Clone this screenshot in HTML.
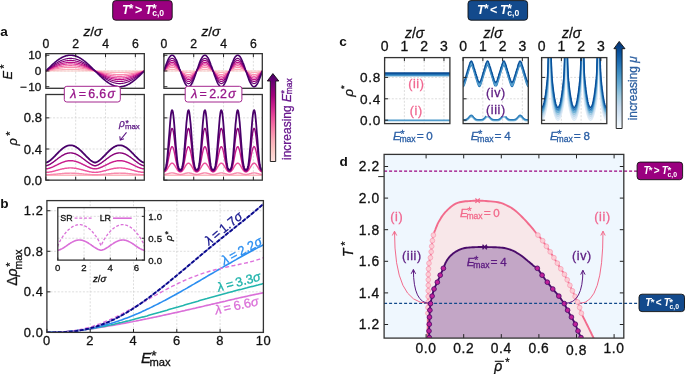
<!DOCTYPE html>
<html><head><meta charset="utf-8"><style>
html,body{margin:0;padding:0;background:#fff;width:685px;height:374px;overflow:hidden}
svg{display:block;font-family:"Liberation Sans",sans-serif;will-change:transform}
</style></head><body>
<svg xmlns="http://www.w3.org/2000/svg" width="685" height="374" viewBox="0 0 685 374" font-family='Liberation Sans, sans-serif'><clipPath id="caL"><rect x="45.85" y="53.65" width="98.45" height="34.65"/></clipPath>
<line x1="75.68" y1="53.65" x2="75.68" y2="88.30" stroke="#cfcfcf" stroke-width="0.7" stroke-dasharray="2,1.6"/>
<line x1="105.52" y1="53.65" x2="105.52" y2="88.30" stroke="#cfcfcf" stroke-width="0.7" stroke-dasharray="2,1.6"/>
<line x1="135.35" y1="53.65" x2="135.35" y2="88.30" stroke="#cfcfcf" stroke-width="0.7" stroke-dasharray="2,1.6"/>
<line x1="45.85" y1="70.97" x2="144.30" y2="70.97" stroke="#cfcfcf" stroke-width="0.7" stroke-dasharray="2,1.6"/>
<g clip-path="url(#caL)">
<path d="M45.9,71.0 46.3,71.0 46.7,71.0 47.1,71.0 47.5,71.0 47.9,71.0 48.3,71.0 48.7,71.0 49.1,71.0 49.6,71.0 50.0,71.0 50.4,71.0 50.8,71.0 51.2,71.0 51.6,71.0 52.0,71.0 52.4,71.0 52.9,71.0 53.3,71.0 53.7,71.0 54.1,71.0 54.5,71.0 54.9,71.0 55.3,71.0 55.7,71.0 56.1,71.0 56.6,71.0 57.0,71.0 57.4,71.0 57.8,71.0 58.2,71.0 58.6,71.0 59.0,71.0 59.4,71.0 59.9,71.0 60.3,71.0 60.7,71.0 61.1,71.0 61.5,71.0 61.9,71.0 62.3,71.0 62.7,71.0 63.2,71.0 63.6,71.0 64.0,71.0 64.4,71.0 64.8,71.0 65.2,71.0 65.6,71.0 66.0,71.0 66.4,71.0 66.9,71.0 67.3,71.0 67.7,71.0 68.1,71.0 68.5,71.0 68.9,71.0 69.3,71.0 69.7,71.0 70.2,71.0 70.6,71.0 71.0,71.0 71.4,71.0 71.8,71.0 72.2,71.0 72.6,71.0 73.0,71.0 73.4,71.0 73.9,71.0 74.3,71.0 74.7,71.0 75.1,71.0 75.5,71.0 75.9,71.0 76.3,71.0 76.7,71.0 77.2,71.0 77.6,71.0 78.0,71.0 78.4,71.0 78.8,71.0 79.2,71.0 79.6,71.0 80.0,71.0 80.5,71.0 80.9,71.0 81.3,71.0 81.7,71.0 82.1,71.0 82.5,71.0 82.9,71.0 83.3,71.0 83.7,71.0 84.2,71.0 84.6,71.0 85.0,71.0 85.4,71.0 85.8,71.0 86.2,71.0 86.6,71.0 87.0,71.0 87.5,71.0 87.9,71.0 88.3,71.0 88.7,71.0 89.1,71.0 89.5,71.0 89.9,71.0 90.3,71.0 90.7,71.0 91.2,71.0 91.6,71.0 92.0,71.0 92.4,71.0 92.8,71.0 93.2,71.0 93.6,71.0 94.0,71.0 94.5,71.0 94.9,71.0 95.3,71.0 95.7,71.0 96.1,71.0 96.5,71.0 96.9,71.0 97.3,71.0 97.8,71.0 98.2,71.0 98.6,71.0 99.0,71.0 99.4,71.0 99.8,71.0 100.2,71.0 100.6,71.0 101.0,71.0 101.5,71.0 101.9,71.0 102.3,71.0 102.7,71.0 103.1,71.0 103.5,71.0 103.9,71.0 104.3,71.0 104.8,71.0 105.2,71.0 105.6,71.0 106.0,71.0 106.4,71.0 106.8,71.0 107.2,71.0 107.6,71.0 108.1,71.0 108.5,71.0 108.9,71.0 109.3,71.0 109.7,71.0 110.1,71.0 110.5,71.0 110.9,71.0 111.3,71.0 111.8,71.0 112.2,71.0 112.6,71.0 113.0,71.0 113.4,71.0 113.8,71.0 114.2,71.0 114.6,71.0 115.1,71.0 115.5,71.0 115.9,71.0 116.3,71.0 116.7,71.0 117.1,71.0 117.5,71.0 117.9,71.0 118.3,71.0 118.8,71.0 119.2,71.0 119.6,71.0 120.0,71.0 120.4,71.0 120.8,71.0 121.2,71.0 121.6,71.0 122.1,71.0 122.5,71.0 122.9,71.0 123.3,71.0 123.7,71.0 124.1,71.0 124.5,71.0 124.9,71.0 125.4,71.0 125.8,71.0 126.2,71.0 126.6,71.0 127.0,71.0 127.4,71.0 127.8,71.0 128.2,71.0 128.6,71.0 129.1,71.0 129.5,71.0 129.9,71.0 130.3,71.0 130.7,71.0 131.1,71.0 131.5,71.0 131.9,71.0 132.4,71.0 132.8,71.0 133.2,71.0 133.6,71.0 134.0,71.0 134.4,71.0 134.8,71.0 135.2,71.0 135.6,71.0 136.1,71.0 136.5,71.0 136.9,71.0 137.3,71.0 137.7,71.0 138.1,71.0 138.5,71.0 138.9,71.0 139.4,71.0 139.8,71.0 140.2,71.0 140.6,71.0 141.0,71.0 141.4,71.0 141.8,71.0 142.2,71.0 142.7,71.0 143.1,71.0 143.5,71.0 143.9,71.0 144.3,71.0" fill="none" stroke="#fccbc7" stroke-width="1.15" stroke-linejoin="round" />
<path d="M45.9,71.0 46.3,70.9 46.7,70.9 47.1,70.9 47.5,70.8 47.9,70.8 48.3,70.7 48.7,70.7 49.1,70.6 49.6,70.6 50.0,70.6 50.4,70.5 50.8,70.5 51.2,70.4 51.6,70.4 52.0,70.4 52.4,70.3 52.9,70.3 53.3,70.3 53.7,70.2 54.1,70.2 54.5,70.1 54.9,70.1 55.3,70.1 55.7,70.0 56.1,70.0 56.6,70.0 57.0,69.9 57.4,69.9 57.8,69.9 58.2,69.9 58.6,69.8 59.0,69.8 59.4,69.8 59.9,69.7 60.3,69.7 60.7,69.7 61.1,69.7 61.5,69.7 61.9,69.6 62.3,69.6 62.7,69.6 63.2,69.6 63.6,69.6 64.0,69.5 64.4,69.5 64.8,69.5 65.2,69.5 65.6,69.5 66.0,69.5 66.4,69.5 66.9,69.4 67.3,69.4 67.7,69.4 68.1,69.4 68.5,69.4 68.9,69.4 69.3,69.4 69.7,69.4 70.2,69.4 70.6,69.4 71.0,69.4 71.4,69.4 71.8,69.4 72.2,69.4 72.6,69.4 73.0,69.4 73.4,69.4 73.9,69.4 74.3,69.4 74.7,69.5 75.1,69.5 75.5,69.5 75.9,69.5 76.3,69.5 76.7,69.5 77.2,69.5 77.6,69.6 78.0,69.6 78.4,69.6 78.8,69.6 79.2,69.6 79.6,69.7 80.0,69.7 80.5,69.7 80.9,69.7 81.3,69.8 81.7,69.8 82.1,69.8 82.5,69.8 82.9,69.9 83.3,69.9 83.7,69.9 84.2,70.0 84.6,70.0 85.0,70.0 85.4,70.1 85.8,70.1 86.2,70.1 86.6,70.2 87.0,70.2 87.5,70.2 87.9,70.3 88.3,70.3 88.7,70.4 89.1,70.4 89.5,70.4 89.9,70.5 90.3,70.5 90.7,70.5 91.2,70.6 91.6,70.6 92.0,70.7 92.4,70.7 92.8,70.7 93.2,70.8 93.6,70.8 94.0,70.9 94.5,70.9 94.9,71.0 95.3,71.0 95.7,71.0 96.1,71.1 96.5,71.1 96.9,71.2 97.3,71.2 97.8,71.2 98.2,71.3 98.6,71.3 99.0,71.4 99.4,71.4 99.8,71.4 100.2,71.5 100.6,71.5 101.0,71.6 101.5,71.6 101.9,71.6 102.3,71.7 102.7,71.7 103.1,71.7 103.5,71.8 103.9,71.8 104.3,71.9 104.8,71.9 105.2,71.9 105.6,72.0 106.0,72.0 106.4,72.0 106.8,72.0 107.2,72.1 107.6,72.1 108.1,72.1 108.5,72.2 108.9,72.2 109.3,72.2 109.7,72.2 110.1,72.3 110.5,72.3 110.9,72.3 111.3,72.3 111.8,72.4 112.2,72.4 112.6,72.4 113.0,72.4 113.4,72.4 113.8,72.4 114.2,72.5 114.6,72.5 115.1,72.5 115.5,72.5 115.9,72.5 116.3,72.5 116.7,72.5 117.1,72.5 117.5,72.5 117.9,72.5 118.3,72.5 118.8,72.5 119.2,72.5 119.6,72.5 120.0,72.5 120.4,72.5 120.8,72.5 121.2,72.5 121.6,72.5 122.1,72.5 122.5,72.5 122.9,72.5 123.3,72.5 123.7,72.5 124.1,72.5 124.5,72.5 124.9,72.5 125.4,72.4 125.8,72.4 126.2,72.4 126.6,72.4 127.0,72.4 127.4,72.4 127.8,72.3 128.2,72.3 128.6,72.3 129.1,72.3 129.5,72.3 129.9,72.2 130.3,72.2 130.7,72.2 131.1,72.1 131.5,72.1 131.9,72.1 132.4,72.1 132.8,72.0 133.2,72.0 133.6,72.0 134.0,71.9 134.4,71.9 134.8,71.9 135.2,71.8 135.6,71.8 136.1,71.8 136.5,71.7 136.9,71.7 137.3,71.7 137.7,71.6 138.1,71.6 138.5,71.5 138.9,71.5 139.4,71.5 139.8,71.4 140.2,71.4 140.6,71.3 141.0,71.3 141.4,71.3 141.8,71.2 142.2,71.2 142.7,71.1 143.1,71.1 143.5,71.1 143.9,71.0 144.3,71.0" fill="none" stroke="#fbb0ba" stroke-width="1.15" stroke-linejoin="round" />
<path d="M45.9,71.0 46.3,70.9 46.7,70.8 47.1,70.7 47.5,70.6 47.9,70.5 48.3,70.4 48.7,70.3 49.1,70.2 49.6,70.1 50.0,70.0 50.4,69.9 50.8,69.9 51.2,69.8 51.6,69.7 52.0,69.6 52.4,69.5 52.9,69.4 53.3,69.3 53.7,69.2 54.1,69.2 54.5,69.1 54.9,69.0 55.3,68.9 55.7,68.8 56.1,68.8 56.6,68.7 57.0,68.6 57.4,68.5 57.8,68.5 58.2,68.4 58.6,68.3 59.0,68.3 59.4,68.2 59.9,68.2 60.3,68.1 60.7,68.0 61.1,68.0 61.5,67.9 61.9,67.9 62.3,67.8 62.7,67.8 63.2,67.7 63.6,67.7 64.0,67.7 64.4,67.6 64.8,67.6 65.2,67.6 65.6,67.5 66.0,67.5 66.4,67.5 66.9,67.4 67.3,67.4 67.7,67.4 68.1,67.4 68.5,67.4 68.9,67.4 69.3,67.4 69.7,67.4 70.2,67.4 70.6,67.4 71.0,67.4 71.4,67.4 71.8,67.4 72.2,67.4 72.6,67.4 73.0,67.4 73.4,67.4 73.9,67.4 74.3,67.5 74.7,67.5 75.1,67.5 75.5,67.5 75.9,67.6 76.3,67.6 76.7,67.6 77.2,67.7 77.6,67.7 78.0,67.8 78.4,67.8 78.8,67.9 79.2,67.9 79.6,68.0 80.0,68.0 80.5,68.1 80.9,68.1 81.3,68.2 81.7,68.2 82.1,68.3 82.5,68.4 82.9,68.4 83.3,68.5 83.7,68.6 84.2,68.7 84.6,68.7 85.0,68.8 85.4,68.9 85.8,69.0 86.2,69.0 86.6,69.1 87.0,69.2 87.5,69.3 87.9,69.4 88.3,69.5 88.7,69.5 89.1,69.6 89.5,69.7 89.9,69.8 90.3,69.9 90.7,70.0 91.2,70.1 91.6,70.2 92.0,70.3 92.4,70.4 92.8,70.5 93.2,70.5 93.6,70.6 94.0,70.7 94.5,70.8 94.9,70.9 95.3,71.0 95.7,71.1 96.1,71.2 96.5,71.3 96.9,71.4 97.3,71.5 97.8,71.6 98.2,71.7 98.6,71.8 99.0,71.9 99.4,72.0 99.8,72.1 100.2,72.1 100.6,72.2 101.0,72.3 101.5,72.4 101.9,72.5 102.3,72.6 102.7,72.7 103.1,72.8 103.5,72.8 103.9,72.9 104.3,73.0 104.8,73.1 105.2,73.2 105.6,73.2 106.0,73.3 106.4,73.4 106.8,73.4 107.2,73.5 107.6,73.6 108.1,73.6 108.5,73.7 108.9,73.8 109.3,73.8 109.7,73.9 110.1,73.9 110.5,74.0 110.9,74.0 111.3,74.1 111.8,74.1 112.2,74.2 112.6,74.2 113.0,74.3 113.4,74.3 113.8,74.3 114.2,74.4 114.6,74.4 115.1,74.4 115.5,74.5 115.9,74.5 116.3,74.5 116.7,74.5 117.1,74.5 117.5,74.6 117.9,74.6 118.3,74.6 118.8,74.6 119.2,74.6 119.6,74.6 120.0,74.6 120.4,74.6 120.8,74.6 121.2,74.6 121.6,74.6 122.1,74.6 122.5,74.5 122.9,74.5 123.3,74.5 123.7,74.5 124.1,74.5 124.5,74.4 124.9,74.4 125.4,74.4 125.8,74.3 126.2,74.3 126.6,74.3 127.0,74.2 127.4,74.2 127.8,74.1 128.2,74.1 128.6,74.0 129.1,74.0 129.5,73.9 129.9,73.9 130.3,73.8 130.7,73.7 131.1,73.7 131.5,73.6 131.9,73.5 132.4,73.5 132.8,73.4 133.2,73.3 133.6,73.3 134.0,73.2 134.4,73.1 134.8,73.0 135.2,73.0 135.6,72.9 136.1,72.8 136.5,72.7 136.9,72.6 137.3,72.5 137.7,72.5 138.1,72.4 138.5,72.3 138.9,72.2 139.4,72.1 139.8,72.0 140.2,71.9 140.6,71.8 141.0,71.7 141.4,71.6 141.8,71.5 142.2,71.4 142.7,71.4 143.1,71.3 143.5,71.2 143.9,71.1 144.3,71.0" fill="none" stroke="#f98daf" stroke-width="1.15" stroke-linejoin="round" />
<path d="M45.9,71.0 46.3,70.8 46.7,70.7 47.1,70.6 47.5,70.4 47.9,70.3 48.3,70.1 48.7,70.0 49.1,69.9 49.6,69.7 50.0,69.6 50.4,69.4 50.8,69.3 51.2,69.2 51.6,69.0 52.0,68.9 52.4,68.8 52.9,68.7 53.3,68.5 53.7,68.4 54.1,68.3 54.5,68.2 54.9,68.0 55.3,67.9 55.7,67.8 56.1,67.7 56.6,67.6 57.0,67.5 57.4,67.4 57.8,67.3 58.2,67.2 58.6,67.1 59.0,67.0 59.4,66.9 59.9,66.8 60.3,66.7 60.7,66.6 61.1,66.5 61.5,66.5 61.9,66.4 62.3,66.3 62.7,66.3 63.2,66.2 63.6,66.1 64.0,66.1 64.4,66.0 64.8,66.0 65.2,65.9 65.6,65.9 66.0,65.8 66.4,65.8 66.9,65.8 67.3,65.7 67.7,65.7 68.1,65.7 68.5,65.7 68.9,65.6 69.3,65.6 69.7,65.6 70.2,65.6 70.6,65.6 71.0,65.6 71.4,65.6 71.8,65.6 72.2,65.7 72.6,65.7 73.0,65.7 73.4,65.7 73.9,65.7 74.3,65.8 74.7,65.8 75.1,65.9 75.5,65.9 75.9,65.9 76.3,66.0 76.7,66.0 77.2,66.1 77.6,66.2 78.0,66.2 78.4,66.3 78.8,66.4 79.2,66.4 79.6,66.5 80.0,66.6 80.5,66.7 80.9,66.8 81.3,66.8 81.7,66.9 82.1,67.0 82.5,67.1 82.9,67.2 83.3,67.3 83.7,67.4 84.2,67.5 84.6,67.6 85.0,67.8 85.4,67.9 85.8,68.0 86.2,68.1 86.6,68.2 87.0,68.3 87.5,68.5 87.9,68.6 88.3,68.7 88.7,68.9 89.1,69.0 89.5,69.1 89.9,69.2 90.3,69.4 90.7,69.5 91.2,69.7 91.6,69.8 92.0,69.9 92.4,70.1 92.8,70.2 93.2,70.3 93.6,70.5 94.0,70.6 94.5,70.8 94.9,70.9 95.3,71.0 95.7,71.2 96.1,71.3 96.5,71.5 96.9,71.6 97.3,71.7 97.8,71.9 98.2,72.0 98.6,72.2 99.0,72.3 99.4,72.4 99.8,72.6 100.2,72.7 100.6,72.8 101.0,73.0 101.5,73.1 101.9,73.2 102.3,73.4 102.7,73.5 103.1,73.6 103.5,73.7 103.9,73.8 104.3,74.0 104.8,74.1 105.2,74.2 105.6,74.3 106.0,74.4 106.4,74.5 106.8,74.6 107.2,74.7 107.6,74.8 108.1,74.9 108.5,75.0 108.9,75.1 109.3,75.2 109.7,75.3 110.1,75.4 110.5,75.4 110.9,75.5 111.3,75.6 111.8,75.7 112.2,75.7 112.6,75.8 113.0,75.8 113.4,75.9 113.8,76.0 114.2,76.0 114.6,76.1 115.1,76.1 115.5,76.1 115.9,76.2 116.3,76.2 116.7,76.2 117.1,76.3 117.5,76.3 117.9,76.3 118.3,76.3 118.8,76.3 119.2,76.3 119.6,76.3 120.0,76.3 120.4,76.3 120.8,76.3 121.2,76.3 121.6,76.3 122.1,76.3 122.5,76.2 122.9,76.2 123.3,76.2 123.7,76.2 124.1,76.1 124.5,76.1 124.9,76.0 125.4,76.0 125.8,75.9 126.2,75.9 126.6,75.8 127.0,75.8 127.4,75.7 127.8,75.6 128.2,75.6 128.6,75.5 129.1,75.4 129.5,75.3 129.9,75.2 130.3,75.1 130.7,75.1 131.1,75.0 131.5,74.9 131.9,74.8 132.4,74.7 132.8,74.6 133.2,74.5 133.6,74.4 134.0,74.2 134.4,74.1 134.8,74.0 135.2,73.9 135.6,73.8 136.1,73.7 136.5,73.5 136.9,73.4 137.3,73.3 137.7,73.2 138.1,73.0 138.5,72.9 138.9,72.8 139.4,72.6 139.8,72.5 140.2,72.4 140.6,72.2 141.0,72.1 141.4,72.0 141.8,71.8 142.2,71.7 142.7,71.5 143.1,71.4 143.5,71.3 143.9,71.1 144.3,71.0" fill="none" stroke="#f463a0" stroke-width="1.15" stroke-linejoin="round" />
<path d="M45.9,71.0 46.3,70.8 46.7,70.6 47.1,70.4 47.5,70.2 47.9,70.0 48.3,69.9 48.7,69.7 49.1,69.5 49.6,69.3 50.0,69.1 50.4,69.0 50.8,68.8 51.2,68.6 51.6,68.4 52.0,68.3 52.4,68.1 52.9,67.9 53.3,67.7 53.7,67.6 54.1,67.4 54.5,67.3 54.9,67.1 55.3,66.9 55.7,66.8 56.1,66.6 56.6,66.5 57.0,66.4 57.4,66.2 57.8,66.1 58.2,65.9 58.6,65.8 59.0,65.7 59.4,65.6 59.9,65.5 60.3,65.3 60.7,65.2 61.1,65.1 61.5,65.0 61.9,64.9 62.3,64.8 62.7,64.7 63.2,64.6 63.6,64.6 64.0,64.5 64.4,64.4 64.8,64.3 65.2,64.3 65.6,64.2 66.0,64.2 66.4,64.1 66.9,64.1 67.3,64.0 67.7,64.0 68.1,64.0 68.5,63.9 68.9,63.9 69.3,63.9 69.7,63.9 70.2,63.9 70.6,63.9 71.0,63.9 71.4,63.9 71.8,63.9 72.2,63.9 72.6,64.0 73.0,64.0 73.4,64.0 73.9,64.1 74.3,64.1 74.7,64.1 75.1,64.2 75.5,64.3 75.9,64.3 76.3,64.4 76.7,64.4 77.2,64.5 77.6,64.6 78.0,64.7 78.4,64.8 78.8,64.9 79.2,65.0 79.6,65.1 80.0,65.2 80.5,65.3 80.9,65.4 81.3,65.5 81.7,65.6 82.1,65.8 82.5,65.9 82.9,66.0 83.3,66.1 83.7,66.3 84.2,66.4 84.6,66.6 85.0,66.7 85.4,66.9 85.8,67.0 86.2,67.2 86.6,67.3 87.0,67.5 87.5,67.7 87.9,67.8 88.3,68.0 88.7,68.2 89.1,68.3 89.5,68.5 89.9,68.7 90.3,68.9 90.7,69.0 91.2,69.2 91.6,69.4 92.0,69.6 92.4,69.8 92.8,70.0 93.2,70.1 93.6,70.3 94.0,70.5 94.5,70.7 94.9,70.9 95.3,71.1 95.7,71.3 96.1,71.4 96.5,71.6 96.9,71.8 97.3,72.0 97.8,72.2 98.2,72.4 98.6,72.5 99.0,72.7 99.4,72.9 99.8,73.1 100.2,73.3 100.6,73.4 101.0,73.6 101.5,73.8 101.9,74.0 102.3,74.1 102.7,74.3 103.1,74.5 103.5,74.6 103.9,74.8 104.3,74.9 104.8,75.1 105.2,75.2 105.6,75.4 106.0,75.5 106.4,75.7 106.8,75.8 107.2,75.9 107.6,76.1 108.1,76.2 108.5,76.3 108.9,76.4 109.3,76.6 109.7,76.7 110.1,76.8 110.5,76.9 110.9,77.0 111.3,77.1 111.8,77.2 112.2,77.3 112.6,77.3 113.0,77.4 113.4,77.5 113.8,77.6 114.2,77.6 114.6,77.7 115.1,77.8 115.5,77.8 115.9,77.9 116.3,77.9 116.7,77.9 117.1,78.0 117.5,78.0 117.9,78.0 118.3,78.0 118.8,78.1 119.2,78.1 119.6,78.1 120.0,78.1 120.4,78.1 120.8,78.0 121.2,78.0 121.6,78.0 122.1,78.0 122.5,78.0 122.9,77.9 123.3,77.9 123.7,77.8 124.1,77.8 124.5,77.7 124.9,77.7 125.4,77.6 125.8,77.5 126.2,77.5 126.6,77.4 127.0,77.3 127.4,77.2 127.8,77.1 128.2,77.0 128.6,76.9 129.1,76.8 129.5,76.7 129.9,76.6 130.3,76.5 130.7,76.4 131.1,76.3 131.5,76.1 131.9,76.0 132.4,75.9 132.8,75.7 133.2,75.6 133.6,75.5 134.0,75.3 134.4,75.2 134.8,75.0 135.2,74.8 135.6,74.7 136.1,74.5 136.5,74.4 136.9,74.2 137.3,74.0 137.7,73.9 138.1,73.7 138.5,73.5 138.9,73.4 139.4,73.2 139.8,73.0 140.2,72.8 140.6,72.6 141.0,72.5 141.4,72.3 141.8,72.1 142.2,71.9 142.7,71.7 143.1,71.5 143.5,71.3 143.9,71.2 144.3,71.0" fill="none" stroke="#e03a98" stroke-width="1.15" stroke-linejoin="round" />
<path d="M45.9,71.0 46.3,70.7 46.7,70.5 47.1,70.3 47.5,70.1 47.9,69.8 48.3,69.6 48.7,69.4 49.1,69.2 49.6,68.9 50.0,68.7 50.4,68.5 50.8,68.3 51.2,68.1 51.6,67.9 52.0,67.6 52.4,67.4 52.9,67.2 53.3,67.0 53.7,66.8 54.1,66.6 54.5,66.4 54.9,66.2 55.3,66.1 55.7,65.9 56.1,65.7 56.6,65.5 57.0,65.3 57.4,65.2 57.8,65.0 58.2,64.8 58.6,64.7 59.0,64.5 59.4,64.4 59.9,64.2 60.3,64.1 60.7,63.9 61.1,63.8 61.5,63.7 61.9,63.6 62.3,63.5 62.7,63.3 63.2,63.2 63.6,63.1 64.0,63.0 64.4,63.0 64.8,62.9 65.2,62.8 65.6,62.7 66.0,62.7 66.4,62.6 66.9,62.5 67.3,62.5 67.7,62.4 68.1,62.4 68.5,62.4 68.9,62.4 69.3,62.3 69.7,62.3 70.2,62.3 70.6,62.3 71.0,62.3 71.4,62.3 71.8,62.3 72.2,62.4 72.6,62.4 73.0,62.4 73.4,62.5 73.9,62.5 74.3,62.6 74.7,62.6 75.1,62.7 75.5,62.8 75.9,62.8 76.3,62.9 76.7,63.0 77.2,63.1 77.6,63.2 78.0,63.3 78.4,63.4 78.8,63.5 79.2,63.6 79.6,63.8 80.0,63.9 80.5,64.0 80.9,64.2 81.3,64.3 81.7,64.4 82.1,64.6 82.5,64.7 82.9,64.9 83.3,65.1 83.7,65.2 84.2,65.4 84.6,65.6 85.0,65.8 85.4,66.0 85.8,66.1 86.2,66.3 86.6,66.5 87.0,66.7 87.5,66.9 87.9,67.1 88.3,67.3 88.7,67.5 89.1,67.8 89.5,68.0 89.9,68.2 90.3,68.4 90.7,68.6 91.2,68.8 91.6,69.1 92.0,69.3 92.4,69.5 92.8,69.7 93.2,70.0 93.6,70.2 94.0,70.4 94.5,70.6 94.9,70.9 95.3,71.1 95.7,71.3 96.1,71.5 96.5,71.8 96.9,72.0 97.3,72.2 97.8,72.4 98.2,72.7 98.6,72.9 99.0,73.1 99.4,73.3 99.8,73.6 100.2,73.8 100.6,74.0 101.0,74.2 101.5,74.4 101.9,74.6 102.3,74.8 102.7,75.0 103.1,75.2 103.5,75.4 103.9,75.6 104.3,75.8 104.8,76.0 105.2,76.2 105.6,76.4 106.0,76.5 106.4,76.7 106.8,76.9 107.2,77.0 107.6,77.2 108.1,77.4 108.5,77.5 108.9,77.7 109.3,77.8 109.7,77.9 110.1,78.1 110.5,78.2 110.9,78.3 111.3,78.4 111.8,78.6 112.2,78.7 112.6,78.8 113.0,78.9 113.4,79.0 113.8,79.0 114.2,79.1 114.6,79.2 115.1,79.3 115.5,79.3 115.9,79.4 116.3,79.4 116.7,79.5 117.1,79.5 117.5,79.6 117.9,79.6 118.3,79.6 118.8,79.6 119.2,79.6 119.6,79.6 120.0,79.6 120.4,79.6 120.8,79.6 121.2,79.6 121.6,79.6 122.1,79.5 122.5,79.5 122.9,79.5 123.3,79.4 123.7,79.4 124.1,79.3 124.5,79.2 124.9,79.2 125.4,79.1 125.8,79.0 126.2,78.9 126.6,78.8 127.0,78.7 127.4,78.6 127.8,78.5 128.2,78.4 128.6,78.3 129.1,78.1 129.5,78.0 129.9,77.9 130.3,77.7 130.7,77.6 131.1,77.4 131.5,77.3 131.9,77.1 132.4,77.0 132.8,76.8 133.2,76.6 133.6,76.4 134.0,76.3 134.4,76.1 134.8,75.9 135.2,75.7 135.6,75.5 136.1,75.3 136.5,75.1 136.9,74.9 137.3,74.7 137.7,74.5 138.1,74.3 138.5,74.1 138.9,73.9 139.4,73.7 139.8,73.4 140.2,73.2 140.6,73.0 141.0,72.8 141.4,72.6 141.8,72.3 142.2,72.1 142.7,71.9 143.1,71.7 143.5,71.4 143.9,71.2 144.3,71.0" fill="none" stroke="#be1286" stroke-width="1.15" stroke-linejoin="round" />
<path d="M45.9,71.0 46.3,70.7 46.7,70.4 47.1,70.1 47.5,69.9 47.9,69.6 48.3,69.3 48.7,69.0 49.1,68.8 49.6,68.5 50.0,68.2 50.4,68.0 50.8,67.7 51.2,67.4 51.6,67.2 52.0,66.9 52.4,66.7 52.9,66.4 53.3,66.2 53.7,65.9 54.1,65.7 54.5,65.4 54.9,65.2 55.3,65.0 55.7,64.7 56.1,64.5 56.6,64.3 57.0,64.1 57.4,63.9 57.8,63.7 58.2,63.5 58.6,63.3 59.0,63.1 59.4,62.9 59.9,62.7 60.3,62.6 60.7,62.4 61.1,62.3 61.5,62.1 61.9,62.0 62.3,61.8 62.7,61.7 63.2,61.6 63.6,61.4 64.0,61.3 64.4,61.2 64.8,61.1 65.2,61.0 65.6,60.9 66.0,60.8 66.4,60.8 66.9,60.7 67.3,60.6 67.7,60.6 68.1,60.5 68.5,60.5 68.9,60.5 69.3,60.5 69.7,60.4 70.2,60.4 70.6,60.4 71.0,60.4 71.4,60.4 71.8,60.5 72.2,60.5 72.6,60.5 73.0,60.6 73.4,60.6 73.9,60.7 74.3,60.7 74.7,60.8 75.1,60.9 75.5,61.0 75.9,61.1 76.3,61.2 76.7,61.3 77.2,61.4 77.6,61.5 78.0,61.6 78.4,61.7 78.8,61.9 79.2,62.0 79.6,62.2 80.0,62.3 80.5,62.5 80.9,62.7 81.3,62.8 81.7,63.0 82.1,63.2 82.5,63.4 82.9,63.6 83.3,63.8 83.7,64.0 84.2,64.2 84.6,64.4 85.0,64.6 85.4,64.9 85.8,65.1 86.2,65.3 86.6,65.6 87.0,65.8 87.5,66.0 87.9,66.3 88.3,66.5 88.7,66.8 89.1,67.0 89.5,67.3 89.9,67.6 90.3,67.8 90.7,68.1 91.2,68.4 91.6,68.6 92.0,68.9 92.4,69.2 92.8,69.5 93.2,69.7 93.6,70.0 94.0,70.3 94.5,70.6 94.9,70.8 95.3,71.1 95.7,71.4 96.1,71.7 96.5,71.9 96.9,72.2 97.3,72.5 97.8,72.8 98.2,73.0 98.6,73.3 99.0,73.6 99.4,73.9 99.8,74.1 100.2,74.4 100.6,74.6 101.0,74.9 101.5,75.2 101.9,75.4 102.3,75.7 102.7,75.9 103.1,76.2 103.5,76.4 103.9,76.6 104.3,76.9 104.8,77.1 105.2,77.3 105.6,77.5 106.0,77.7 106.4,78.0 106.8,78.2 107.2,78.4 107.6,78.6 108.1,78.7 108.5,78.9 108.9,79.1 109.3,79.3 109.7,79.5 110.1,79.6 110.5,79.8 110.9,79.9 111.3,80.1 111.8,80.2 112.2,80.3 112.6,80.5 113.0,80.6 113.4,80.7 113.8,80.8 114.2,80.9 114.6,81.0 115.1,81.1 115.5,81.1 115.9,81.2 116.3,81.3 116.7,81.3 117.1,81.4 117.5,81.4 117.9,81.5 118.3,81.5 118.8,81.5 119.2,81.5 119.6,81.5 120.0,81.5 120.4,81.5 120.8,81.5 121.2,81.5 121.6,81.4 122.1,81.4 122.5,81.4 122.9,81.3 123.3,81.2 123.7,81.2 124.1,81.1 124.5,81.0 124.9,80.9 125.4,80.8 125.8,80.7 126.2,80.6 126.6,80.5 127.0,80.4 127.4,80.3 127.8,80.1 128.2,80.0 128.6,79.8 129.1,79.7 129.5,79.5 129.9,79.4 130.3,79.2 130.7,79.0 131.1,78.8 131.5,78.7 131.9,78.5 132.4,78.3 132.8,78.1 133.2,77.9 133.6,77.6 134.0,77.4 134.4,77.2 134.8,77.0 135.2,76.7 135.6,76.5 136.1,76.3 136.5,76.0 136.9,75.8 137.3,75.5 137.7,75.3 138.1,75.0 138.5,74.8 138.9,74.5 139.4,74.2 139.8,74.0 140.2,73.7 140.6,73.4 141.0,73.2 141.4,72.9 141.8,72.6 142.2,72.4 142.7,72.1 143.1,71.8 143.5,71.5 143.9,71.3 144.3,71.0" fill="none" stroke="#97017b" stroke-width="1.15" stroke-linejoin="round" />
<path d="M45.9,71.0 46.3,70.6 46.7,70.3 47.1,70.0 47.5,69.7 47.9,69.3 48.3,69.0 48.7,68.7 49.1,68.3 49.6,68.0 50.0,67.7 50.4,67.4 50.8,67.1 51.2,66.8 51.6,66.4 52.0,66.1 52.4,65.8 52.9,65.5 53.3,65.2 53.7,64.9 54.1,64.7 54.5,64.4 54.9,64.1 55.3,63.8 55.7,63.5 56.1,63.3 56.6,63.0 57.0,62.8 57.4,62.5 57.8,62.3 58.2,62.0 58.6,61.8 59.0,61.6 59.4,61.4 59.9,61.2 60.3,60.9 60.7,60.8 61.1,60.6 61.5,60.4 61.9,60.2 62.3,60.0 62.7,59.9 63.2,59.7 63.6,59.6 64.0,59.4 64.4,59.3 64.8,59.2 65.2,59.1 65.6,59.0 66.0,58.9 66.4,58.8 66.9,58.7 67.3,58.6 67.7,58.6 68.1,58.5 68.5,58.5 68.9,58.4 69.3,58.4 69.7,58.4 70.2,58.4 70.6,58.4 71.0,58.4 71.4,58.4 71.8,58.4 72.2,58.5 72.6,58.5 73.0,58.5 73.4,58.6 73.9,58.7 74.3,58.7 74.7,58.8 75.1,58.9 75.5,59.0 75.9,59.1 76.3,59.2 76.7,59.4 77.2,59.5 77.6,59.6 78.0,59.8 78.4,60.0 78.8,60.1 79.2,60.3 79.6,60.5 80.0,60.7 80.5,60.8 80.9,61.1 81.3,61.3 81.7,61.5 82.1,61.7 82.5,61.9 82.9,62.2 83.3,62.4 83.7,62.6 84.2,62.9 84.6,63.1 85.0,63.4 85.4,63.7 85.8,63.9 86.2,64.2 86.6,64.5 87.0,64.8 87.5,65.1 87.9,65.4 88.3,65.7 88.7,66.0 89.1,66.3 89.5,66.6 89.9,66.9 90.3,67.2 90.7,67.5 91.2,67.9 91.6,68.2 92.0,68.5 92.4,68.8 92.8,69.2 93.2,69.5 93.6,69.8 94.0,70.1 94.5,70.5 94.9,70.8 95.3,71.1 95.7,71.5 96.1,71.8 96.5,72.1 96.9,72.5 97.3,72.8 97.8,73.1 98.2,73.4 98.6,73.8 99.0,74.1 99.4,74.4 99.8,74.7 100.2,75.0 100.6,75.4 101.0,75.7 101.5,76.0 101.9,76.3 102.3,76.6 102.7,76.9 103.1,77.2 103.5,77.4 103.9,77.7 104.3,78.0 104.8,78.3 105.2,78.5 105.6,78.8 106.0,79.1 106.4,79.3 106.8,79.6 107.2,79.8 107.6,80.0 108.1,80.3 108.5,80.5 108.9,80.7 109.3,80.9 109.7,81.1 110.1,81.3 110.5,81.5 110.9,81.7 111.3,81.8 111.8,82.0 112.2,82.2 112.6,82.3 113.0,82.4 113.4,82.6 113.8,82.7 114.2,82.8 114.6,82.9 115.1,83.0 115.5,83.1 115.9,83.2 116.3,83.3 116.7,83.3 117.1,83.4 117.5,83.5 117.9,83.5 118.3,83.5 118.8,83.6 119.2,83.6 119.6,83.6 120.0,83.6 120.4,83.6 120.8,83.5 121.2,83.5 121.6,83.5 122.1,83.4 122.5,83.4 122.9,83.3 123.3,83.2 123.7,83.2 124.1,83.1 124.5,83.0 124.9,82.9 125.4,82.8 125.8,82.6 126.2,82.5 126.6,82.4 127.0,82.2 127.4,82.1 127.8,81.9 128.2,81.7 128.6,81.6 129.1,81.4 129.5,81.2 129.9,81.0 130.3,80.8 130.7,80.6 131.1,80.4 131.5,80.1 131.9,79.9 132.4,79.7 132.8,79.4 133.2,79.2 133.6,78.9 134.0,78.7 134.4,78.4 134.8,78.1 135.2,77.9 135.6,77.6 136.1,77.3 136.5,77.0 136.9,76.7 137.3,76.4 137.7,76.1 138.1,75.8 138.5,75.5 138.9,75.2 139.4,74.9 139.8,74.6 140.2,74.2 140.6,73.9 141.0,73.6 141.4,73.3 141.8,73.0 142.2,72.6 142.7,72.3 143.1,72.0 143.5,71.6 143.9,71.3 144.3,71.0" fill="none" stroke="#6f0174" stroke-width="1.15" stroke-linejoin="round" />
<path d="M45.9,71.0 46.3,70.6 46.7,70.1 47.1,69.7 47.5,69.3 47.9,68.9 48.3,68.5 48.7,68.1 49.1,67.7 49.6,67.3 50.0,66.9 50.4,66.5 50.8,66.1 51.2,65.7 51.6,65.3 52.0,64.9 52.4,64.5 52.9,64.2 53.3,63.8 53.7,63.4 54.1,63.1 54.5,62.7 54.9,62.4 55.3,62.0 55.7,61.7 56.1,61.4 56.6,61.0 57.0,60.7 57.4,60.4 57.8,60.1 58.2,59.8 58.6,59.5 59.0,59.2 59.4,59.0 59.9,58.7 60.3,58.4 60.7,58.2 61.1,58.0 61.5,57.7 61.9,57.5 62.3,57.3 62.7,57.1 63.2,56.9 63.6,56.7 64.0,56.6 64.4,56.4 64.8,56.2 65.2,56.1 65.6,56.0 66.0,55.8 66.4,55.7 66.9,55.6 67.3,55.6 67.7,55.5 68.1,55.4 68.5,55.3 68.9,55.3 69.3,55.3 69.7,55.2 70.2,55.2 70.6,55.2 71.0,55.2 71.4,55.3 71.8,55.3 72.2,55.3 72.6,55.4 73.0,55.4 73.4,55.5 73.9,55.6 74.3,55.7 74.7,55.8 75.1,55.9 75.5,56.0 75.9,56.2 76.3,56.3 76.7,56.5 77.2,56.6 77.6,56.8 78.0,57.0 78.4,57.2 78.8,57.4 79.2,57.6 79.6,57.8 80.0,58.1 80.5,58.3 80.9,58.6 81.3,58.8 81.7,59.1 82.1,59.4 82.5,59.7 82.9,59.9 83.3,60.2 83.7,60.6 84.2,60.9 84.6,61.2 85.0,61.5 85.4,61.9 85.8,62.2 86.2,62.5 86.6,62.9 87.0,63.2 87.5,63.6 87.9,64.0 88.3,64.4 88.7,64.7 89.1,65.1 89.5,65.5 89.9,65.9 90.3,66.3 90.7,66.7 91.2,67.1 91.6,67.5 92.0,67.9 92.4,68.3 92.8,68.7 93.2,69.1 93.6,69.5 94.0,69.9 94.5,70.4 94.9,70.8 95.3,71.2 95.7,71.6 96.1,72.0 96.5,72.4 96.9,72.8 97.3,73.2 97.8,73.7 98.2,74.1 98.6,74.5 99.0,74.9 99.4,75.3 99.8,75.7 100.2,76.1 100.6,76.4 101.0,76.8 101.5,77.2 101.9,77.6 102.3,78.0 102.7,78.3 103.1,78.7 103.5,79.1 103.9,79.4 104.3,79.8 104.8,80.1 105.2,80.4 105.6,80.8 106.0,81.1 106.4,81.4 106.8,81.7 107.2,82.0 107.6,82.3 108.1,82.6 108.5,82.9 108.9,83.1 109.3,83.4 109.7,83.6 110.1,83.9 110.5,84.1 110.9,84.3 111.3,84.5 111.8,84.8 112.2,84.9 112.6,85.1 113.0,85.3 113.4,85.5 113.8,85.6 114.2,85.8 114.6,85.9 115.1,86.0 115.5,86.2 115.9,86.3 116.3,86.4 116.7,86.4 117.1,86.5 117.5,86.6 117.9,86.6 118.3,86.7 118.8,86.7 119.2,86.7 119.6,86.7 120.0,86.7 120.4,86.7 120.8,86.7 121.2,86.6 121.6,86.6 122.1,86.5 122.5,86.5 122.9,86.4 123.3,86.3 123.7,86.2 124.1,86.1 124.5,86.0 124.9,85.8 125.4,85.7 125.8,85.6 126.2,85.4 126.6,85.2 127.0,85.0 127.4,84.8 127.8,84.6 128.2,84.4 128.6,84.2 129.1,84.0 129.5,83.8 129.9,83.5 130.3,83.3 130.7,83.0 131.1,82.7 131.5,82.4 131.9,82.1 132.4,81.9 132.8,81.5 133.2,81.2 133.6,80.9 134.0,80.6 134.4,80.3 134.8,79.9 135.2,79.6 135.6,79.2 136.1,78.9 136.5,78.5 136.9,78.2 137.3,77.8 137.7,77.4 138.1,77.0 138.5,76.6 138.9,76.3 139.4,75.9 139.8,75.5 140.2,75.1 140.6,74.7 141.0,74.3 141.4,73.9 141.8,73.4 142.2,73.0 142.7,72.6 143.1,72.2 143.5,71.8 143.9,71.4 144.3,71.0" fill="none" stroke="#49006a" stroke-width="1.6" stroke-linejoin="round" />
</g>
<line x1="45.85" y1="53.65" x2="45.85" y2="57.15" stroke="#222" stroke-width="1.0"/>
<line x1="75.68" y1="53.65" x2="75.68" y2="57.15" stroke="#222" stroke-width="1.0"/>
<line x1="105.52" y1="53.65" x2="105.52" y2="57.15" stroke="#222" stroke-width="1.0"/>
<line x1="135.35" y1="53.65" x2="135.35" y2="57.15" stroke="#222" stroke-width="1.0"/>
<line x1="45.85" y1="86.72" x2="49.35" y2="86.72" stroke="#222" stroke-width="1.0"/>
<line x1="45.85" y1="70.97" x2="49.35" y2="70.97" stroke="#222" stroke-width="1.0"/>
<line x1="45.85" y1="55.22" x2="49.35" y2="55.22" stroke="#222" stroke-width="1.0"/>
<rect x="45.85" y="53.65" width="98.45" height="34.65" fill="none" stroke="#333" stroke-width="1.3"/>
<clipPath id="caR"><rect x="163.90" y="53.65" width="98.40" height="34.65"/></clipPath>
<line x1="193.72" y1="53.65" x2="193.72" y2="88.30" stroke="#cfcfcf" stroke-width="0.7" stroke-dasharray="2,1.6"/>
<line x1="223.54" y1="53.65" x2="223.54" y2="88.30" stroke="#cfcfcf" stroke-width="0.7" stroke-dasharray="2,1.6"/>
<line x1="253.35" y1="53.65" x2="253.35" y2="88.30" stroke="#cfcfcf" stroke-width="0.7" stroke-dasharray="2,1.6"/>
<line x1="163.90" y1="70.97" x2="262.30" y2="70.97" stroke="#cfcfcf" stroke-width="0.7" stroke-dasharray="2,1.6"/>
<g clip-path="url(#caR)">
<path d="M163.9,71.0 164.3,71.0 164.7,71.0 165.1,71.0 165.5,71.0 166.0,71.0 166.4,71.0 166.8,71.0 167.2,71.0 167.6,71.0 168.0,71.0 168.4,71.0 168.8,71.0 169.3,71.0 169.7,71.0 170.1,71.0 170.5,71.0 170.9,71.0 171.3,71.0 171.7,71.0 172.1,71.0 172.5,71.0 173.0,71.0 173.4,71.0 173.8,71.0 174.2,71.0 174.6,71.0 175.0,71.0 175.4,71.0 175.8,71.0 176.3,71.0 176.7,71.0 177.1,71.0 177.5,71.0 177.9,71.0 178.3,71.0 178.7,71.0 179.1,71.0 179.5,71.0 180.0,71.0 180.4,71.0 180.8,71.0 181.2,71.0 181.6,71.0 182.0,71.0 182.4,71.0 182.8,71.0 183.3,71.0 183.7,71.0 184.1,71.0 184.5,71.0 184.9,71.0 185.3,71.0 185.7,71.0 186.1,71.0 186.5,71.0 187.0,71.0 187.4,71.0 187.8,71.0 188.2,71.0 188.6,71.0 189.0,71.0 189.4,71.0 189.8,71.0 190.2,71.0 190.7,71.0 191.1,71.0 191.5,71.0 191.9,71.0 192.3,71.0 192.7,71.0 193.1,71.0 193.5,71.0 194.0,71.0 194.4,71.0 194.8,71.0 195.2,71.0 195.6,71.0 196.0,71.0 196.4,71.0 196.8,71.0 197.2,71.0 197.7,71.0 198.1,71.0 198.5,71.0 198.9,71.0 199.3,71.0 199.7,71.0 200.1,71.0 200.5,71.0 201.0,71.0 201.4,71.0 201.8,71.0 202.2,71.0 202.6,71.0 203.0,71.0 203.4,71.0 203.8,71.0 204.2,71.0 204.7,71.0 205.1,71.0 205.5,71.0 205.9,71.0 206.3,71.0 206.7,71.0 207.1,71.0 207.5,71.0 208.0,71.0 208.4,71.0 208.8,71.0 209.2,71.0 209.6,71.0 210.0,71.0 210.4,71.0 210.8,71.0 211.2,71.0 211.7,71.0 212.1,71.0 212.5,71.0 212.9,71.0 213.3,71.0 213.7,71.0 214.1,71.0 214.5,71.0 215.0,71.0 215.4,71.0 215.8,71.0 216.2,71.0 216.6,71.0 217.0,71.0 217.4,71.0 217.8,71.0 218.2,71.0 218.7,71.0 219.1,71.0 219.5,71.0 219.9,71.0 220.3,71.0 220.7,71.0 221.1,71.0 221.5,71.0 222.0,71.0 222.4,71.0 222.8,71.0 223.2,71.0 223.6,71.0 224.0,71.0 224.4,71.0 224.8,71.0 225.2,71.0 225.7,71.0 226.1,71.0 226.5,71.0 226.9,71.0 227.3,71.0 227.7,71.0 228.1,71.0 228.5,71.0 229.0,71.0 229.4,71.0 229.8,71.0 230.2,71.0 230.6,71.0 231.0,71.0 231.4,71.0 231.8,71.0 232.2,71.0 232.7,71.0 233.1,71.0 233.5,71.0 233.9,71.0 234.3,71.0 234.7,71.0 235.1,71.0 235.5,71.0 236.0,71.0 236.4,71.0 236.8,71.0 237.2,71.0 237.6,71.0 238.0,71.0 238.4,71.0 238.8,71.0 239.2,71.0 239.7,71.0 240.1,71.0 240.5,71.0 240.9,71.0 241.3,71.0 241.7,71.0 242.1,71.0 242.5,71.0 242.9,71.0 243.4,71.0 243.8,71.0 244.2,71.0 244.6,71.0 245.0,71.0 245.4,71.0 245.8,71.0 246.2,71.0 246.7,71.0 247.1,71.0 247.5,71.0 247.9,71.0 248.3,71.0 248.7,71.0 249.1,71.0 249.5,71.0 249.9,71.0 250.4,71.0 250.8,71.0 251.2,71.0 251.6,71.0 252.0,71.0 252.4,71.0 252.8,71.0 253.2,71.0 253.7,71.0 254.1,71.0 254.5,71.0 254.9,71.0 255.3,71.0 255.7,71.0 256.1,71.0 256.5,71.0 256.9,71.0 257.4,71.0 257.8,71.0 258.2,71.0 258.6,71.0 259.0,71.0 259.4,71.0 259.8,71.0 260.2,71.0 260.7,71.0 261.1,71.0 261.5,71.0 261.9,71.0 262.3,71.0" fill="none" stroke="#fccbc7" stroke-width="1.15" stroke-linejoin="round" />
<path d="M163.9,71.0 164.3,70.9 164.7,70.7 165.1,70.6 165.5,70.5 166.0,70.4 166.4,70.3 166.8,70.1 167.2,70.0 167.6,69.9 168.0,69.9 168.4,69.8 168.8,69.7 169.3,69.6 169.7,69.6 170.1,69.5 170.5,69.5 170.9,69.4 171.3,69.4 171.7,69.4 172.1,69.4 172.5,69.4 173.0,69.4 173.4,69.4 173.8,69.5 174.2,69.5 174.6,69.6 175.0,69.6 175.4,69.7 175.8,69.8 176.3,69.9 176.7,70.0 177.1,70.1 177.5,70.2 177.9,70.3 178.3,70.4 178.7,70.5 179.1,70.6 179.5,70.7 180.0,70.9 180.4,71.0 180.8,71.1 181.2,71.2 181.6,71.4 182.0,71.5 182.4,71.6 182.8,71.7 183.3,71.8 183.7,71.9 184.1,72.0 184.5,72.1 184.9,72.2 185.3,72.3 185.7,72.3 186.1,72.4 186.5,72.4 187.0,72.5 187.4,72.5 187.8,72.5 188.2,72.5 188.6,72.5 189.0,72.5 189.4,72.5 189.8,72.5 190.2,72.5 190.7,72.4 191.1,72.4 191.5,72.3 191.9,72.2 192.3,72.1 192.7,72.1 193.1,72.0 193.5,71.9 194.0,71.8 194.4,71.7 194.8,71.5 195.2,71.4 195.6,71.3 196.0,71.2 196.4,71.1 196.8,70.9 197.2,70.8 197.7,70.7 198.1,70.6 198.5,70.4 198.9,70.3 199.3,70.2 199.7,70.1 200.1,70.0 200.5,69.9 201.0,69.8 201.4,69.7 201.8,69.7 202.2,69.6 202.6,69.6 203.0,69.5 203.4,69.5 203.8,69.4 204.2,69.4 204.7,69.4 205.1,69.4 205.5,69.4 205.9,69.4 206.3,69.5 206.7,69.5 207.1,69.5 207.5,69.6 208.0,69.7 208.4,69.7 208.8,69.8 209.2,69.9 209.6,70.0 210.0,70.1 210.4,70.2 210.8,70.3 211.2,70.4 211.7,70.5 212.1,70.7 212.5,70.8 212.9,70.9 213.3,71.0 213.7,71.2 214.1,71.3 214.5,71.4 215.0,71.5 215.4,71.6 215.8,71.7 216.2,71.9 216.6,72.0 217.0,72.0 217.4,72.1 217.8,72.2 218.2,72.3 218.7,72.4 219.1,72.4 219.5,72.5 219.9,72.5 220.3,72.5 220.7,72.5 221.1,72.5 221.5,72.5 222.0,72.5 222.4,72.5 222.8,72.5 223.2,72.4 223.6,72.4 224.0,72.3 224.4,72.3 224.8,72.2 225.2,72.1 225.7,72.0 226.1,71.9 226.5,71.8 226.9,71.7 227.3,71.6 227.7,71.5 228.1,71.4 228.5,71.3 229.0,71.1 229.4,71.0 229.8,70.9 230.2,70.8 230.6,70.6 231.0,70.5 231.4,70.4 231.8,70.3 232.2,70.2 232.7,70.1 233.1,70.0 233.5,69.9 233.9,69.8 234.3,69.7 234.7,69.7 235.1,69.6 235.5,69.5 236.0,69.5 236.4,69.5 236.8,69.4 237.2,69.4 237.6,69.4 238.0,69.4 238.4,69.4 238.8,69.4 239.2,69.5 239.7,69.5 240.1,69.6 240.5,69.6 240.9,69.7 241.3,69.8 241.7,69.8 242.1,69.9 242.5,70.0 242.9,70.1 243.4,70.2 243.8,70.4 244.2,70.5 244.6,70.6 245.0,70.7 245.4,70.8 245.8,71.0 246.2,71.1 246.7,71.2 247.1,71.3 247.5,71.4 247.9,71.6 248.3,71.7 248.7,71.8 249.1,71.9 249.5,72.0 249.9,72.1 250.4,72.2 250.8,72.2 251.2,72.3 251.6,72.4 252.0,72.4 252.4,72.5 252.8,72.5 253.2,72.5 253.7,72.5 254.1,72.5 254.5,72.5 254.9,72.5 255.3,72.5 255.7,72.5 256.1,72.4 256.5,72.4 256.9,72.3 257.4,72.3 257.8,72.2 258.2,72.1 258.6,72.0 259.0,71.9 259.4,71.8 259.8,71.7 260.2,71.6 260.7,71.5 261.1,71.3 261.5,71.2 261.9,71.1 262.3,71.0" fill="none" stroke="#fbb0ba" stroke-width="1.15" stroke-linejoin="round" />
<path d="M163.9,71.0 164.3,70.7 164.7,70.4 165.1,70.1 165.5,69.9 166.0,69.6 166.4,69.3 166.8,69.1 167.2,68.8 167.6,68.6 168.0,68.4 168.4,68.2 168.8,68.0 169.3,67.9 169.7,67.7 170.1,67.6 170.5,67.5 170.9,67.4 171.3,67.4 171.7,67.4 172.1,67.4 172.5,67.4 173.0,67.4 173.4,67.5 173.8,67.5 174.2,67.6 174.6,67.8 175.0,67.9 175.4,68.1 175.8,68.2 176.3,68.4 176.7,68.7 177.1,68.9 177.5,69.1 177.9,69.4 178.3,69.6 178.7,69.9 179.1,70.2 179.5,70.5 180.0,70.7 180.4,71.0 180.8,71.3 181.2,71.6 181.6,71.9 182.0,72.1 182.4,72.4 182.8,72.7 183.3,72.9 183.7,73.2 184.1,73.4 184.5,73.6 184.9,73.8 185.3,73.9 185.7,74.1 186.1,74.2 186.5,74.3 187.0,74.4 187.4,74.5 187.8,74.6 188.2,74.6 188.6,74.6 189.0,74.6 189.4,74.5 189.8,74.5 190.2,74.4 190.7,74.3 191.1,74.2 191.5,74.0 191.9,73.9 192.3,73.7 192.7,73.5 193.1,73.3 193.5,73.0 194.0,72.8 194.4,72.5 194.8,72.3 195.2,72.0 195.6,71.7 196.0,71.4 196.4,71.2 196.8,70.9 197.2,70.6 197.7,70.3 198.1,70.0 198.5,69.8 198.9,69.5 199.3,69.2 199.7,69.0 200.1,68.8 200.5,68.5 201.0,68.3 201.4,68.2 201.8,68.0 202.2,67.8 202.6,67.7 203.0,67.6 203.4,67.5 203.8,67.4 204.2,67.4 204.7,67.4 205.1,67.4 205.5,67.4 205.9,67.4 206.3,67.5 206.7,67.6 207.1,67.7 207.5,67.8 208.0,68.0 208.4,68.1 208.8,68.3 209.2,68.5 209.6,68.7 210.0,69.0 210.4,69.2 210.8,69.5 211.2,69.7 211.7,70.0 212.1,70.3 212.5,70.5 212.9,70.8 213.3,71.1 213.7,71.4 214.1,71.7 214.5,72.0 215.0,72.2 215.4,72.5 215.8,72.8 216.2,73.0 216.6,73.2 217.0,73.4 217.4,73.6 217.8,73.8 218.2,74.0 218.7,74.1 219.1,74.3 219.5,74.4 219.9,74.5 220.3,74.5 220.7,74.6 221.1,74.6 221.5,74.6 222.0,74.6 222.4,74.5 222.8,74.5 223.2,74.4 223.6,74.3 224.0,74.1 224.4,74.0 224.8,73.8 225.2,73.6 225.7,73.4 226.1,73.2 226.5,73.0 226.9,72.7 227.3,72.5 227.7,72.2 228.1,71.9 228.5,71.6 229.0,71.4 229.4,71.1 229.8,70.8 230.2,70.5 230.6,70.2 231.0,69.9 231.4,69.7 231.8,69.4 232.2,69.2 232.7,68.9 233.1,68.7 233.5,68.5 233.9,68.3 234.3,68.1 234.7,67.9 235.1,67.8 235.5,67.7 236.0,67.6 236.4,67.5 236.8,67.4 237.2,67.4 237.6,67.4 238.0,67.4 238.4,67.4 238.8,67.4 239.2,67.5 239.7,67.6 240.1,67.7 240.5,67.9 240.9,68.0 241.3,68.2 241.7,68.4 242.1,68.6 242.5,68.8 242.9,69.0 243.4,69.3 243.8,69.5 244.2,69.8 244.6,70.1 245.0,70.4 245.4,70.6 245.8,70.9 246.2,71.2 246.7,71.5 247.1,71.8 247.5,72.1 247.9,72.3 248.3,72.6 248.7,72.8 249.1,73.1 249.5,73.3 249.9,73.5 250.4,73.7 250.8,73.9 251.2,74.0 251.6,74.2 252.0,74.3 252.4,74.4 252.8,74.5 253.2,74.5 253.7,74.6 254.1,74.6 254.5,74.6 254.9,74.6 255.3,74.5 255.7,74.4 256.1,74.3 256.5,74.2 256.9,74.1 257.4,73.9 257.8,73.7 258.2,73.5 258.6,73.3 259.0,73.1 259.4,72.9 259.8,72.6 260.2,72.4 260.7,72.1 261.1,71.8 261.5,71.5 261.9,71.3 262.3,71.0" fill="none" stroke="#f98daf" stroke-width="1.15" stroke-linejoin="round" />
<path d="M163.9,71.0 164.3,70.6 164.7,70.1 165.1,69.7 165.5,69.3 166.0,68.9 166.4,68.5 166.8,68.2 167.2,67.8 167.6,67.5 168.0,67.2 168.4,66.9 168.8,66.6 169.3,66.4 169.7,66.2 170.1,66.0 170.5,65.9 170.9,65.8 171.3,65.7 171.7,65.6 172.1,65.6 172.5,65.6 173.0,65.7 173.4,65.8 173.8,65.9 174.2,66.0 174.6,66.2 175.0,66.4 175.4,66.7 175.8,66.9 176.3,67.2 176.7,67.5 177.1,67.9 177.5,68.2 177.9,68.6 178.3,69.0 178.7,69.4 179.1,69.8 179.5,70.2 180.0,70.6 180.4,71.0 180.8,71.5 181.2,71.9 181.6,72.3 182.0,72.7 182.4,73.1 182.8,73.5 183.3,73.8 183.7,74.2 184.1,74.5 184.5,74.8 184.9,75.1 185.3,75.4 185.7,75.6 186.1,75.8 186.5,76.0 187.0,76.1 187.4,76.2 187.8,76.3 188.2,76.3 188.6,76.3 189.0,76.3 189.4,76.2 189.8,76.2 190.2,76.0 190.7,75.9 191.1,75.7 191.5,75.5 191.9,75.2 192.3,75.0 192.7,74.7 193.1,74.4 193.5,74.0 194.0,73.7 194.4,73.3 194.8,72.9 195.2,72.5 195.6,72.1 196.0,71.7 196.4,71.3 196.8,70.8 197.2,70.4 197.7,70.0 198.1,69.6 198.5,69.2 198.9,68.8 199.3,68.4 199.7,68.0 200.1,67.7 200.5,67.4 201.0,67.1 201.4,66.8 201.8,66.5 202.2,66.3 202.6,66.1 203.0,66.0 203.4,65.8 203.8,65.7 204.2,65.7 204.7,65.6 205.1,65.6 205.5,65.7 205.9,65.7 206.3,65.8 206.7,65.9 207.1,66.1 207.5,66.3 208.0,66.5 208.4,66.8 208.8,67.0 209.2,67.3 209.6,67.6 210.0,68.0 210.4,68.3 210.8,68.7 211.2,69.1 211.7,69.5 212.1,69.9 212.5,70.3 212.9,70.8 213.3,71.2 213.7,71.6 214.1,72.0 214.5,72.4 215.0,72.8 215.4,73.2 215.8,73.6 216.2,74.0 216.6,74.3 217.0,74.6 217.4,74.9 217.8,75.2 218.2,75.4 218.7,75.7 219.1,75.8 219.5,76.0 219.9,76.1 220.3,76.2 220.7,76.3 221.1,76.3 221.5,76.3 222.0,76.3 222.4,76.2 222.8,76.1 223.2,76.0 223.6,75.8 224.0,75.6 224.4,75.4 224.8,75.1 225.2,74.9 225.7,74.6 226.1,74.2 226.5,73.9 226.9,73.5 227.3,73.2 227.7,72.8 228.1,72.4 228.5,72.0 229.0,71.5 229.4,71.1 229.8,70.7 230.2,70.3 230.6,69.9 231.0,69.4 231.4,69.0 231.8,68.7 232.2,68.3 232.7,67.9 233.1,67.6 233.5,67.3 233.9,67.0 234.3,66.7 234.7,66.5 235.1,66.3 235.5,66.1 236.0,65.9 236.4,65.8 236.8,65.7 237.2,65.6 237.6,65.6 238.0,65.6 238.4,65.7 238.8,65.7 239.2,65.9 239.7,66.0 240.1,66.2 240.5,66.4 240.9,66.6 241.3,66.8 241.7,67.1 242.1,67.4 242.5,67.8 242.9,68.1 243.4,68.5 243.8,68.9 244.2,69.2 244.6,69.7 245.0,70.1 245.4,70.5 245.8,70.9 246.2,71.3 246.7,71.7 247.1,72.2 247.5,72.6 247.9,73.0 248.3,73.4 248.7,73.7 249.1,74.1 249.5,74.4 249.9,74.7 250.4,75.0 250.8,75.3 251.2,75.5 251.6,75.7 252.0,75.9 252.4,76.1 252.8,76.2 253.2,76.3 253.7,76.3 254.1,76.3 254.5,76.3 254.9,76.3 255.3,76.2 255.7,76.1 256.1,75.9 256.5,75.8 256.9,75.6 257.4,75.3 257.8,75.1 258.2,74.8 258.6,74.5 259.0,74.1 259.4,73.8 259.8,73.4 260.2,73.0 260.7,72.6 261.1,72.2 261.5,71.8 261.9,71.4 262.3,71.0" fill="none" stroke="#f463a0" stroke-width="1.15" stroke-linejoin="round" />
<path d="M163.9,71.0 164.3,70.4 164.7,69.9 165.1,69.3 165.5,68.8 166.0,68.3 166.4,67.7 166.8,67.3 167.2,66.8 167.6,66.4 168.0,65.9 168.4,65.6 168.8,65.2 169.3,64.9 169.7,64.6 170.1,64.4 170.5,64.2 170.9,64.1 171.3,64.0 171.7,63.9 172.1,63.9 172.5,63.9 173.0,64.0 173.4,64.1 173.8,64.3 174.2,64.4 174.6,64.7 175.0,65.0 175.4,65.3 175.8,65.6 176.3,66.0 176.7,66.4 177.1,66.9 177.5,67.3 177.9,67.8 178.3,68.3 178.7,68.9 179.1,69.4 179.5,70.0 180.0,70.5 180.4,71.1 180.8,71.6 181.2,72.2 181.6,72.7 182.0,73.3 182.4,73.8 182.8,74.3 183.3,74.8 183.7,75.2 184.1,75.7 184.5,76.1 184.9,76.4 185.3,76.8 185.7,77.1 186.1,77.3 186.5,77.6 187.0,77.8 187.4,77.9 187.8,78.0 188.2,78.1 188.6,78.1 189.0,78.0 189.4,78.0 189.8,77.8 190.2,77.7 190.7,77.5 191.1,77.2 191.5,76.9 191.9,76.6 192.3,76.3 192.7,75.9 193.1,75.5 193.5,75.0 194.0,74.5 194.4,74.0 194.8,73.5 195.2,73.0 195.6,72.5 196.0,71.9 196.4,71.3 196.8,70.8 197.2,70.2 197.7,69.7 198.1,69.1 198.5,68.6 198.9,68.1 199.3,67.6 199.7,67.1 200.1,66.6 200.5,66.2 201.0,65.8 201.4,65.5 201.8,65.1 202.2,64.8 202.6,64.6 203.0,64.3 203.4,64.2 203.8,64.0 204.2,63.9 204.7,63.9 205.1,63.9 205.5,63.9 205.9,64.0 206.3,64.1 206.7,64.3 207.1,64.5 207.5,64.8 208.0,65.1 208.4,65.4 208.8,65.8 209.2,66.1 209.6,66.6 210.0,67.0 210.4,67.5 210.8,68.0 211.2,68.5 211.7,69.0 212.1,69.6 212.5,70.1 212.9,70.7 213.3,71.3 213.7,71.8 214.1,72.4 214.5,72.9 215.0,73.4 215.4,74.0 215.8,74.5 216.2,74.9 216.6,75.4 217.0,75.8 217.4,76.2 217.8,76.6 218.2,76.9 218.7,77.2 219.1,77.4 219.5,77.6 219.9,77.8 220.3,77.9 220.7,78.0 221.1,78.1 221.5,78.1 222.0,78.0 222.4,77.9 222.8,77.8 223.2,77.6 223.6,77.4 224.0,77.1 224.4,76.8 224.8,76.5 225.2,76.1 225.7,75.7 226.1,75.3 226.5,74.8 226.9,74.4 227.3,73.9 227.7,73.4 228.1,72.8 228.5,72.3 229.0,71.7 229.4,71.2 229.8,70.6 230.2,70.0 230.6,69.5 231.0,69.0 231.4,68.4 231.8,67.9 232.2,67.4 232.7,66.9 233.1,66.5 233.5,66.1 233.9,65.7 234.3,65.3 234.7,65.0 235.1,64.7 235.5,64.5 236.0,64.3 236.4,64.1 236.8,64.0 237.2,63.9 237.6,63.9 238.0,63.9 238.4,64.0 238.8,64.1 239.2,64.2 239.7,64.4 240.1,64.6 240.5,64.9 240.9,65.2 241.3,65.5 241.7,65.9 242.1,66.3 242.5,66.7 242.9,67.2 243.4,67.7 243.8,68.2 244.2,68.7 244.6,69.2 245.0,69.8 245.4,70.3 245.8,70.9 246.2,71.4 246.7,72.0 247.1,72.5 247.5,73.1 247.9,73.6 248.3,74.1 248.7,74.6 249.1,75.1 249.5,75.5 249.9,75.9 250.4,76.3 250.8,76.7 251.2,77.0 251.6,77.3 252.0,77.5 252.4,77.7 252.8,77.9 253.2,78.0 253.7,78.0 254.1,78.1 254.5,78.0 254.9,78.0 255.3,77.9 255.7,77.7 256.1,77.5 256.5,77.3 256.9,77.0 257.4,76.7 257.8,76.4 258.2,76.0 258.6,75.6 259.0,75.2 259.4,74.7 259.8,74.2 260.2,73.7 260.7,73.2 261.1,72.6 261.5,72.1 261.9,71.5 262.3,71.0" fill="none" stroke="#e03a98" stroke-width="1.15" stroke-linejoin="round" />
<path d="M163.9,71.0 164.3,70.3 164.7,69.6 165.1,68.9 165.5,68.3 166.0,67.6 166.4,67.0 166.8,66.4 167.2,65.9 167.6,65.3 168.0,64.8 168.4,64.4 168.8,63.9 169.3,63.6 169.7,63.2 170.1,63.0 170.5,62.7 170.9,62.5 171.3,62.4 171.7,62.3 172.1,62.3 172.5,62.3 173.0,62.4 173.4,62.6 173.8,62.8 174.2,63.0 174.6,63.3 175.0,63.6 175.4,64.0 175.8,64.4 176.3,64.9 176.7,65.4 177.1,66.0 177.5,66.5 177.9,67.1 178.3,67.8 178.7,68.4 179.1,69.1 179.5,69.7 180.0,70.4 180.4,71.1 180.8,71.8 181.2,72.4 181.6,73.1 182.0,73.8 182.4,74.4 182.8,75.0 183.3,75.6 183.7,76.2 184.1,76.7 184.5,77.2 184.9,77.7 185.3,78.1 185.7,78.4 186.1,78.8 186.5,79.0 187.0,79.3 187.4,79.4 187.8,79.6 188.2,79.6 188.6,79.6 189.0,79.6 189.4,79.5 189.8,79.4 190.2,79.2 190.7,78.9 191.1,78.6 191.5,78.3 191.9,77.9 192.3,77.4 192.7,77.0 193.1,76.4 193.5,75.9 194.0,75.3 194.4,74.7 194.8,74.1 195.2,73.4 195.6,72.8 196.0,72.1 196.4,71.4 196.8,70.7 197.2,70.1 197.7,69.4 198.1,68.7 198.5,68.1 198.9,67.4 199.3,66.8 199.7,66.2 200.1,65.7 200.5,65.2 201.0,64.7 201.4,64.2 201.8,63.8 202.2,63.5 202.6,63.1 203.0,62.9 203.4,62.7 203.8,62.5 204.2,62.4 204.7,62.3 205.1,62.3 205.5,62.4 205.9,62.5 206.3,62.6 206.7,62.8 207.1,63.1 207.5,63.4 208.0,63.8 208.4,64.2 208.8,64.6 209.2,65.1 209.6,65.6 210.0,66.1 210.4,66.7 210.8,67.3 211.2,68.0 211.7,68.6 212.1,69.3 212.5,70.0 212.9,70.6 213.3,71.3 213.7,72.0 214.1,72.7 214.5,73.3 215.0,74.0 215.4,74.6 215.8,75.2 216.2,75.8 216.6,76.4 217.0,76.9 217.4,77.4 217.8,77.8 218.2,78.2 218.7,78.6 219.1,78.9 219.5,79.1 219.9,79.3 220.3,79.5 220.7,79.6 221.1,79.6 221.5,79.6 222.0,79.6 222.4,79.5 222.8,79.3 223.2,79.1 223.6,78.8 224.0,78.5 224.4,78.1 224.8,77.7 225.2,77.3 225.7,76.8 226.1,76.3 226.5,75.7 226.9,75.1 227.3,74.5 227.7,73.9 228.1,73.2 228.5,72.6 229.0,71.9 229.4,71.2 229.8,70.5 230.2,69.8 230.6,69.2 231.0,68.5 231.4,67.9 231.8,67.2 232.2,66.6 232.7,66.1 233.1,65.5 233.5,65.0 233.9,64.5 234.3,64.1 234.7,63.7 235.1,63.3 235.5,63.0 236.0,62.8 236.4,62.6 236.8,62.4 237.2,62.4 237.6,62.3 238.0,62.3 238.4,62.4 238.8,62.5 239.2,62.7 239.7,62.9 240.1,63.2 240.5,63.5 240.9,63.9 241.3,64.3 241.7,64.7 242.1,65.2 242.5,65.8 242.9,66.3 243.4,66.9 243.8,67.5 244.2,68.2 244.6,68.8 245.0,69.5 245.4,70.2 245.8,70.9 246.2,71.5 246.7,72.2 247.1,72.9 247.5,73.6 247.9,74.2 248.3,74.8 248.7,75.4 249.1,76.0 249.5,76.5 249.9,77.0 250.4,77.5 250.8,77.9 251.2,78.3 251.6,78.7 252.0,79.0 252.4,79.2 252.8,79.4 253.2,79.5 253.7,79.6 254.1,79.6 254.5,79.6 254.9,79.5 255.3,79.4 255.7,79.2 256.1,79.0 256.5,78.7 256.9,78.4 257.4,78.0 257.8,77.6 258.2,77.1 258.6,76.6 259.0,76.1 259.4,75.5 259.8,74.9 260.2,74.3 260.7,73.7 261.1,73.0 261.5,72.3 261.9,71.7 262.3,71.0" fill="none" stroke="#be1286" stroke-width="1.15" stroke-linejoin="round" />
<path d="M163.9,71.0 164.3,70.1 164.7,69.3 165.1,68.5 165.5,67.7 166.0,66.9 166.4,66.2 166.8,65.4 167.2,64.7 167.6,64.1 168.0,63.5 168.4,62.9 168.8,62.4 169.3,62.0 169.7,61.6 170.1,61.2 170.5,60.9 170.9,60.7 171.3,60.5 171.7,60.5 172.1,60.4 172.5,60.5 173.0,60.6 173.4,60.7 173.8,61.0 174.2,61.3 174.6,61.6 175.0,62.0 175.4,62.5 175.8,63.0 176.3,63.6 176.7,64.2 177.1,64.9 177.5,65.6 177.9,66.3 178.3,67.0 178.7,67.8 179.1,68.6 179.5,69.5 180.0,70.3 180.4,71.1 180.8,71.9 181.2,72.8 181.6,73.6 182.0,74.4 182.4,75.2 182.8,75.9 183.3,76.6 183.7,77.3 184.1,78.0 184.5,78.6 184.9,79.1 185.3,79.6 185.7,80.1 186.1,80.5 186.5,80.8 187.0,81.1 187.4,81.3 187.8,81.4 188.2,81.5 188.6,81.5 189.0,81.5 189.4,81.4 189.8,81.2 190.2,80.9 190.7,80.6 191.1,80.3 191.5,79.8 191.9,79.4 192.3,78.8 192.7,78.3 193.1,77.6 193.5,77.0 194.0,76.3 194.4,75.5 194.8,74.8 195.2,74.0 195.6,73.2 196.0,72.4 196.4,71.5 196.8,70.7 197.2,69.9 197.7,69.0 198.1,68.2 198.5,67.4 198.9,66.7 199.3,65.9 199.7,65.2 200.1,64.5 200.5,63.9 201.0,63.3 201.4,62.7 201.8,62.3 202.2,61.8 202.6,61.4 203.0,61.1 203.4,60.8 203.8,60.6 204.2,60.5 204.7,60.4 205.1,60.4 205.5,60.5 205.9,60.6 206.3,60.8 206.7,61.1 207.1,61.4 207.5,61.7 208.0,62.2 208.4,62.7 208.8,63.2 209.2,63.8 209.6,64.4 210.0,65.1 210.4,65.8 210.8,66.5 211.2,67.3 211.7,68.1 212.1,68.9 212.5,69.7 212.9,70.6 213.3,71.4 213.7,72.2 214.1,73.0 214.5,73.9 215.0,74.6 215.4,75.4 215.8,76.2 216.2,76.9 216.6,77.5 217.0,78.2 217.4,78.7 217.8,79.3 218.2,79.8 218.7,80.2 219.1,80.6 219.5,80.9 219.9,81.1 220.3,81.3 220.7,81.5 221.1,81.5 221.5,81.5 222.0,81.4 222.4,81.3 222.8,81.1 223.2,80.8 223.6,80.5 224.0,80.1 224.4,79.7 224.8,79.2 225.2,78.7 225.7,78.1 226.1,77.4 226.5,76.7 226.9,76.0 227.3,75.3 227.7,74.5 228.1,73.7 228.5,72.9 229.0,72.1 229.4,71.3 229.8,70.4 230.2,69.6 230.6,68.8 231.0,68.0 231.4,67.2 231.8,66.4 232.2,65.7 232.7,65.0 233.1,64.3 233.5,63.7 233.9,63.1 234.3,62.6 234.7,62.1 235.1,61.7 235.5,61.3 236.0,61.0 236.4,60.8 236.8,60.6 237.2,60.5 237.6,60.4 238.0,60.4 238.4,60.5 238.8,60.7 239.2,60.9 239.7,61.2 240.1,61.5 240.5,61.9 240.9,62.3 241.3,62.8 241.7,63.4 242.1,64.0 242.5,64.6 242.9,65.3 243.4,66.0 243.8,66.8 244.2,67.6 244.6,68.4 245.0,69.2 245.4,70.0 245.8,70.8 246.2,71.7 246.7,72.5 247.1,73.3 247.5,74.1 247.9,74.9 248.3,75.7 248.7,76.4 249.1,77.1 249.5,77.7 249.9,78.4 250.4,78.9 250.8,79.5 251.2,79.9 251.6,80.3 252.0,80.7 252.4,81.0 252.8,81.2 253.2,81.4 253.7,81.5 254.1,81.5 254.5,81.5 254.9,81.4 255.3,81.2 255.7,81.0 256.1,80.7 256.5,80.4 256.9,80.0 257.4,79.5 257.8,79.0 258.2,78.5 258.6,77.9 259.0,77.2 259.4,76.5 259.8,75.8 260.2,75.0 260.7,74.2 261.1,73.4 261.5,72.6 261.9,71.8 262.3,71.0" fill="none" stroke="#97017b" stroke-width="1.15" stroke-linejoin="round" />
<path d="M163.9,71.0 164.3,70.0 164.7,69.0 165.1,68.0 165.5,67.1 166.0,66.1 166.4,65.2 166.8,64.4 167.2,63.5 167.6,62.8 168.0,62.0 168.4,61.4 168.8,60.8 169.3,60.2 169.7,59.7 170.1,59.3 170.5,59.0 170.9,58.7 171.3,58.5 171.7,58.4 172.1,58.4 172.5,58.4 173.0,58.5 173.4,58.7 173.8,59.0 174.2,59.4 174.6,59.8 175.0,60.3 175.4,60.8 175.8,61.5 176.3,62.2 176.7,62.9 177.1,63.7 177.5,64.5 177.9,65.4 178.3,66.3 178.7,67.2 179.1,68.2 179.5,69.2 180.0,70.1 180.4,71.1 180.8,72.1 181.2,73.1 181.6,74.1 182.0,75.0 182.4,76.0 182.8,76.9 183.3,77.7 183.7,78.5 184.1,79.3 184.5,80.0 184.9,80.7 185.3,81.3 185.7,81.8 186.1,82.3 186.5,82.7 187.0,83.0 187.4,83.3 187.8,83.5 188.2,83.6 188.6,83.6 189.0,83.5 189.4,83.4 189.8,83.2 190.2,82.9 190.7,82.5 191.1,82.1 191.5,81.6 191.9,81.0 192.3,80.4 192.7,79.7 193.1,78.9 193.5,78.1 194.0,77.3 194.4,76.4 194.8,75.5 195.2,74.6 195.6,73.6 196.0,72.6 196.4,71.6 196.8,70.6 197.2,69.7 197.7,68.7 198.1,67.7 198.5,66.8 198.9,65.8 199.3,64.9 199.7,64.1 200.1,63.3 200.5,62.5 201.0,61.8 201.4,61.2 201.8,60.6 202.2,60.0 202.6,59.6 203.0,59.2 203.4,58.9 203.8,58.6 204.2,58.5 204.7,58.4 205.1,58.4 205.5,58.5 205.9,58.6 206.3,58.8 206.7,59.1 207.1,59.5 207.5,60.0 208.0,60.5 208.4,61.1 208.8,61.7 209.2,62.4 209.6,63.1 210.0,63.9 210.4,64.8 210.8,65.7 211.2,66.6 211.7,67.5 212.1,68.5 212.5,69.5 212.9,70.5 213.3,71.5 213.7,72.5 214.1,73.4 214.5,74.4 215.0,75.4 215.4,76.3 215.8,77.2 216.2,78.0 216.6,78.8 217.0,79.6 217.4,80.3 217.8,80.9 218.2,81.5 218.7,82.0 219.1,82.4 219.5,82.8 219.9,83.1 220.3,83.3 220.7,83.5 221.1,83.6 221.5,83.6 222.0,83.5 222.4,83.3 222.8,83.1 223.2,82.8 223.6,82.4 224.0,81.9 224.4,81.4 224.8,80.8 225.2,80.1 225.7,79.4 226.1,78.7 226.5,77.9 226.9,77.0 227.3,76.1 227.7,75.2 228.1,74.2 228.5,73.3 229.0,72.3 229.4,71.3 229.8,70.3 230.2,69.3 230.6,68.3 231.0,67.4 231.4,66.4 231.8,65.5 232.2,64.7 232.7,63.8 233.1,63.0 233.5,62.3 233.9,61.6 234.3,60.9 234.7,60.4 235.1,59.9 235.5,59.4 236.0,59.1 236.4,58.8 236.8,58.6 237.2,58.4 237.6,58.4 238.0,58.4 238.4,58.5 238.8,58.7 239.2,58.9 239.7,59.2 240.1,59.6 240.5,60.1 240.9,60.7 241.3,61.3 241.7,61.9 242.1,62.6 242.5,63.4 242.9,64.2 243.4,65.1 243.8,66.0 244.2,66.9 244.6,67.9 245.0,68.8 245.4,69.8 245.8,70.8 246.2,71.8 246.7,72.8 247.1,73.8 247.5,74.7 247.9,75.7 248.3,76.6 248.7,77.4 249.1,78.3 249.5,79.1 249.9,79.8 250.4,80.5 250.8,81.1 251.2,81.7 251.6,82.2 252.0,82.6 252.4,82.9 252.8,83.2 253.2,83.4 253.7,83.5 254.1,83.6 254.5,83.5 254.9,83.4 255.3,83.2 255.7,83.0 256.1,82.6 256.5,82.2 256.9,81.7 257.4,81.2 257.8,80.6 258.2,79.9 258.6,79.2 259.0,78.4 259.4,77.6 259.8,76.7 260.2,75.8 260.7,74.9 261.1,73.9 261.5,73.0 261.9,72.0 262.3,71.0" fill="none" stroke="#6f0174" stroke-width="1.15" stroke-linejoin="round" />
<path d="M163.9,71.0 164.3,69.7 164.7,68.5 165.1,67.3 165.5,66.1 166.0,64.9 166.4,63.8 166.8,62.7 167.2,61.7 167.6,60.7 168.0,59.8 168.4,59.0 168.8,58.2 169.3,57.5 169.7,56.9 170.1,56.4 170.5,56.0 170.9,55.6 171.3,55.4 171.7,55.3 172.1,55.2 172.5,55.3 173.0,55.4 173.4,55.7 173.8,56.0 174.2,56.5 174.6,57.0 175.0,57.6 175.4,58.3 175.8,59.1 176.3,59.9 176.7,60.9 177.1,61.9 177.5,62.9 177.9,64.0 178.3,65.1 178.7,66.3 179.1,67.5 179.5,68.7 180.0,69.9 180.4,71.2 180.8,72.4 181.2,73.7 181.6,74.9 182.0,76.1 182.4,77.2 182.8,78.3 183.3,79.4 183.7,80.4 184.1,81.4 184.5,82.3 184.9,83.1 185.3,83.9 185.7,84.5 186.1,85.1 186.5,85.6 187.0,86.0 187.4,86.4 187.8,86.6 188.2,86.7 188.6,86.7 189.0,86.6 189.4,86.5 189.8,86.2 190.2,85.8 190.7,85.4 191.1,84.8 191.5,84.2 191.9,83.5 192.3,82.7 192.7,81.9 193.1,80.9 193.5,79.9 194.0,78.9 194.4,77.8 194.8,76.6 195.2,75.5 195.6,74.3 196.0,73.0 196.4,71.8 196.8,70.6 197.2,69.3 197.7,68.1 198.1,66.9 198.5,65.7 198.9,64.5 199.3,63.4 199.7,62.4 200.1,61.4 200.5,60.4 201.0,59.5 201.4,58.7 201.8,58.0 202.2,57.3 202.6,56.7 203.0,56.2 203.4,55.8 203.8,55.6 204.2,55.3 204.7,55.2 205.1,55.2 205.5,55.3 205.9,55.5 206.3,55.8 206.7,56.2 207.1,56.6 207.5,57.2 208.0,57.8 208.4,58.6 208.8,59.4 209.2,60.2 209.6,61.2 210.0,62.2 210.4,63.2 210.8,64.4 211.2,65.5 211.7,66.7 212.1,67.9 212.5,69.1 212.9,70.4 213.3,71.6 213.7,72.8 214.1,74.1 214.5,75.3 215.0,76.4 215.4,77.6 215.8,78.7 216.2,79.8 216.6,80.8 217.0,81.7 217.4,82.6 217.8,83.4 218.2,84.1 218.7,84.8 219.1,85.3 219.5,85.8 219.9,86.2 220.3,86.4 220.7,86.6 221.1,86.7 221.5,86.7 222.0,86.6 222.4,86.4 222.8,86.1 223.2,85.7 223.6,85.2 224.0,84.6 224.4,84.0 224.8,83.3 225.2,82.4 225.7,81.5 226.1,80.6 226.5,79.6 226.9,78.5 227.3,77.4 227.7,76.3 228.1,75.1 228.5,73.9 229.0,72.6 229.4,71.4 229.8,70.1 230.2,68.9 230.6,67.7 231.0,66.5 231.4,65.3 231.8,64.2 232.2,63.1 232.7,62.0 233.1,61.0 233.5,60.1 233.9,59.2 234.3,58.4 234.7,57.7 235.1,57.1 235.5,56.6 236.0,56.1 236.4,55.7 236.8,55.5 237.2,55.3 237.6,55.2 238.0,55.3 238.4,55.4 238.8,55.6 239.2,55.9 239.7,56.3 240.1,56.8 240.5,57.4 240.9,58.1 241.3,58.8 241.7,59.7 242.1,60.6 242.5,61.5 242.9,62.5 243.4,63.6 243.8,64.7 244.2,65.9 244.6,67.1 245.0,68.3 245.4,69.5 245.8,70.8 246.2,72.0 246.7,73.2 247.1,74.5 247.5,75.7 247.9,76.8 248.3,78.0 248.7,79.1 249.1,80.1 249.5,81.1 249.9,82.0 250.4,82.9 250.8,83.6 251.2,84.3 251.6,84.9 252.0,85.5 252.4,85.9 252.8,86.3 253.2,86.5 253.7,86.7 254.1,86.7 254.5,86.7 254.9,86.5 255.3,86.3 255.7,86.0 256.1,85.6 256.5,85.0 256.9,84.4 257.4,83.8 257.8,83.0 258.2,82.1 258.6,81.2 259.0,80.3 259.4,79.2 259.8,78.2 260.2,77.0 260.7,75.9 261.1,74.7 261.5,73.4 261.9,72.2 262.3,71.0" fill="none" stroke="#49006a" stroke-width="1.6" stroke-linejoin="round" />
</g>
<line x1="163.90" y1="53.65" x2="163.90" y2="57.15" stroke="#222" stroke-width="1.0"/>
<line x1="193.72" y1="53.65" x2="193.72" y2="57.15" stroke="#222" stroke-width="1.0"/>
<line x1="223.54" y1="53.65" x2="223.54" y2="57.15" stroke="#222" stroke-width="1.0"/>
<line x1="253.35" y1="53.65" x2="253.35" y2="57.15" stroke="#222" stroke-width="1.0"/>
<line x1="163.90" y1="86.72" x2="167.40" y2="86.72" stroke="#222" stroke-width="1.0"/>
<line x1="163.90" y1="70.97" x2="167.40" y2="70.97" stroke="#222" stroke-width="1.0"/>
<line x1="163.90" y1="55.22" x2="167.40" y2="55.22" stroke="#222" stroke-width="1.0"/>
<rect x="163.90" y="53.65" width="98.40" height="34.65" fill="none" stroke="#333" stroke-width="1.3"/>
<clipPath id="crL"><rect x="45.85" y="94.50" width="98.45" height="85.65"/></clipPath>
<line x1="75.68" y1="94.50" x2="75.68" y2="180.15" stroke="#cfcfcf" stroke-width="0.7" stroke-dasharray="2,1.6"/>
<line x1="105.52" y1="94.50" x2="105.52" y2="180.15" stroke="#cfcfcf" stroke-width="0.7" stroke-dasharray="2,1.6"/>
<line x1="135.35" y1="94.50" x2="135.35" y2="180.15" stroke="#cfcfcf" stroke-width="0.7" stroke-dasharray="2,1.6"/>
<line x1="45.85" y1="149.00" x2="144.30" y2="149.00" stroke="#cfcfcf" stroke-width="0.7" stroke-dasharray="2,1.6"/>
<line x1="45.85" y1="117.86" x2="144.30" y2="117.86" stroke="#cfcfcf" stroke-width="0.7" stroke-dasharray="2,1.6"/>
<g clip-path="url(#crL)">
<path d="M45.9,175.2 46.3,175.2 46.7,175.2 47.1,175.2 47.5,175.2 47.9,175.2 48.3,175.2 48.7,175.2 49.1,175.2 49.6,175.2 50.0,175.2 50.4,175.2 50.8,175.2 51.2,175.2 51.6,175.2 52.0,175.2 52.4,175.2 52.9,175.2 53.3,175.2 53.7,175.2 54.1,175.2 54.5,175.2 54.9,175.2 55.3,175.2 55.7,175.2 56.1,175.2 56.6,175.2 57.0,175.2 57.4,175.2 57.8,175.2 58.2,175.2 58.6,175.2 59.0,175.2 59.4,175.2 59.9,175.2 60.3,175.2 60.7,175.2 61.1,175.2 61.5,175.2 61.9,175.2 62.3,175.2 62.7,175.2 63.2,175.2 63.6,175.2 64.0,175.2 64.4,175.2 64.8,175.2 65.2,175.2 65.6,175.2 66.0,175.2 66.4,175.2 66.9,175.2 67.3,175.2 67.7,175.2 68.1,175.2 68.5,175.2 68.9,175.2 69.3,175.2 69.7,175.2 70.2,175.2 70.6,175.2 71.0,175.2 71.4,175.2 71.8,175.2 72.2,175.2 72.6,175.2 73.0,175.2 73.4,175.2 73.9,175.2 74.3,175.2 74.7,175.2 75.1,175.2 75.5,175.2 75.9,175.2 76.3,175.2 76.7,175.2 77.2,175.2 77.6,175.2 78.0,175.2 78.4,175.2 78.8,175.2 79.2,175.2 79.6,175.2 80.0,175.2 80.5,175.2 80.9,175.2 81.3,175.2 81.7,175.2 82.1,175.2 82.5,175.2 82.9,175.2 83.3,175.2 83.7,175.2 84.2,175.2 84.6,175.2 85.0,175.2 85.4,175.2 85.8,175.2 86.2,175.2 86.6,175.2 87.0,175.2 87.5,175.2 87.9,175.2 88.3,175.2 88.7,175.2 89.1,175.2 89.5,175.2 89.9,175.2 90.3,175.2 90.7,175.2 91.2,175.2 91.6,175.2 92.0,175.2 92.4,175.2 92.8,175.2 93.2,175.2 93.6,175.2 94.0,175.2 94.5,175.2 94.9,175.2 95.3,175.2 95.7,175.2 96.1,175.2 96.5,175.2 96.9,175.2 97.3,175.2 97.8,175.2 98.2,175.2 98.6,175.2 99.0,175.2 99.4,175.2 99.8,175.2 100.2,175.2 100.6,175.2 101.0,175.2 101.5,175.2 101.9,175.2 102.3,175.2 102.7,175.2 103.1,175.2 103.5,175.2 103.9,175.2 104.3,175.2 104.8,175.2 105.2,175.2 105.6,175.2 106.0,175.2 106.4,175.2 106.8,175.2 107.2,175.2 107.6,175.2 108.1,175.2 108.5,175.2 108.9,175.2 109.3,175.2 109.7,175.2 110.1,175.2 110.5,175.2 110.9,175.2 111.3,175.2 111.8,175.2 112.2,175.2 112.6,175.2 113.0,175.2 113.4,175.2 113.8,175.2 114.2,175.2 114.6,175.2 115.1,175.2 115.5,175.2 115.9,175.2 116.3,175.2 116.7,175.2 117.1,175.2 117.5,175.2 117.9,175.2 118.3,175.2 118.8,175.2 119.2,175.2 119.6,175.2 120.0,175.2 120.4,175.2 120.8,175.2 121.2,175.2 121.6,175.2 122.1,175.2 122.5,175.2 122.9,175.2 123.3,175.2 123.7,175.2 124.1,175.2 124.5,175.2 124.9,175.2 125.4,175.2 125.8,175.2 126.2,175.2 126.6,175.2 127.0,175.2 127.4,175.2 127.8,175.2 128.2,175.2 128.6,175.2 129.1,175.2 129.5,175.2 129.9,175.2 130.3,175.2 130.7,175.2 131.1,175.2 131.5,175.2 131.9,175.2 132.4,175.2 132.8,175.2 133.2,175.2 133.6,175.2 134.0,175.2 134.4,175.2 134.8,175.2 135.2,175.2 135.6,175.2 136.1,175.2 136.5,175.2 136.9,175.2 137.3,175.2 137.7,175.2 138.1,175.2 138.5,175.2 138.9,175.2 139.4,175.2 139.8,175.2 140.2,175.2 140.6,175.2 141.0,175.2 141.4,175.2 141.8,175.2 142.2,175.2 142.7,175.2 143.1,175.2 143.5,175.2 143.9,175.2 144.3,175.2" fill="none" stroke="#fbb6bc" stroke-width="1.4" stroke-linejoin="round" />
<path d="M45.9,174.7 46.3,174.7 46.7,174.7 47.1,174.7 47.5,174.7 47.9,174.7 48.3,174.7 48.7,174.6 49.1,174.6 49.6,174.6 50.0,174.6 50.4,174.6 50.8,174.5 51.2,174.5 51.6,174.5 52.0,174.5 52.4,174.4 52.9,174.4 53.3,174.4 53.7,174.3 54.1,174.3 54.5,174.3 54.9,174.2 55.3,174.2 55.7,174.2 56.1,174.1 56.6,174.1 57.0,174.0 57.4,174.0 57.8,174.0 58.2,173.9 58.6,173.9 59.0,173.8 59.4,173.8 59.9,173.8 60.3,173.7 60.7,173.7 61.1,173.6 61.5,173.6 61.9,173.6 62.3,173.5 62.7,173.5 63.2,173.5 63.6,173.4 64.0,173.4 64.4,173.4 64.8,173.3 65.2,173.3 65.6,173.3 66.0,173.3 66.4,173.2 66.9,173.2 67.3,173.2 67.7,173.2 68.1,173.2 68.5,173.2 68.9,173.2 69.3,173.2 69.7,173.1 70.2,173.1 70.6,173.1 71.0,173.1 71.4,173.1 71.8,173.2 72.2,173.2 72.6,173.2 73.0,173.2 73.4,173.2 73.9,173.2 74.3,173.2 74.7,173.3 75.1,173.3 75.5,173.3 75.9,173.3 76.3,173.4 76.7,173.4 77.2,173.4 77.6,173.4 78.0,173.5 78.4,173.5 78.8,173.5 79.2,173.6 79.6,173.6 80.0,173.7 80.5,173.7 80.9,173.7 81.3,173.8 81.7,173.8 82.1,173.9 82.5,173.9 82.9,173.9 83.3,174.0 83.7,174.0 84.2,174.1 84.6,174.1 85.0,174.1 85.4,174.2 85.8,174.2 86.2,174.3 86.6,174.3 87.0,174.3 87.5,174.4 87.9,174.4 88.3,174.4 88.7,174.5 89.1,174.5 89.5,174.5 89.9,174.5 90.3,174.6 90.7,174.6 91.2,174.6 91.6,174.6 92.0,174.6 92.4,174.7 92.8,174.7 93.2,174.7 93.6,174.7 94.0,174.7 94.5,174.7 94.9,174.7 95.3,174.7 95.7,174.7 96.1,174.7 96.5,174.7 96.9,174.7 97.3,174.7 97.8,174.7 98.2,174.6 98.6,174.6 99.0,174.6 99.4,174.6 99.8,174.6 100.2,174.5 100.6,174.5 101.0,174.5 101.5,174.5 101.9,174.4 102.3,174.4 102.7,174.4 103.1,174.3 103.5,174.3 103.9,174.3 104.3,174.2 104.8,174.2 105.2,174.1 105.6,174.1 106.0,174.1 106.4,174.0 106.8,174.0 107.2,173.9 107.6,173.9 108.1,173.9 108.5,173.8 108.9,173.8 109.3,173.7 109.7,173.7 110.1,173.7 110.5,173.6 110.9,173.6 111.3,173.5 111.8,173.5 112.2,173.5 112.6,173.4 113.0,173.4 113.4,173.4 113.8,173.4 114.2,173.3 114.6,173.3 115.1,173.3 115.5,173.3 115.9,173.2 116.3,173.2 116.7,173.2 117.1,173.2 117.5,173.2 117.9,173.2 118.3,173.2 118.8,173.1 119.2,173.1 119.6,173.1 120.0,173.1 120.4,173.1 120.8,173.2 121.2,173.2 121.6,173.2 122.1,173.2 122.5,173.2 122.9,173.2 123.3,173.2 123.7,173.2 124.1,173.3 124.5,173.3 124.9,173.3 125.4,173.3 125.8,173.4 126.2,173.4 126.6,173.4 127.0,173.5 127.4,173.5 127.8,173.5 128.2,173.6 128.6,173.6 129.1,173.6 129.5,173.7 129.9,173.7 130.3,173.8 130.7,173.8 131.1,173.8 131.5,173.9 131.9,173.9 132.4,174.0 132.8,174.0 133.2,174.0 133.6,174.1 134.0,174.1 134.4,174.2 134.8,174.2 135.2,174.2 135.6,174.3 136.1,174.3 136.5,174.3 136.9,174.4 137.3,174.4 137.7,174.4 138.1,174.5 138.5,174.5 138.9,174.5 139.4,174.5 139.8,174.6 140.2,174.6 140.6,174.6 141.0,174.6 141.4,174.6 141.8,174.7 142.2,174.7 142.7,174.7 143.1,174.7 143.5,174.7 143.9,174.7 144.3,174.7" fill="none" stroke="#f98bae" stroke-width="1.4" stroke-linejoin="round" />
<path d="M45.9,172.4 46.3,172.4 46.7,172.3 47.1,172.3 47.5,172.3 47.9,172.2 48.3,172.2 48.7,172.2 49.1,172.1 49.6,172.0 50.0,172.0 50.4,171.9 50.8,171.8 51.2,171.7 51.6,171.7 52.0,171.6 52.4,171.5 52.9,171.4 53.3,171.3 53.7,171.2 54.1,171.1 54.5,171.0 54.9,170.9 55.3,170.8 55.7,170.6 56.1,170.5 56.6,170.4 57.0,170.3 57.4,170.2 57.8,170.1 58.2,170.0 58.6,169.9 59.0,169.7 59.4,169.6 59.9,169.5 60.3,169.4 60.7,169.3 61.1,169.2 61.5,169.1 61.9,169.0 62.3,168.9 62.7,168.8 63.2,168.7 63.6,168.7 64.0,168.6 64.4,168.5 64.8,168.4 65.2,168.4 65.6,168.3 66.0,168.2 66.4,168.2 66.9,168.1 67.3,168.1 67.7,168.1 68.1,168.0 68.5,168.0 68.9,168.0 69.3,167.9 69.7,167.9 70.2,167.9 70.6,167.9 71.0,167.9 71.4,167.9 71.8,168.0 72.2,168.0 72.6,168.0 73.0,168.0 73.4,168.1 73.9,168.1 74.3,168.2 74.7,168.2 75.1,168.3 75.5,168.3 75.9,168.4 76.3,168.5 76.7,168.5 77.2,168.6 77.6,168.7 78.0,168.8 78.4,168.9 78.8,169.0 79.2,169.1 79.6,169.2 80.0,169.3 80.5,169.4 80.9,169.5 81.3,169.6 81.7,169.7 82.1,169.8 82.5,169.9 82.9,170.0 83.3,170.1 83.7,170.3 84.2,170.4 84.6,170.5 85.0,170.6 85.4,170.7 85.8,170.8 86.2,170.9 86.6,171.0 87.0,171.1 87.5,171.2 87.9,171.3 88.3,171.4 88.7,171.5 89.1,171.6 89.5,171.7 89.9,171.8 90.3,171.9 90.7,171.9 91.2,172.0 91.6,172.1 92.0,172.1 92.4,172.2 92.8,172.2 93.2,172.3 93.6,172.3 94.0,172.3 94.5,172.4 94.9,172.4 95.3,172.4 95.7,172.4 96.1,172.3 96.5,172.3 96.9,172.3 97.3,172.2 97.8,172.2 98.2,172.1 98.6,172.1 99.0,172.0 99.4,171.9 99.8,171.9 100.2,171.8 100.6,171.7 101.0,171.6 101.5,171.5 101.9,171.4 102.3,171.3 102.7,171.2 103.1,171.1 103.5,171.0 103.9,170.9 104.3,170.8 104.8,170.7 105.2,170.6 105.6,170.5 106.0,170.4 106.4,170.3 106.8,170.1 107.2,170.0 107.6,169.9 108.1,169.8 108.5,169.7 108.9,169.6 109.3,169.5 109.7,169.4 110.1,169.3 110.5,169.2 110.9,169.1 111.3,169.0 111.8,168.9 112.2,168.8 112.6,168.7 113.0,168.6 113.4,168.5 113.8,168.5 114.2,168.4 114.6,168.3 115.1,168.3 115.5,168.2 115.9,168.2 116.3,168.1 116.7,168.1 117.1,168.0 117.5,168.0 117.9,168.0 118.3,168.0 118.8,167.9 119.2,167.9 119.6,167.9 120.0,167.9 120.4,167.9 120.8,167.9 121.2,168.0 121.6,168.0 122.1,168.0 122.5,168.1 122.9,168.1 123.3,168.1 123.7,168.2 124.1,168.2 124.5,168.3 124.9,168.4 125.4,168.4 125.8,168.5 126.2,168.6 126.6,168.7 127.0,168.7 127.4,168.8 127.8,168.9 128.2,169.0 128.6,169.1 129.1,169.2 129.5,169.3 129.9,169.4 130.3,169.5 130.7,169.6 131.1,169.7 131.5,169.9 131.9,170.0 132.4,170.1 132.8,170.2 133.2,170.3 133.6,170.4 134.0,170.5 134.4,170.6 134.8,170.8 135.2,170.9 135.6,171.0 136.1,171.1 136.5,171.2 136.9,171.3 137.3,171.4 137.7,171.5 138.1,171.6 138.5,171.7 138.9,171.7 139.4,171.8 139.8,171.9 140.2,172.0 140.6,172.0 141.0,172.1 141.4,172.2 141.8,172.2 142.2,172.2 142.7,172.3 143.1,172.3 143.5,172.3 143.9,172.4 144.3,172.4" fill="none" stroke="#ed539d" stroke-width="1.4" stroke-linejoin="round" />
<path d="M45.9,168.9 46.3,168.8 46.7,168.8 47.1,168.8 47.5,168.7 47.9,168.6 48.3,168.5 48.7,168.4 49.1,168.3 49.6,168.2 50.0,168.0 50.4,167.9 50.8,167.7 51.2,167.6 51.6,167.4 52.0,167.3 52.4,167.1 52.9,166.9 53.3,166.7 53.7,166.5 54.1,166.3 54.5,166.1 54.9,165.9 55.3,165.7 55.7,165.5 56.1,165.3 56.6,165.1 57.0,164.9 57.4,164.7 57.8,164.5 58.2,164.3 58.6,164.1 59.0,163.9 59.4,163.7 59.9,163.5 60.3,163.3 60.7,163.1 61.1,162.9 61.5,162.8 61.9,162.6 62.3,162.4 62.7,162.3 63.2,162.1 63.6,162.0 64.0,161.8 64.4,161.7 64.8,161.6 65.2,161.4 65.6,161.3 66.0,161.2 66.4,161.1 66.9,161.0 67.3,161.0 67.7,160.9 68.1,160.8 68.5,160.8 68.9,160.8 69.3,160.7 69.7,160.7 70.2,160.7 70.6,160.7 71.0,160.7 71.4,160.7 71.8,160.7 72.2,160.8 72.6,160.8 73.0,160.9 73.4,160.9 73.9,161.0 74.3,161.1 74.7,161.2 75.1,161.3 75.5,161.4 75.9,161.5 76.3,161.6 76.7,161.8 77.2,161.9 77.6,162.0 78.0,162.2 78.4,162.3 78.8,162.5 79.2,162.7 79.6,162.9 80.0,163.0 80.5,163.2 80.9,163.4 81.3,163.6 81.7,163.8 82.1,164.0 82.5,164.2 82.9,164.4 83.3,164.6 83.7,164.8 84.2,165.0 84.6,165.2 85.0,165.4 85.4,165.6 85.8,165.8 86.2,166.0 86.6,166.2 87.0,166.4 87.5,166.6 87.9,166.8 88.3,167.0 88.7,167.2 89.1,167.3 89.5,167.5 89.9,167.7 90.3,167.8 90.7,168.0 91.2,168.1 91.6,168.2 92.0,168.3 92.4,168.5 92.8,168.6 93.2,168.6 93.6,168.7 94.0,168.8 94.5,168.8 94.9,168.9 95.3,168.9 95.7,168.8 96.1,168.8 96.5,168.7 96.9,168.6 97.3,168.6 97.8,168.5 98.2,168.3 98.6,168.2 99.0,168.1 99.4,168.0 99.8,167.8 100.2,167.7 100.6,167.5 101.0,167.3 101.5,167.2 101.9,167.0 102.3,166.8 102.7,166.6 103.1,166.4 103.5,166.2 103.9,166.0 104.3,165.8 104.8,165.6 105.2,165.4 105.6,165.2 106.0,165.0 106.4,164.8 106.8,164.6 107.2,164.4 107.6,164.2 108.1,164.0 108.5,163.8 108.9,163.6 109.3,163.4 109.7,163.2 110.1,163.0 110.5,162.9 110.9,162.7 111.3,162.5 111.8,162.3 112.2,162.2 112.6,162.0 113.0,161.9 113.4,161.8 113.8,161.6 114.2,161.5 114.6,161.4 115.1,161.3 115.5,161.2 115.9,161.1 116.3,161.0 116.7,160.9 117.1,160.9 117.5,160.8 117.9,160.8 118.3,160.7 118.8,160.7 119.2,160.7 119.6,160.7 120.0,160.7 120.4,160.7 120.8,160.7 121.2,160.8 121.6,160.8 122.1,160.8 122.5,160.9 122.9,161.0 123.3,161.0 123.7,161.1 124.1,161.2 124.5,161.3 124.9,161.4 125.4,161.6 125.8,161.7 126.2,161.8 126.6,162.0 127.0,162.1 127.4,162.3 127.8,162.4 128.2,162.6 128.6,162.8 129.1,162.9 129.5,163.1 129.9,163.3 130.3,163.5 130.7,163.7 131.1,163.9 131.5,164.1 131.9,164.3 132.4,164.5 132.8,164.7 133.2,164.9 133.6,165.1 134.0,165.3 134.4,165.5 134.8,165.7 135.2,165.9 135.6,166.1 136.1,166.3 136.5,166.5 136.9,166.7 137.3,166.9 137.7,167.1 138.1,167.3 138.5,167.4 138.9,167.6 139.4,167.7 139.8,167.9 140.2,168.0 140.6,168.2 141.0,168.3 141.4,168.4 141.8,168.5 142.2,168.6 142.7,168.7 143.1,168.8 143.5,168.8 143.9,168.8 144.3,168.9" fill="none" stroke="#c81e8c" stroke-width="1.4" stroke-linejoin="round" />
<path d="M45.9,165.7 46.3,165.7 46.7,165.6 47.1,165.5 47.5,165.4 47.9,165.2 48.3,165.1 48.7,164.9 49.1,164.7 49.6,164.5 50.0,164.3 50.4,164.0 50.8,163.8 51.2,163.5 51.6,163.2 52.0,163.0 52.4,162.7 52.9,162.4 53.3,162.1 53.7,161.8 54.1,161.5 54.5,161.2 54.9,160.9 55.3,160.5 55.7,160.2 56.1,159.9 56.6,159.6 57.0,159.3 57.4,159.0 57.8,158.6 58.2,158.3 58.6,158.0 59.0,157.7 59.4,157.4 59.9,157.1 60.3,156.8 60.7,156.6 61.1,156.3 61.5,156.0 61.9,155.7 62.3,155.5 62.7,155.3 63.2,155.0 63.6,154.8 64.0,154.6 64.4,154.4 64.8,154.2 65.2,154.0 65.6,153.9 66.0,153.7 66.4,153.6 66.9,153.4 67.3,153.3 67.7,153.2 68.1,153.1 68.5,153.1 68.9,153.0 69.3,153.0 69.7,152.9 70.2,152.9 70.6,152.9 71.0,152.9 71.4,152.9 71.8,153.0 72.2,153.0 72.6,153.1 73.0,153.2 73.4,153.3 73.9,153.4 74.3,153.5 74.7,153.6 75.1,153.8 75.5,153.9 75.9,154.1 76.3,154.3 76.7,154.5 77.2,154.7 77.6,154.9 78.0,155.1 78.4,155.4 78.8,155.6 79.2,155.9 79.6,156.1 80.0,156.4 80.5,156.7 80.9,157.0 81.3,157.3 81.7,157.6 82.1,157.9 82.5,158.2 82.9,158.5 83.3,158.8 83.7,159.1 84.2,159.4 84.6,159.7 85.0,160.1 85.4,160.4 85.8,160.7 86.2,161.0 86.6,161.3 87.0,161.6 87.5,161.9 87.9,162.2 88.3,162.5 88.7,162.8 89.1,163.1 89.5,163.4 89.9,163.6 90.3,163.9 90.7,164.1 91.2,164.4 91.6,164.6 92.0,164.8 92.4,165.0 92.8,165.2 93.2,165.3 93.6,165.5 94.0,165.6 94.5,165.7 94.9,165.7 95.3,165.7 95.7,165.7 96.1,165.6 96.5,165.5 96.9,165.3 97.3,165.2 97.8,165.0 98.2,164.8 98.6,164.6 99.0,164.4 99.4,164.1 99.8,163.9 100.2,163.6 100.6,163.4 101.0,163.1 101.5,162.8 101.9,162.5 102.3,162.2 102.7,161.9 103.1,161.6 103.5,161.3 103.9,161.0 104.3,160.7 104.8,160.4 105.2,160.1 105.6,159.7 106.0,159.4 106.4,159.1 106.8,158.8 107.2,158.5 107.6,158.2 108.1,157.9 108.5,157.6 108.9,157.3 109.3,157.0 109.7,156.7 110.1,156.4 110.5,156.1 110.9,155.9 111.3,155.6 111.8,155.4 112.2,155.1 112.6,154.9 113.0,154.7 113.4,154.5 113.8,154.3 114.2,154.1 114.6,153.9 115.1,153.8 115.5,153.6 115.9,153.5 116.3,153.4 116.7,153.3 117.1,153.2 117.5,153.1 117.9,153.0 118.3,153.0 118.8,152.9 119.2,152.9 119.6,152.9 120.0,152.9 120.4,152.9 120.8,153.0 121.2,153.0 121.6,153.1 122.1,153.1 122.5,153.2 122.9,153.3 123.3,153.4 123.7,153.6 124.1,153.7 124.5,153.9 124.9,154.0 125.4,154.2 125.8,154.4 126.2,154.6 126.6,154.8 127.0,155.0 127.4,155.3 127.8,155.5 128.2,155.7 128.6,156.0 129.1,156.3 129.5,156.6 129.9,156.8 130.3,157.1 130.7,157.4 131.1,157.7 131.5,158.0 131.9,158.3 132.4,158.6 132.8,159.0 133.2,159.3 133.6,159.6 134.0,159.9 134.4,160.2 134.8,160.5 135.2,160.9 135.6,161.2 136.1,161.5 136.5,161.8 136.9,162.1 137.3,162.4 137.7,162.7 138.1,163.0 138.5,163.2 138.9,163.5 139.4,163.8 139.8,164.0 140.2,164.3 140.6,164.5 141.0,164.7 141.4,164.9 141.8,165.1 142.2,165.2 142.7,165.4 143.1,165.5 143.5,165.6 143.9,165.7 144.3,165.7" fill="none" stroke="#890179" stroke-width="1.4" stroke-linejoin="round" />
<path d="M45.9,162.6 46.3,162.5 46.7,162.4 47.1,162.3 47.5,162.1 47.9,161.9 48.3,161.7 48.7,161.4 49.1,161.1 49.6,160.9 50.0,160.6 50.4,160.2 50.8,159.9 51.2,159.5 51.6,159.2 52.0,158.8 52.4,158.4 52.9,158.0 53.3,157.6 53.7,157.2 54.1,156.8 54.5,156.4 54.9,156.0 55.3,155.6 55.7,155.1 56.1,154.7 56.6,154.3 57.0,153.8 57.4,153.4 57.8,153.0 58.2,152.6 58.6,152.2 59.0,151.7 59.4,151.3 59.9,150.9 60.3,150.6 60.7,150.2 61.1,149.8 61.5,149.5 61.9,149.1 62.3,148.8 62.7,148.4 63.2,148.1 63.6,147.8 64.0,147.5 64.4,147.3 64.8,147.0 65.2,146.8 65.6,146.6 66.0,146.4 66.4,146.2 66.9,146.0 67.3,145.8 67.7,145.7 68.1,145.6 68.5,145.5 68.9,145.4 69.3,145.3 69.7,145.3 70.2,145.3 70.6,145.3 71.0,145.3 71.4,145.3 71.8,145.4 72.2,145.4 72.6,145.5 73.0,145.6 73.4,145.8 73.9,145.9 74.3,146.1 74.7,146.3 75.1,146.5 75.5,146.7 75.9,146.9 76.3,147.1 76.7,147.4 77.2,147.7 77.6,148.0 78.0,148.3 78.4,148.6 78.8,148.9 79.2,149.3 79.6,149.6 80.0,150.0 80.5,150.4 80.9,150.8 81.3,151.1 81.7,151.5 82.1,152.0 82.5,152.4 82.9,152.8 83.3,153.2 83.7,153.6 84.2,154.1 84.6,154.5 85.0,154.9 85.4,155.3 85.8,155.8 86.2,156.2 86.6,156.6 87.0,157.0 87.5,157.4 87.9,157.8 88.3,158.2 88.7,158.6 89.1,159.0 89.5,159.4 89.9,159.7 90.3,160.1 90.7,160.4 91.2,160.7 91.6,161.0 92.0,161.3 92.4,161.5 92.8,161.8 93.2,162.0 93.6,162.2 94.0,162.3 94.5,162.5 94.9,162.5 95.3,162.5 95.7,162.5 96.1,162.3 96.5,162.2 96.9,162.0 97.3,161.8 97.8,161.5 98.2,161.3 98.6,161.0 99.0,160.7 99.4,160.4 99.8,160.1 100.2,159.7 100.6,159.4 101.0,159.0 101.5,158.6 101.9,158.2 102.3,157.8 102.7,157.4 103.1,157.0 103.5,156.6 103.9,156.2 104.3,155.8 104.8,155.3 105.2,154.9 105.6,154.5 106.0,154.1 106.4,153.6 106.8,153.2 107.2,152.8 107.6,152.4 108.1,152.0 108.5,151.5 108.9,151.1 109.3,150.8 109.7,150.4 110.1,150.0 110.5,149.6 110.9,149.3 111.3,148.9 111.8,148.6 112.2,148.3 112.6,148.0 113.0,147.7 113.4,147.4 113.8,147.1 114.2,146.9 114.6,146.7 115.1,146.5 115.5,146.3 115.9,146.1 116.3,145.9 116.7,145.8 117.1,145.6 117.5,145.5 117.9,145.4 118.3,145.4 118.8,145.3 119.2,145.3 119.6,145.3 120.0,145.3 120.4,145.3 120.8,145.3 121.2,145.4 121.6,145.5 122.1,145.6 122.5,145.7 122.9,145.8 123.3,146.0 123.7,146.2 124.1,146.4 124.5,146.6 124.9,146.8 125.4,147.0 125.8,147.3 126.2,147.5 126.6,147.8 127.0,148.1 127.4,148.4 127.8,148.8 128.2,149.1 128.6,149.5 129.1,149.8 129.5,150.2 129.9,150.6 130.3,150.9 130.7,151.3 131.1,151.7 131.5,152.2 131.9,152.6 132.4,153.0 132.8,153.4 133.2,153.8 133.6,154.3 134.0,154.7 134.4,155.1 134.8,155.6 135.2,156.0 135.6,156.4 136.1,156.8 136.5,157.2 136.9,157.6 137.3,158.0 137.7,158.4 138.1,158.8 138.5,159.2 138.9,159.5 139.4,159.9 139.8,160.2 140.2,160.6 140.6,160.9 141.0,161.1 141.4,161.4 141.8,161.7 142.2,161.9 142.7,162.1 143.1,162.3 143.5,162.4 143.9,162.5 144.3,162.6" fill="none" stroke="#49006a" stroke-width="1.8" stroke-linejoin="round" />
</g>
<line x1="45.85" y1="180.15" x2="45.85" y2="176.65" stroke="#222" stroke-width="1.0"/>
<line x1="75.68" y1="180.15" x2="75.68" y2="176.65" stroke="#222" stroke-width="1.0"/>
<line x1="105.52" y1="180.15" x2="105.52" y2="176.65" stroke="#222" stroke-width="1.0"/>
<line x1="135.35" y1="180.15" x2="135.35" y2="176.65" stroke="#222" stroke-width="1.0"/>
<line x1="45.85" y1="180.15" x2="49.35" y2="180.15" stroke="#222" stroke-width="1.0"/>
<line x1="45.85" y1="149.00" x2="49.35" y2="149.00" stroke="#222" stroke-width="1.0"/>
<line x1="45.85" y1="117.86" x2="49.35" y2="117.86" stroke="#222" stroke-width="1.0"/>
<rect x="45.85" y="94.50" width="98.45" height="85.65" fill="none" stroke="#333" stroke-width="1.3"/>
<clipPath id="crR"><rect x="163.90" y="94.50" width="98.40" height="85.65"/></clipPath>
<line x1="193.72" y1="94.50" x2="193.72" y2="180.15" stroke="#cfcfcf" stroke-width="0.7" stroke-dasharray="2,1.6"/>
<line x1="223.54" y1="94.50" x2="223.54" y2="180.15" stroke="#cfcfcf" stroke-width="0.7" stroke-dasharray="2,1.6"/>
<line x1="253.35" y1="94.50" x2="253.35" y2="180.15" stroke="#cfcfcf" stroke-width="0.7" stroke-dasharray="2,1.6"/>
<line x1="163.90" y1="149.00" x2="262.30" y2="149.00" stroke="#cfcfcf" stroke-width="0.7" stroke-dasharray="2,1.6"/>
<line x1="163.90" y1="117.86" x2="262.30" y2="117.86" stroke="#cfcfcf" stroke-width="0.7" stroke-dasharray="2,1.6"/>
<g clip-path="url(#crR)">
<path d="M163.9,175.2 164.3,175.2 164.7,175.2 165.1,175.2 165.5,175.2 166.0,175.2 166.4,175.2 166.8,175.2 167.2,175.2 167.6,175.2 168.0,175.2 168.4,175.2 168.8,175.2 169.3,175.2 169.7,175.2 170.1,175.2 170.5,175.2 170.9,175.2 171.3,175.2 171.7,175.2 172.1,175.2 172.5,175.2 173.0,175.2 173.4,175.2 173.8,175.2 174.2,175.2 174.6,175.2 175.0,175.2 175.4,175.2 175.8,175.2 176.3,175.2 176.7,175.2 177.1,175.2 177.5,175.2 177.9,175.2 178.3,175.2 178.7,175.2 179.1,175.2 179.5,175.2 180.0,175.2 180.4,175.2 180.8,175.2 181.2,175.2 181.6,175.2 182.0,175.2 182.4,175.2 182.8,175.2 183.3,175.2 183.7,175.2 184.1,175.2 184.5,175.2 184.9,175.2 185.3,175.2 185.7,175.2 186.1,175.2 186.5,175.2 187.0,175.2 187.4,175.2 187.8,175.2 188.2,175.2 188.6,175.2 189.0,175.2 189.4,175.2 189.8,175.2 190.2,175.2 190.7,175.2 191.1,175.2 191.5,175.2 191.9,175.2 192.3,175.2 192.7,175.2 193.1,175.2 193.5,175.2 194.0,175.2 194.4,175.2 194.8,175.2 195.2,175.2 195.6,175.2 196.0,175.2 196.4,175.2 196.8,175.2 197.2,175.2 197.7,175.2 198.1,175.2 198.5,175.2 198.9,175.2 199.3,175.2 199.7,175.2 200.1,175.2 200.5,175.2 201.0,175.2 201.4,175.2 201.8,175.2 202.2,175.2 202.6,175.2 203.0,175.2 203.4,175.2 203.8,175.2 204.2,175.2 204.7,175.2 205.1,175.2 205.5,175.2 205.9,175.2 206.3,175.2 206.7,175.2 207.1,175.2 207.5,175.2 208.0,175.2 208.4,175.2 208.8,175.2 209.2,175.2 209.6,175.2 210.0,175.2 210.4,175.2 210.8,175.2 211.2,175.2 211.7,175.2 212.1,175.2 212.5,175.2 212.9,175.2 213.3,175.2 213.7,175.2 214.1,175.2 214.5,175.2 215.0,175.2 215.4,175.2 215.8,175.2 216.2,175.2 216.6,175.2 217.0,175.2 217.4,175.2 217.8,175.2 218.2,175.2 218.7,175.2 219.1,175.2 219.5,175.2 219.9,175.2 220.3,175.2 220.7,175.2 221.1,175.2 221.5,175.2 222.0,175.2 222.4,175.2 222.8,175.2 223.2,175.2 223.6,175.2 224.0,175.2 224.4,175.2 224.8,175.2 225.2,175.2 225.7,175.2 226.1,175.2 226.5,175.2 226.9,175.2 227.3,175.2 227.7,175.2 228.1,175.2 228.5,175.2 229.0,175.2 229.4,175.2 229.8,175.2 230.2,175.2 230.6,175.2 231.0,175.2 231.4,175.2 231.8,175.2 232.2,175.2 232.7,175.2 233.1,175.2 233.5,175.2 233.9,175.2 234.3,175.2 234.7,175.2 235.1,175.2 235.5,175.2 236.0,175.2 236.4,175.2 236.8,175.2 237.2,175.2 237.6,175.2 238.0,175.2 238.4,175.2 238.8,175.2 239.2,175.2 239.7,175.2 240.1,175.2 240.5,175.2 240.9,175.2 241.3,175.2 241.7,175.2 242.1,175.2 242.5,175.2 242.9,175.2 243.4,175.2 243.8,175.2 244.2,175.2 244.6,175.2 245.0,175.2 245.4,175.2 245.8,175.2 246.2,175.2 246.7,175.2 247.1,175.2 247.5,175.2 247.9,175.2 248.3,175.2 248.7,175.2 249.1,175.2 249.5,175.2 249.9,175.2 250.4,175.2 250.8,175.2 251.2,175.2 251.6,175.2 252.0,175.2 252.4,175.2 252.8,175.2 253.2,175.2 253.7,175.2 254.1,175.2 254.5,175.2 254.9,175.2 255.3,175.2 255.7,175.2 256.1,175.2 256.5,175.2 256.9,175.2 257.4,175.2 257.8,175.2 258.2,175.2 258.6,175.2 259.0,175.2 259.4,175.2 259.8,175.2 260.2,175.2 260.7,175.2 261.1,175.2 261.5,175.2 261.9,175.2 262.3,175.2" fill="none" stroke="#fbb6bc" stroke-width="1.4" stroke-linejoin="round" />
<path d="M163.9,174.5 164.3,174.5 164.7,174.4 165.1,174.4 165.5,174.3 166.0,174.2 166.4,174.1 166.8,174.0 167.2,173.9 167.6,173.8 168.0,173.7 168.4,173.6 168.8,173.4 169.3,173.3 169.7,173.2 170.1,173.1 170.5,173.1 170.9,173.0 171.3,172.9 171.7,172.9 172.1,172.9 172.5,172.9 173.0,173.0 173.4,173.0 173.8,173.1 174.2,173.1 174.6,173.2 175.0,173.3 175.4,173.5 175.8,173.6 176.3,173.7 176.7,173.8 177.1,173.9 177.5,174.1 177.9,174.2 178.3,174.3 178.7,174.3 179.1,174.4 179.5,174.4 180.0,174.5 180.4,174.5 180.8,174.5 181.2,174.4 181.6,174.4 182.0,174.3 182.4,174.2 182.8,174.1 183.3,174.0 183.7,173.9 184.1,173.8 184.5,173.7 184.9,173.5 185.3,173.4 185.7,173.3 186.1,173.2 186.5,173.1 187.0,173.0 187.4,173.0 187.8,172.9 188.2,172.9 188.6,172.9 189.0,172.9 189.4,173.0 189.8,173.0 190.2,173.1 190.7,173.2 191.1,173.3 191.5,173.4 191.9,173.5 192.3,173.6 192.7,173.7 193.1,173.8 193.5,174.0 194.0,174.1 194.4,174.2 194.8,174.3 195.2,174.3 195.6,174.4 196.0,174.4 196.4,174.5 196.8,174.5 197.2,174.4 197.7,174.4 198.1,174.4 198.5,174.3 198.9,174.2 199.3,174.1 199.7,174.0 200.1,173.9 200.5,173.8 201.0,173.6 201.4,173.5 201.8,173.4 202.2,173.3 202.6,173.2 203.0,173.1 203.4,173.0 203.8,173.0 204.2,172.9 204.7,172.9 205.1,172.9 205.5,172.9 205.9,173.0 206.3,173.0 206.7,173.1 207.1,173.2 207.5,173.3 208.0,173.4 208.4,173.5 208.8,173.6 209.2,173.7 209.6,173.9 210.0,174.0 210.4,174.1 210.8,174.2 211.2,174.3 211.7,174.4 212.1,174.4 212.5,174.4 212.9,174.5 213.3,174.5 213.7,174.4 214.1,174.4 214.5,174.4 215.0,174.3 215.4,174.2 215.8,174.1 216.2,174.0 216.6,173.9 217.0,173.7 217.4,173.6 217.8,173.5 218.2,173.4 218.7,173.3 219.1,173.2 219.5,173.1 219.9,173.0 220.3,173.0 220.7,172.9 221.1,172.9 221.5,172.9 222.0,172.9 222.4,173.0 222.8,173.0 223.2,173.1 223.6,173.2 224.0,173.3 224.4,173.4 224.8,173.5 225.2,173.6 225.7,173.8 226.1,173.9 226.5,174.0 226.9,174.1 227.3,174.2 227.7,174.3 228.1,174.4 228.5,174.4 229.0,174.4 229.4,174.5 229.8,174.5 230.2,174.4 230.6,174.4 231.0,174.3 231.4,174.3 231.8,174.2 232.2,174.1 232.7,174.0 233.1,173.8 233.5,173.7 233.9,173.6 234.3,173.5 234.7,173.4 235.1,173.3 235.5,173.2 236.0,173.1 236.4,173.0 236.8,173.0 237.2,172.9 237.6,172.9 238.0,172.9 238.4,172.9 238.8,173.0 239.2,173.0 239.7,173.1 240.1,173.2 240.5,173.3 240.9,173.4 241.3,173.5 241.7,173.7 242.1,173.8 242.5,173.9 242.9,174.0 243.4,174.1 243.8,174.2 244.2,174.3 244.6,174.4 245.0,174.4 245.4,174.5 245.8,174.5 246.2,174.5 246.7,174.4 247.1,174.4 247.5,174.3 247.9,174.3 248.3,174.2 248.7,174.1 249.1,173.9 249.5,173.8 249.9,173.7 250.4,173.6 250.8,173.5 251.2,173.3 251.6,173.2 252.0,173.1 252.4,173.1 252.8,173.0 253.2,173.0 253.7,172.9 254.1,172.9 254.5,172.9 254.9,172.9 255.3,173.0 255.7,173.1 256.1,173.1 256.5,173.2 256.9,173.3 257.4,173.4 257.8,173.6 258.2,173.7 258.6,173.8 259.0,173.9 259.4,174.0 259.8,174.1 260.2,174.2 260.7,174.3 261.1,174.4 261.5,174.4 261.9,174.5 262.3,174.5" fill="none" stroke="#f98bae" stroke-width="1.4" stroke-linejoin="round" />
<path d="M163.9,171.8 164.3,171.8 164.7,171.7 165.1,171.5 165.5,171.2 166.0,170.9 166.4,170.4 166.8,169.9 167.2,169.3 167.6,168.6 168.0,167.9 168.4,167.2 168.8,166.5 169.3,165.8 169.7,165.2 170.1,164.6 170.5,164.1 170.9,163.7 171.3,163.4 171.7,163.2 172.1,163.2 172.5,163.2 173.0,163.4 173.4,163.7 173.8,164.2 174.2,164.7 174.6,165.3 175.0,165.9 175.4,166.6 175.8,167.3 176.3,168.0 176.7,168.7 177.1,169.4 177.5,170.0 177.9,170.5 178.3,170.9 178.7,171.3 179.1,171.5 179.5,171.7 180.0,171.8 180.4,171.8 180.8,171.8 181.2,171.7 181.6,171.5 182.0,171.2 182.4,170.8 182.8,170.3 183.3,169.8 183.7,169.1 184.1,168.5 184.5,167.8 184.9,167.1 185.3,166.4 185.7,165.7 186.1,165.1 186.5,164.5 187.0,164.0 187.4,163.6 187.8,163.4 188.2,163.2 188.6,163.2 189.0,163.3 189.4,163.5 189.8,163.8 190.2,164.2 190.7,164.8 191.1,165.4 191.5,166.0 191.9,166.7 192.3,167.4 192.7,168.1 193.1,168.8 193.5,169.5 194.0,170.0 194.4,170.6 194.8,171.0 195.2,171.3 195.6,171.6 196.0,171.7 196.4,171.8 196.8,171.8 197.2,171.8 197.7,171.6 198.1,171.4 198.5,171.1 198.9,170.7 199.3,170.2 199.7,169.7 200.1,169.0 200.5,168.4 201.0,167.7 201.4,166.9 201.8,166.2 202.2,165.6 202.6,165.0 203.0,164.4 203.4,163.9 203.8,163.6 204.2,163.3 204.7,163.2 205.1,163.2 205.5,163.3 205.9,163.5 206.3,163.9 206.7,164.3 207.1,164.9 207.5,165.5 208.0,166.1 208.4,166.8 208.8,167.5 209.2,168.2 209.6,168.9 210.0,169.6 210.4,170.1 210.8,170.6 211.2,171.1 211.7,171.4 212.1,171.6 212.5,171.8 212.9,171.8 213.3,171.8 213.7,171.8 214.1,171.6 214.5,171.4 215.0,171.1 215.4,170.6 215.8,170.1 216.2,169.6 216.6,168.9 217.0,168.2 217.4,167.5 217.8,166.8 218.2,166.1 218.7,165.5 219.1,164.9 219.5,164.3 219.9,163.9 220.3,163.5 220.7,163.3 221.1,163.2 221.5,163.2 222.0,163.3 222.4,163.6 222.8,163.9 223.2,164.4 223.6,165.0 224.0,165.6 224.4,166.2 224.8,166.9 225.2,167.7 225.7,168.4 226.1,169.0 226.5,169.7 226.9,170.2 227.3,170.7 227.7,171.1 228.1,171.4 228.5,171.6 229.0,171.8 229.4,171.8 229.8,171.8 230.2,171.7 230.6,171.6 231.0,171.3 231.4,171.0 231.8,170.6 232.2,170.0 232.7,169.5 233.1,168.8 233.5,168.1 233.9,167.4 234.3,166.7 234.7,166.0 235.1,165.4 235.5,164.8 236.0,164.2 236.4,163.8 236.8,163.5 237.2,163.3 237.6,163.2 238.0,163.2 238.4,163.4 238.8,163.6 239.2,164.0 239.7,164.5 240.1,165.1 240.5,165.7 240.9,166.4 241.3,167.1 241.7,167.8 242.1,168.5 242.5,169.1 242.9,169.8 243.4,170.3 243.8,170.8 244.2,171.2 244.6,171.5 245.0,171.7 245.4,171.8 245.8,171.8 246.2,171.8 246.7,171.7 247.1,171.5 247.5,171.3 247.9,170.9 248.3,170.5 248.7,170.0 249.1,169.4 249.5,168.7 249.9,168.0 250.4,167.3 250.8,166.6 251.2,165.9 251.6,165.3 252.0,164.7 252.4,164.2 252.8,163.7 253.2,163.4 253.7,163.2 254.1,163.2 254.5,163.2 254.9,163.4 255.3,163.7 255.7,164.1 256.1,164.6 256.5,165.2 256.9,165.8 257.4,166.5 257.8,167.2 258.2,167.9 258.6,168.6 259.0,169.3 259.4,169.9 259.8,170.4 260.2,170.9 260.7,171.2 261.1,171.5 261.5,171.7 261.9,171.8 262.3,171.8" fill="none" stroke="#ed539d" stroke-width="1.4" stroke-linejoin="round" />
<path d="M163.9,171.6 164.3,171.6 164.7,171.4 165.1,171.1 165.5,170.5 166.0,169.7 166.4,168.6 166.8,167.2 167.2,165.6 167.6,163.7 168.0,161.7 168.4,159.6 168.8,157.4 169.3,155.3 169.7,153.2 170.1,151.4 170.5,149.7 170.9,148.4 171.3,147.4 171.7,146.8 172.1,146.7 172.5,146.9 173.0,147.6 173.4,148.6 173.8,150.0 174.2,151.7 174.6,153.6 175.0,155.6 175.4,157.8 175.8,160.0 176.3,162.1 176.7,164.1 177.1,165.9 177.5,167.5 177.9,168.8 178.3,169.9 178.7,170.6 179.1,171.2 179.5,171.5 180.0,171.6 180.4,171.6 180.8,171.5 181.2,171.4 181.6,171.0 182.0,170.4 182.4,169.5 182.8,168.4 183.3,167.0 183.7,165.3 184.1,163.4 184.5,161.4 184.9,159.2 185.3,157.1 185.7,154.9 186.1,152.9 186.5,151.1 187.0,149.5 187.4,148.2 187.8,147.3 188.2,146.8 188.6,146.7 189.0,147.0 189.4,147.7 189.8,148.8 190.2,150.2 190.7,152.0 191.1,153.9 191.5,156.0 191.9,158.1 192.3,160.3 192.7,162.4 193.1,164.4 193.5,166.2 194.0,167.7 194.4,169.0 194.8,170.0 195.2,170.7 195.6,171.2 196.0,171.5 196.4,171.6 196.8,171.6 197.2,171.5 197.7,171.3 198.1,170.9 198.5,170.3 198.9,169.4 199.3,168.2 199.7,166.7 200.1,165.0 200.5,163.1 201.0,161.0 201.4,158.9 201.8,156.7 202.2,154.6 202.6,152.6 203.0,150.8 203.4,149.2 203.8,148.0 204.2,147.2 204.7,146.7 205.1,146.7 205.5,147.1 205.9,147.9 206.3,149.0 206.7,150.5 207.1,152.3 207.5,154.2 208.0,156.3 208.4,158.5 208.8,160.7 209.2,162.8 209.6,164.7 210.0,166.4 210.4,167.9 210.8,169.2 211.2,170.1 211.7,170.8 212.1,171.3 212.5,171.5 212.9,171.6 213.3,171.6 213.7,171.5 214.1,171.3 214.5,170.8 215.0,170.1 215.4,169.2 215.8,167.9 216.2,166.4 216.6,164.7 217.0,162.8 217.4,160.7 217.8,158.5 218.2,156.3 218.7,154.2 219.1,152.3 219.5,150.5 219.9,149.0 220.3,147.9 220.7,147.1 221.1,146.7 221.5,146.7 222.0,147.2 222.4,148.0 222.8,149.2 223.2,150.8 223.6,152.6 224.0,154.6 224.4,156.7 224.8,158.9 225.2,161.0 225.7,163.1 226.1,165.0 226.5,166.7 226.9,168.2 227.3,169.4 227.7,170.3 228.1,170.9 228.5,171.3 229.0,171.5 229.4,171.6 229.8,171.6 230.2,171.5 230.6,171.2 231.0,170.7 231.4,170.0 231.8,169.0 232.2,167.7 232.7,166.2 233.1,164.4 233.5,162.4 233.9,160.3 234.3,158.1 234.7,156.0 235.1,153.9 235.5,152.0 236.0,150.2 236.4,148.8 236.8,147.7 237.2,147.0 237.6,146.7 238.0,146.8 238.4,147.3 238.8,148.2 239.2,149.5 239.7,151.1 240.1,152.9 240.5,154.9 240.9,157.1 241.3,159.2 241.7,161.4 242.1,163.4 242.5,165.3 242.9,167.0 243.4,168.4 243.8,169.5 244.2,170.4 244.6,171.0 245.0,171.4 245.4,171.5 245.8,171.6 246.2,171.6 246.7,171.5 247.1,171.2 247.5,170.6 247.9,169.9 248.3,168.8 248.7,167.5 249.1,165.9 249.5,164.1 249.9,162.1 250.4,160.0 250.8,157.8 251.2,155.6 251.6,153.6 252.0,151.7 252.4,150.0 252.8,148.6 253.2,147.6 253.7,146.9 254.1,146.7 254.5,146.8 254.9,147.4 255.3,148.4 255.7,149.7 256.1,151.4 256.5,153.2 256.9,155.3 257.4,157.4 257.8,159.6 258.2,161.7 258.6,163.7 259.0,165.6 259.4,167.2 259.8,168.6 260.2,169.7 260.7,170.5 261.1,171.1 261.5,171.4 261.9,171.6 262.3,171.6" fill="none" stroke="#c81e8c" stroke-width="1.4" stroke-linejoin="round" />
<path d="M163.9,170.8 164.3,170.8 164.7,170.6 165.1,170.3 165.5,169.5 166.0,168.4 166.4,166.8 166.8,164.7 167.2,162.1 167.6,159.1 168.0,155.7 168.4,152.0 168.8,148.1 169.3,144.3 169.7,140.6 170.1,137.1 170.5,134.1 170.9,131.6 171.3,129.8 171.7,128.7 172.1,128.4 172.5,128.8 173.0,130.1 173.4,132.0 173.8,134.6 174.2,137.7 174.6,141.2 175.0,144.9 175.4,148.8 175.8,152.6 176.3,156.2 176.7,159.6 177.1,162.6 177.5,165.1 177.9,167.1 178.3,168.6 178.7,169.7 179.1,170.3 179.5,170.7 180.0,170.8 180.4,170.8 180.8,170.8 181.2,170.6 181.6,170.2 182.0,169.4 182.4,168.2 182.8,166.5 183.3,164.3 183.7,161.6 184.1,158.5 184.5,155.1 184.9,151.3 185.3,147.5 185.7,143.7 186.1,140.0 186.5,136.6 187.0,133.7 187.4,131.3 187.8,129.6 188.2,128.6 188.6,128.4 189.0,129.0 189.4,130.3 189.8,132.4 190.2,135.1 190.7,138.2 191.1,141.8 191.5,145.6 191.9,149.4 192.3,153.2 192.7,156.8 193.1,160.1 193.5,163.0 194.0,165.4 194.4,167.4 194.8,168.8 195.2,169.8 195.6,170.4 196.0,170.7 196.4,170.8 196.8,170.8 197.2,170.8 197.7,170.5 198.1,170.1 198.5,169.2 198.9,167.9 199.3,166.1 199.7,163.9 200.1,161.1 200.5,158.0 201.0,154.5 201.4,150.7 201.8,146.9 202.2,143.0 202.6,139.4 203.0,136.1 203.4,133.2 203.8,130.9 204.2,129.4 204.7,128.5 205.1,128.4 205.5,129.2 205.9,130.6 206.3,132.8 206.7,135.6 207.1,138.8 207.5,142.4 208.0,146.2 208.4,150.1 208.8,153.8 209.2,157.4 209.6,160.6 210.0,163.4 210.4,165.8 210.8,167.7 211.2,169.0 211.7,169.9 212.1,170.5 212.5,170.7 212.9,170.8 213.3,170.8 213.7,170.7 214.1,170.5 214.5,169.9 215.0,169.0 215.4,167.7 215.8,165.8 216.2,163.4 216.6,160.6 217.0,157.4 217.4,153.8 217.8,150.1 218.2,146.2 218.7,142.4 219.1,138.8 219.5,135.6 219.9,132.8 220.3,130.6 220.7,129.2 221.1,128.4 221.5,128.5 222.0,129.4 222.4,130.9 222.8,133.2 223.2,136.1 223.6,139.4 224.0,143.0 224.4,146.9 224.8,150.7 225.2,154.5 225.7,158.0 226.1,161.1 226.5,163.9 226.9,166.1 227.3,167.9 227.7,169.2 228.1,170.1 228.5,170.5 229.0,170.8 229.4,170.8 229.8,170.8 230.2,170.7 230.6,170.4 231.0,169.8 231.4,168.8 231.8,167.4 232.2,165.4 232.7,163.0 233.1,160.1 233.5,156.8 233.9,153.2 234.3,149.4 234.7,145.6 235.1,141.8 235.5,138.2 236.0,135.1 236.4,132.4 236.8,130.3 237.2,129.0 237.6,128.4 238.0,128.6 238.4,129.6 238.8,131.3 239.2,133.7 239.7,136.6 240.1,140.0 240.5,143.7 240.9,147.5 241.3,151.3 241.7,155.1 242.1,158.5 242.5,161.6 242.9,164.3 243.4,166.5 243.8,168.2 244.2,169.4 244.6,170.2 245.0,170.6 245.4,170.8 245.8,170.8 246.2,170.8 246.7,170.7 247.1,170.3 247.5,169.7 247.9,168.6 248.3,167.1 248.7,165.1 249.1,162.6 249.5,159.6 249.9,156.2 250.4,152.6 250.8,148.8 251.2,144.9 251.6,141.2 252.0,137.7 252.4,134.6 252.8,132.0 253.2,130.1 253.7,128.8 254.1,128.4 254.5,128.7 254.9,129.8 255.3,131.6 255.7,134.1 256.1,137.1 256.5,140.6 256.9,144.3 257.4,148.1 257.8,152.0 258.2,155.7 258.6,159.1 259.0,162.1 259.4,164.7 259.8,166.8 260.2,168.4 260.7,169.5 261.1,170.3 261.5,170.6 261.9,170.8 262.3,170.8" fill="none" stroke="#890179" stroke-width="1.4" stroke-linejoin="round" />
<path d="M163.9,169.6 164.3,169.6 164.7,169.5 165.1,169.1 165.5,168.2 166.0,166.8 166.4,164.8 166.8,162.1 167.2,158.6 167.6,154.5 168.0,149.8 168.4,144.6 168.8,139.1 169.3,133.6 169.7,128.2 170.1,123.1 170.5,118.6 170.9,114.9 171.3,112.2 171.7,110.6 172.1,110.1 172.5,110.8 173.0,112.6 173.4,115.5 173.8,119.3 174.2,123.9 174.6,129.0 175.0,134.5 175.4,140.1 175.8,145.5 176.3,150.6 176.7,155.2 177.1,159.3 177.5,162.6 177.9,165.2 178.3,167.1 178.7,168.4 179.1,169.2 179.5,169.5 180.0,169.6 180.4,169.6 180.8,169.6 181.2,169.4 181.6,169.0 182.0,168.0 182.4,166.6 182.8,164.4 183.3,161.6 183.7,158.0 184.1,153.8 184.5,148.9 184.9,143.7 185.3,138.2 185.7,132.7 186.1,127.3 186.5,122.3 187.0,118.0 187.4,114.4 187.8,111.9 188.2,110.4 188.6,110.1 189.0,111.0 189.4,113.0 189.8,116.1 190.2,120.0 190.7,124.7 191.1,129.9 191.5,135.4 191.9,141.0 192.3,146.4 192.7,151.4 193.1,156.0 193.5,159.9 194.0,163.1 194.4,165.6 194.8,167.4 195.2,168.6 195.6,169.2 196.0,169.5 196.4,169.6 196.8,169.6 197.2,169.6 197.7,169.4 198.1,168.8 198.5,167.8 198.9,166.2 199.3,164.0 199.7,161.0 200.1,157.3 200.5,153.0 201.0,148.1 201.4,142.8 201.8,137.3 202.2,131.7 202.6,126.4 203.0,121.5 203.4,117.3 203.8,113.9 204.2,111.5 204.7,110.3 205.1,110.2 205.5,111.3 205.9,113.5 206.3,116.7 206.7,120.8 207.1,125.6 207.5,130.8 208.0,136.3 208.4,141.9 208.8,147.2 209.2,152.2 209.6,156.7 210.0,160.4 210.4,163.5 210.8,165.9 211.2,167.6 211.7,168.7 212.1,169.3 212.5,169.6 212.9,169.6 213.3,169.6 213.7,169.6 214.1,169.3 214.5,168.7 215.0,167.6 215.4,165.9 215.8,163.5 216.2,160.4 216.6,156.7 217.0,152.2 217.4,147.2 217.8,141.9 218.2,136.3 218.7,130.8 219.1,125.6 219.5,120.8 219.9,116.7 220.3,113.5 220.7,111.3 221.1,110.2 221.5,110.3 222.0,111.5 222.4,113.9 222.8,117.3 223.2,121.5 223.6,126.4 224.0,131.7 224.4,137.3 224.8,142.8 225.2,148.1 225.7,153.0 226.1,157.3 226.5,161.0 226.9,164.0 227.3,166.2 227.7,167.8 228.1,168.8 228.5,169.4 229.0,169.6 229.4,169.6 229.8,169.6 230.2,169.5 230.6,169.2 231.0,168.6 231.4,167.4 231.8,165.6 232.2,163.1 232.7,159.9 233.1,156.0 233.5,151.4 233.9,146.4 234.3,141.0 234.7,135.4 235.1,129.9 235.5,124.7 236.0,120.0 236.4,116.1 236.8,113.0 237.2,111.0 237.6,110.1 238.0,110.4 238.4,111.9 238.8,114.4 239.2,118.0 239.7,122.3 240.1,127.3 240.5,132.7 240.9,138.2 241.3,143.7 241.7,148.9 242.1,153.8 242.5,158.0 242.9,161.6 243.4,164.4 243.8,166.6 244.2,168.0 244.6,169.0 245.0,169.4 245.4,169.6 245.8,169.6 246.2,169.6 246.7,169.5 247.1,169.2 247.5,168.4 247.9,167.1 248.3,165.2 248.7,162.6 249.1,159.3 249.5,155.2 249.9,150.6 250.4,145.5 250.8,140.1 251.2,134.5 251.6,129.0 252.0,123.9 252.4,119.3 252.8,115.5 253.2,112.6 253.7,110.8 254.1,110.1 254.5,110.6 254.9,112.2 255.3,114.9 255.7,118.6 256.1,123.1 256.5,128.2 256.9,133.6 257.4,139.1 257.8,144.6 258.2,149.8 258.6,154.5 259.0,158.6 259.4,162.1 259.8,164.8 260.2,166.8 260.7,168.2 261.1,169.1 261.5,169.5 261.9,169.6 262.3,169.6" fill="none" stroke="#49006a" stroke-width="1.8" stroke-linejoin="round" />
</g>
<line x1="163.90" y1="180.15" x2="163.90" y2="176.65" stroke="#222" stroke-width="1.0"/>
<line x1="193.72" y1="180.15" x2="193.72" y2="176.65" stroke="#222" stroke-width="1.0"/>
<line x1="223.54" y1="180.15" x2="223.54" y2="176.65" stroke="#222" stroke-width="1.0"/>
<line x1="253.35" y1="180.15" x2="253.35" y2="176.65" stroke="#222" stroke-width="1.0"/>
<line x1="163.90" y1="180.15" x2="167.40" y2="180.15" stroke="#222" stroke-width="1.0"/>
<line x1="163.90" y1="149.00" x2="167.40" y2="149.00" stroke="#222" stroke-width="1.0"/>
<line x1="163.90" y1="117.86" x2="167.40" y2="117.86" stroke="#222" stroke-width="1.0"/>
<rect x="163.90" y="94.50" width="98.40" height="85.65" fill="none" stroke="#333" stroke-width="1.3"/>
<text x="45.85" y="48.20" font-size="12.2" text-anchor="middle" fill="#111" font-weight="normal" font-style="normal" stroke="#111" stroke-width="0.3" >0</text>
<text x="75.68" y="48.20" font-size="12.2" text-anchor="middle" fill="#111" font-weight="normal" font-style="normal" stroke="#111" stroke-width="0.3" >2</text>
<text x="105.52" y="48.20" font-size="12.2" text-anchor="middle" fill="#111" font-weight="normal" font-style="normal" stroke="#111" stroke-width="0.3" >4</text>
<text x="135.35" y="48.20" font-size="12.2" text-anchor="middle" fill="#111" font-weight="normal" font-style="normal" stroke="#111" stroke-width="0.3" >6</text>
<text x="92.88" y="35.60" font-size="13.6" text-anchor="middle" fill="#111" font-weight="normal" font-style="normal" stroke="#111" stroke-width="0.3" ><tspan font-style="italic">z</tspan>/<tspan font-style="italic">σ</tspan></text>
<text x="163.90" y="48.20" font-size="12.2" text-anchor="middle" fill="#111" font-weight="normal" font-style="normal" stroke="#111" stroke-width="0.3" >0</text>
<text x="193.72" y="48.20" font-size="12.2" text-anchor="middle" fill="#111" font-weight="normal" font-style="normal" stroke="#111" stroke-width="0.3" >2</text>
<text x="223.54" y="48.20" font-size="12.2" text-anchor="middle" fill="#111" font-weight="normal" font-style="normal" stroke="#111" stroke-width="0.3" >4</text>
<text x="253.35" y="48.20" font-size="12.2" text-anchor="middle" fill="#111" font-weight="normal" font-style="normal" stroke="#111" stroke-width="0.3" >6</text>
<text x="210.90" y="35.60" font-size="13.6" text-anchor="middle" fill="#111" font-weight="normal" font-style="normal" stroke="#111" stroke-width="0.3" ><tspan font-style="italic">z</tspan>/<tspan font-style="italic">σ</tspan></text>
<text x="41.40" y="59.42" font-size="11.8" text-anchor="end" fill="#111" font-weight="normal" font-style="normal" stroke="#111" stroke-width="0.3" >10</text>
<text x="41.40" y="75.17" font-size="11.8" text-anchor="end" fill="#111" font-weight="normal" font-style="normal" stroke="#111" stroke-width="0.3" >0</text>
<text x="41.40" y="90.92" font-size="11.8" text-anchor="end" fill="#111" font-weight="normal" font-style="normal" stroke="#111" stroke-width="0.3" >−<tspan dx="1.2">10</tspan></text>
<text x="42.20" y="184.75" font-size="13" text-anchor="end" fill="#111" font-weight="normal" font-style="normal" letter-spacing="0.15" stroke="#111" stroke-width="0.3" >0.0</text>
<text x="42.20" y="153.60" font-size="13" text-anchor="end" fill="#111" font-weight="normal" font-style="normal" letter-spacing="0.15" stroke="#111" stroke-width="0.3" >0.4</text>
<text x="42.20" y="122.46" font-size="13" text-anchor="end" fill="#111" font-weight="normal" font-style="normal" letter-spacing="0.15" stroke="#111" stroke-width="0.3" >0.8</text>
<text x="11.80" y="79.40" font-size="12.8" text-anchor="start" fill="#111" font-weight="normal" font-style="normal" transform="rotate(-90 11.80 79.40)" stroke="#111" stroke-width="0.3" ><tspan font-style="italic">E</tspan><tspan font-size="11" dy="-3.9" dx="2.0">*</tspan></text>
<text x="16.80" y="145.60" font-size="12.8" text-anchor="start" fill="#111" font-weight="normal" font-style="normal" transform="rotate(-90 16.80 145.60)" stroke="#111" stroke-width="0.3" ><tspan font-style="italic">ρ</tspan><tspan font-size="11" dy="-2.8" dx="2.4">*</tspan></text>
<rect x="64.30" y="86.3" width="56.00" height="15.7" rx="2.5" fill="#fff" stroke="#a4268f" stroke-width="1"/>
<text y="98.4" font-size="12.4" fill="#98178a" stroke="#98178a" stroke-width="0.3"><tspan x="70.30" font-style="italic">λ</tspan><tspan x="78.70">=</tspan><tspan x="88.30" letter-spacing="0.3">6.6</tspan><tspan x="107.40" font-style="italic">σ</tspan></text>
<rect x="185.20" y="86.3" width="56.70" height="15.7" rx="2.5" fill="#fff" stroke="#a4268f" stroke-width="1"/>
<text y="98.4" font-size="12.4" fill="#98178a" stroke="#98178a" stroke-width="0.3"><tspan x="191.20" font-style="italic">λ</tspan><tspan x="199.60">=</tspan><tspan x="209.20" letter-spacing="0.3">2.2</tspan><tspan x="228.30" font-style="italic">σ</tspan></text>
<g fill="#5b1682" stroke="#5b1682" stroke-width="0.25"><text x="118.9" y="127.4" font-size="10.2" font-style="italic">ρ</text><text x="125.6" y="125.6" font-size="8.5">*</text><text x="124.9" y="128.9" font-size="7.9">max</text></g>
<path d="M126.5,132.3 L120.3,140" stroke="#5b1682" stroke-width="1.1" fill="none"/>
<path d="M119.8,136.2 L120.3,140 L124,138.8" stroke="#5b1682" stroke-width="1.1" fill="none"/>
<defs><linearGradient id="grA" x1="0" y1="1" x2="0" y2="0"><stop offset="0.000" stop-color="#fde1de"/><stop offset="0.125" stop-color="#fcc9c5"/><stop offset="0.250" stop-color="#fbaab8"/><stop offset="0.375" stop-color="#f87ea9"/><stop offset="0.500" stop-color="#eb4f9c"/><stop offset="0.625" stop-color="#cc228e"/><stop offset="0.750" stop-color="#a2017c"/><stop offset="0.875" stop-color="#740175"/><stop offset="1.000" stop-color="#49006a"/></linearGradient></defs>
<path d="M270.3,161.5 L270.3,81 L267.3,81 L272.9,73.6 L278.8,81 L275.7,81 L275.7,161.5 Z" fill="url(#grA)" stroke="#111" stroke-width="0.9" stroke-linejoin="miter"/>
<text x="290.60" y="119.20" font-size="12" text-anchor="middle" fill="#6a1b8f" font-weight="normal" font-style="normal" transform="rotate(-90 290.60 119.20)" stroke="#6a1b8f" stroke-width="0.3" >increasing <tspan font-style="italic">E</tspan><tspan font-size="9.5" dy="-4" dx="0.3">*</tspan><tspan font-size="8.4" dy="5.8" dx="-4.3">max</tspan></text>
<text x="0.30" y="35.80" font-size="13.6" text-anchor="start" fill="#111" font-weight="bold" font-style="normal" >a</text>
<rect x="112.70" y="0.60" width="59.50" height="19.60" rx="3" fill="#9a007f" stroke="#111" stroke-width="0.9"/>
<rect x="468.00" y="0.60" width="59.60" height="19.60" rx="3" fill="#134a8c" stroke="#111" stroke-width="0.9"/>
<g fill="#fff" font-weight="bold">
<text x="122.00" y="14.40" font-size="12.50" font-style="italic">T</text>
<text x="128.80" y="13.40" font-size="12.00">*</text>
<text x="135.00" y="14.40" font-size="12.50">&gt;</text>
<text x="145.00" y="14.40" font-size="12.50" font-style="italic">T</text>
<text x="152.10" y="13.40" font-size="12.00">*</text>
<text x="152.20" y="16.40" font-size="8.60">c,0</text>
</g>
<g fill="#fff" font-weight="bold">
<text x="477.10" y="14.40" font-size="12.50" font-style="italic">T</text>
<text x="483.90" y="13.40" font-size="12.00">*</text>
<text x="490.10" y="14.40" font-size="12.50">&lt;</text>
<text x="500.10" y="14.40" font-size="12.50" font-style="italic">T</text>
<text x="507.20" y="13.40" font-size="12.00">*</text>
<text x="507.30" y="16.40" font-size="8.60">c,0</text>
</g>
<line x1="90.20" y1="200.60" x2="90.20" y2="332.40" stroke="#cfcfcf" stroke-width="0.7" stroke-dasharray="2,1.6"/>
<line x1="133.50" y1="200.60" x2="133.50" y2="332.40" stroke="#cfcfcf" stroke-width="0.7" stroke-dasharray="2,1.6"/>
<line x1="176.80" y1="200.60" x2="176.80" y2="332.40" stroke="#cfcfcf" stroke-width="0.7" stroke-dasharray="2,1.6"/>
<line x1="220.10" y1="200.60" x2="220.10" y2="332.40" stroke="#cfcfcf" stroke-width="0.7" stroke-dasharray="2,1.6"/>
<line x1="46.90" y1="291.85" x2="263.40" y2="291.85" stroke="#cfcfcf" stroke-width="0.7" stroke-dasharray="2,1.6"/>
<line x1="46.90" y1="251.29" x2="263.40" y2="251.29" stroke="#cfcfcf" stroke-width="0.7" stroke-dasharray="2,1.6"/>
<line x1="46.90" y1="210.74" x2="263.40" y2="210.74" stroke="#cfcfcf" stroke-width="0.7" stroke-dasharray="2,1.6"/>
<clipPath id="cb"><rect x="46.90" y="200.60" width="216.50" height="131.80"/></clipPath>
<g clip-path="url(#cb)">
<path d="M46.9,332.4 48.7,332.4 50.5,332.4 52.4,332.3 54.2,332.3 56.0,332.2 57.8,332.1 59.6,332.0 61.5,331.9 63.3,331.8 65.1,331.7 66.9,331.5 68.7,331.4 70.6,331.2 72.4,331.1 74.2,330.9 76.0,330.7 77.8,330.5 79.6,330.3 81.5,330.1 83.3,329.8 85.1,329.6 86.9,329.4 88.7,329.1 90.6,328.9 92.4,328.6 94.2,328.4 96.0,328.1 97.8,327.8 99.7,327.5 101.5,327.2 103.3,326.9 105.1,326.6 106.9,326.3 108.8,326.0 110.6,325.7 112.4,325.4 114.2,325.1 116.0,324.8 117.9,324.4 119.7,324.1 121.5,323.8 123.3,323.4 125.1,323.1 127.0,322.7 128.8,322.4 130.6,322.0 132.4,321.7 134.2,321.3 136.0,321.0 137.9,320.6 139.7,320.3 141.5,319.9 143.3,319.5 145.1,319.1 147.0,318.8 148.8,318.4 150.6,318.0 152.4,317.6 154.2,317.2 156.1,316.9 157.9,316.5 159.7,316.1 161.5,315.7 163.3,315.3 165.2,314.9 167.0,314.5 168.8,314.1 170.6,313.7 172.4,313.3 174.3,312.9 176.1,312.5 177.9,312.1 179.7,311.7 181.5,311.3 183.3,310.9 185.2,310.4 187.0,310.0 188.8,309.6 190.6,309.2 192.4,308.8 194.3,308.4 196.1,307.9 197.9,307.5 199.7,307.1 201.5,306.7 203.4,306.3 205.2,305.8 207.0,305.4 208.8,305.0 210.6,304.6 212.5,304.1 214.3,303.7 216.1,303.3 217.9,302.9 219.7,302.4 221.6,302.0 223.4,301.6 225.2,301.2 227.0,300.7 228.8,300.3 230.7,299.9 232.5,299.5 234.3,299.1 236.1,298.6 237.9,298.2 239.7,297.8 241.6,297.4 243.4,297.0 245.2,296.6 247.0,296.2 248.8,295.8 250.7,295.4 252.5,295.0 254.3,294.6 256.1,294.2 257.9,293.9 259.8,293.5 261.6,293.1 263.4,292.8" fill="none" stroke="#da6fd8" stroke-width="1.6" stroke-linejoin="round" />
<path d="M46.9,332.4 48.7,332.4 50.5,332.4 52.4,332.3 54.2,332.3 56.0,332.2 57.8,332.2 59.6,332.1 61.5,332.0 63.3,331.9 65.1,331.7 66.9,331.6 68.7,331.4 70.6,331.3 72.4,331.1 74.2,330.9 76.0,330.7 77.8,330.5 79.6,330.3 81.5,330.1 83.3,329.8 85.1,329.6 86.9,329.3 88.7,329.0 90.6,328.7 92.4,328.4 94.2,328.1 96.0,327.8 97.8,327.5 99.7,327.2 101.5,326.8 103.3,326.5 105.1,326.1 106.9,325.7 108.8,325.3 110.6,325.0 112.4,324.6 114.2,324.2 116.0,323.7 117.9,323.3 119.7,322.9 121.5,322.5 123.3,322.0 125.1,321.6 127.0,321.1 128.8,320.7 130.6,320.2 132.4,319.8 134.2,319.3 136.0,318.8 137.9,318.3 139.7,317.8 141.5,317.3 143.3,316.9 145.1,316.4 147.0,315.9 148.8,315.3 150.6,314.8 152.4,314.3 154.2,313.8 156.1,313.3 157.9,312.8 159.7,312.3 161.5,311.7 163.3,311.2 165.2,310.7 167.0,310.2 168.8,309.6 170.6,309.1 172.4,308.6 174.3,308.0 176.1,307.5 177.9,307.0 179.7,306.4 181.5,305.9 183.3,305.4 185.2,304.8 187.0,304.3 188.8,303.8 190.6,303.3 192.4,302.7 194.3,302.2 196.1,301.7 197.9,301.2 199.7,300.6 201.5,300.1 203.4,299.6 205.2,299.1 207.0,298.6 208.8,298.0 210.6,297.5 212.5,297.0 214.3,296.5 216.1,296.0 217.9,295.5 219.7,295.0 221.6,294.5 223.4,294.0 225.2,293.5 227.0,293.0 228.8,292.5 230.7,292.0 232.5,291.6 234.3,291.1 236.1,290.6 237.9,290.1 239.7,289.6 241.6,289.2 243.4,288.7 245.2,288.2 247.0,287.8 248.8,287.3 250.7,286.8 252.5,286.4 254.3,285.9 256.1,285.4 257.9,285.0 259.8,284.5 261.6,284.1 263.4,283.6" fill="none" stroke="#22b5ad" stroke-width="1.6" stroke-linejoin="round" />
<path d="M46.9,332.4 48.7,332.4 50.5,332.4 52.4,332.4 54.2,332.3 56.0,332.3 57.8,332.2 59.6,332.1 61.5,332.0 63.3,331.9 65.1,331.8 66.9,331.7 68.7,331.6 70.6,331.4 72.4,331.2 74.2,331.0 76.0,330.8 77.8,330.6 79.6,330.4 81.5,330.1 83.3,329.8 85.1,329.5 86.9,329.2 88.7,328.9 90.6,328.5 92.4,328.2 94.2,327.8 96.0,327.4 97.8,327.0 99.7,326.6 101.5,326.1 103.3,325.6 105.1,325.1 106.9,324.6 108.8,324.1 110.6,323.6 112.4,323.0 114.2,322.4 116.0,321.8 117.9,321.2 119.7,320.6 121.5,320.0 123.3,319.3 125.1,318.6 127.0,317.9 128.8,317.2 130.6,316.5 132.4,315.8 134.2,315.0 136.0,314.2 137.9,313.5 139.7,312.7 141.5,311.9 143.3,311.0 145.1,310.2 147.0,309.3 148.8,308.5 150.6,307.6 152.4,306.7 154.2,305.8 156.1,304.9 157.9,304.0 159.7,303.0 161.5,302.1 163.3,301.1 165.2,300.2 167.0,299.2 168.8,298.2 170.6,297.2 172.4,296.3 174.3,295.3 176.1,294.2 177.9,293.2 179.7,292.2 181.5,291.2 183.3,290.1 185.2,289.1 187.0,288.1 188.8,287.0 190.6,286.0 192.4,284.9 194.3,283.9 196.1,282.8 197.9,281.7 199.7,280.7 201.5,279.6 203.4,278.5 205.2,277.5 207.0,276.4 208.8,275.3 210.6,274.3 212.5,273.2 214.3,272.1 216.1,271.1 217.9,270.0 219.7,269.0 221.6,267.9 223.4,266.9 225.2,265.8 227.0,264.8 228.8,263.7 230.7,262.7 232.5,261.6 234.3,260.6 236.1,259.6 237.9,258.5 239.7,257.5 241.6,256.5 243.4,255.5 245.2,254.5 247.0,253.5 248.8,252.5 250.7,251.5 252.5,250.5 254.3,249.6 256.1,248.6 257.9,247.6 259.8,246.7 261.6,245.7 263.4,244.8" fill="none" stroke="#2b8ef0" stroke-width="1.6" stroke-linejoin="round" />
<path d="M46.9,332.4 48.7,332.4 50.5,332.4 52.4,332.4 54.2,332.3 56.0,332.3 57.8,332.2 59.6,332.1 61.5,332.0 63.3,331.8 65.1,331.7 66.9,331.5 68.7,331.3 70.6,331.1 72.4,330.8 74.2,330.6 76.0,330.2 77.8,329.9 79.6,329.6 81.5,329.2 83.3,328.7 85.1,328.3 86.9,327.8 88.7,327.3 90.6,326.8 92.4,326.3 94.2,325.7 96.0,325.1 97.8,324.4 99.7,323.8 101.5,323.1 103.3,322.4 105.1,321.6 106.9,320.9 108.8,320.1 110.6,319.3 112.4,318.5 114.2,317.6 116.0,316.8 117.9,315.9 119.7,315.0 121.5,314.1 123.3,313.1 125.1,312.2 127.0,311.2 128.8,310.2 130.6,309.3 132.4,308.3 134.2,307.3 136.0,306.2 137.9,305.2 139.7,304.2 141.5,303.2 143.3,302.2 145.1,301.1 147.0,300.1 148.8,299.1 150.6,298.0 152.4,297.0 154.2,296.0 156.1,295.0 157.9,294.0 159.7,292.9 161.5,292.0 163.3,291.0 165.2,290.0 167.0,289.0 168.8,288.1 170.6,287.1 172.4,286.2 174.3,285.3 176.1,284.4 177.9,283.5 179.7,282.7 181.5,281.8 183.3,281.0 185.2,280.2 187.0,279.4 188.8,278.6 190.6,277.9 192.4,277.2 194.3,276.5 196.1,275.8 197.9,275.1 199.7,274.5 201.5,273.8 203.4,273.2 205.2,272.6 207.0,272.1 208.8,271.5 210.6,271.0 212.5,270.5 214.3,270.0 216.1,269.5 217.9,269.1 219.7,268.6 221.6,268.2 223.4,267.8 225.2,267.4 227.0,267.0 228.8,266.6 230.7,266.2 232.5,265.8 234.3,265.5 236.1,265.1 237.9,264.7 239.7,264.3 241.6,263.9 243.4,263.6 245.2,263.1 247.0,262.7 248.8,262.3 250.7,261.8 252.5,261.3 254.3,260.8 256.1,260.3 257.9,259.7 259.8,259.1 261.6,258.5 263.4,257.7" fill="none" stroke="#de72dc" stroke-width="1.4" stroke-linejoin="round" stroke-dasharray="4,2.4" />
<path d="M46.9,332.4 48.7,332.4 50.5,332.4 52.4,332.4 54.2,332.4 56.0,332.3 57.8,332.3 59.6,332.3 61.5,332.2 63.3,332.1 65.1,332.0 66.9,331.9 68.7,331.8 70.6,331.6 72.4,331.4 74.2,331.2 76.0,331.0 77.8,330.7 79.6,330.4 81.5,330.1 83.3,329.8 85.1,329.4 86.9,329.0 88.7,328.6 90.6,328.1 92.4,327.6 94.2,327.1 96.0,326.6 97.8,326.0 99.7,325.4 101.5,324.7 103.3,324.0 105.1,323.3 106.9,322.6 108.8,321.8 110.6,321.0 112.4,320.1 114.2,319.3 116.0,318.4 117.9,317.4 119.7,316.5 121.5,315.5 123.3,314.5 125.1,313.4 127.0,312.4 128.8,311.3 130.6,310.2 132.4,309.0 134.2,307.8 136.0,306.6 137.9,305.4 139.7,304.2 141.5,302.9 143.3,301.6 145.1,300.3 147.0,299.0 148.8,297.7 150.6,296.3 152.4,294.9 154.2,293.5 156.1,292.1 157.9,290.7 159.7,289.3 161.5,287.9 163.3,286.4 165.2,284.9 167.0,283.5 168.8,282.0 170.6,280.5 172.4,279.0 174.3,277.5 176.1,276.0 177.9,274.5 179.7,272.9 181.5,271.4 183.3,269.9 185.2,268.4 187.0,266.8 188.8,265.3 190.6,263.8 192.4,262.3 194.3,260.7 196.1,259.2 197.9,257.7 199.7,256.2 201.5,254.6 203.4,253.1 205.2,251.6 207.0,250.1 208.8,248.6 210.6,247.1 212.5,245.6 214.3,244.1 216.1,242.6 217.9,241.2 219.7,239.7 221.6,238.2 223.4,236.8 225.2,235.3 227.0,233.8 228.8,232.4 230.7,230.9 232.5,229.4 234.3,228.0 236.1,226.5 237.9,225.1 239.7,223.6 241.6,222.2 243.4,220.7 245.2,219.2 247.0,217.8 248.8,216.3 250.7,214.8 252.5,213.3 254.3,211.8 256.1,210.2 257.9,208.7 259.8,207.1 261.6,205.5 263.4,203.9" fill="none" stroke="#7d7dcc" stroke-width="1.5" stroke-linejoin="round" />
<path d="M46.9,332.4 48.7,332.4 50.5,332.4 52.4,332.4 54.2,332.4 56.0,332.3 57.8,332.3 59.6,332.3 61.5,332.2 63.3,332.1 65.1,332.0 66.9,331.9 68.7,331.8 70.6,331.6 72.4,331.4 74.2,331.2 76.0,331.0 77.8,330.7 79.6,330.4 81.5,330.1 83.3,329.8 85.1,329.4 86.9,329.0 88.7,328.6 90.6,328.1 92.4,327.6 94.2,327.1 96.0,326.6 97.8,326.0 99.7,325.4 101.5,324.7 103.3,324.0 105.1,323.3 106.9,322.6 108.8,321.8 110.6,321.0 112.4,320.1 114.2,319.3 116.0,318.4 117.9,317.4 119.7,316.5 121.5,315.5 123.3,314.5 125.1,313.4 127.0,312.4 128.8,311.3 130.6,310.2 132.4,309.0 134.2,307.8 136.0,306.6 137.9,305.4 139.7,304.2 141.5,302.9 143.3,301.6 145.1,300.3 147.0,299.0 148.8,297.7 150.6,296.3 152.4,294.9 154.2,293.5 156.1,292.1 157.9,290.7 159.7,289.3 161.5,287.9 163.3,286.4 165.2,284.9 167.0,283.5 168.8,282.0 170.6,280.5 172.4,279.0 174.3,277.5 176.1,276.0 177.9,274.5 179.7,272.9 181.5,271.4 183.3,269.9 185.2,268.4 187.0,266.8 188.8,265.3 190.6,263.8 192.4,262.3 194.3,260.7 196.1,259.2 197.9,257.7 199.7,256.2 201.5,254.6 203.4,253.1 205.2,251.6 207.0,250.1 208.8,248.6 210.6,247.1 212.5,245.6 214.3,244.1 216.1,242.6 217.9,241.2 219.7,239.7 221.6,238.2 223.4,236.8 225.2,235.3 227.0,233.8 228.8,232.4 230.7,230.9 232.5,229.4 234.3,228.0 236.1,226.5 237.9,225.1 239.7,223.6 241.6,222.2 243.4,220.7 245.2,219.2 247.0,217.8 248.8,216.3 250.7,214.8 252.5,213.3 254.3,211.8 256.1,210.2 257.9,208.7 259.8,207.1 261.6,205.5 263.4,203.9" fill="none" stroke="#0a0a8c" stroke-width="1.9" stroke-linejoin="round" stroke-dasharray="3.8,1.7" />
</g>
<line x1="46.90" y1="332.40" x2="46.90" y2="328.90" stroke="#222" stroke-width="1.0"/>
<line x1="90.20" y1="332.40" x2="90.20" y2="328.90" stroke="#222" stroke-width="1.0"/>
<line x1="133.50" y1="332.40" x2="133.50" y2="328.90" stroke="#222" stroke-width="1.0"/>
<line x1="176.80" y1="332.40" x2="176.80" y2="328.90" stroke="#222" stroke-width="1.0"/>
<line x1="220.10" y1="332.40" x2="220.10" y2="328.90" stroke="#222" stroke-width="1.0"/>
<line x1="263.40" y1="332.40" x2="263.40" y2="328.90" stroke="#222" stroke-width="1.0"/>
<line x1="46.90" y1="332.40" x2="50.40" y2="332.40" stroke="#222" stroke-width="1.0"/>
<line x1="46.90" y1="291.85" x2="50.40" y2="291.85" stroke="#222" stroke-width="1.0"/>
<line x1="46.90" y1="251.29" x2="50.40" y2="251.29" stroke="#222" stroke-width="1.0"/>
<line x1="46.90" y1="210.74" x2="50.40" y2="210.74" stroke="#222" stroke-width="1.0"/>
<rect x="46.90" y="200.60" width="216.50" height="131.80" fill="none" stroke="#333" stroke-width="1.3"/>
<text x="46.90" y="345.20" font-size="12.9" text-anchor="middle" fill="#111" font-weight="normal" font-style="normal" letter-spacing="0.6" stroke="#111" stroke-width="0.3" >0</text>
<text x="90.20" y="345.20" font-size="12.9" text-anchor="middle" fill="#111" font-weight="normal" font-style="normal" letter-spacing="0.6" stroke="#111" stroke-width="0.3" >2</text>
<text x="133.50" y="345.20" font-size="12.9" text-anchor="middle" fill="#111" font-weight="normal" font-style="normal" letter-spacing="0.6" stroke="#111" stroke-width="0.3" >4</text>
<text x="176.80" y="345.20" font-size="12.9" text-anchor="middle" fill="#111" font-weight="normal" font-style="normal" letter-spacing="0.6" stroke="#111" stroke-width="0.3" >6</text>
<text x="220.10" y="345.20" font-size="12.9" text-anchor="middle" fill="#111" font-weight="normal" font-style="normal" letter-spacing="0.6" stroke="#111" stroke-width="0.3" >8</text>
<text x="263.40" y="345.20" font-size="12.9" text-anchor="middle" fill="#111" font-weight="normal" font-style="normal" letter-spacing="0.6" stroke="#111" stroke-width="0.3" >10</text>
<text x="43.50" y="337.00" font-size="12.9" text-anchor="end" fill="#111" font-weight="normal" font-style="normal" letter-spacing="0.6" stroke="#111" stroke-width="0.3" >0.0</text>
<text x="43.50" y="296.45" font-size="12.9" text-anchor="end" fill="#111" font-weight="normal" font-style="normal" letter-spacing="0.6" stroke="#111" stroke-width="0.3" >0.4</text>
<text x="43.50" y="255.89" font-size="12.9" text-anchor="end" fill="#111" font-weight="normal" font-style="normal" letter-spacing="0.6" stroke="#111" stroke-width="0.3" >0.8</text>
<text x="43.50" y="215.34" font-size="12.9" text-anchor="end" fill="#111" font-weight="normal" font-style="normal" letter-spacing="0.6" stroke="#111" stroke-width="0.3" >1.2</text>
<g fill="#111" stroke="#111" stroke-width="0.3">
<text x="141.04" y="363.40" font-size="15.08" font-style="italic">E</text>
<text x="151.29" y="360.06" font-size="13.65">*</text>
<text x="149.49" y="366.00" font-size="11.18">max</text>
</g>
<text x="16.60" y="285.80" font-size="13.8" text-anchor="start" fill="#111" font-weight="normal" font-style="normal" transform="rotate(-90 16.60 285.80)" stroke="#111" stroke-width="0.3" >Δ<tspan font-style="italic">ρ</tspan><tspan font-size="11" dy="-2.4" dx="2.0">*</tspan><tspan font-size="10.5" dy="7.5" dx="-7.0">max</tspan></text>
<text x="208.90" y="245.60" font-size="12.8" text-anchor="start" fill="#17178f" font-weight="normal" font-style="normal" transform="rotate(-39 208.90 245.60)" stroke="#17178f" stroke-width="0.3" ><tspan font-style="italic">λ</tspan> = 1.7<tspan font-style="italic">σ</tspan></text>
<text x="224.20" y="265.00" font-size="12.8" text-anchor="start" fill="#2b8ef0" font-weight="normal" font-style="normal" transform="rotate(-28.5 224.20 265.00)" stroke="#2b8ef0" stroke-width="0.3" ><tspan font-style="italic">λ</tspan> = 2.2<tspan font-style="italic">σ</tspan></text>
<text x="218.60" y="291.80" font-size="12.8" text-anchor="start" fill="#20b3ab" font-weight="normal" font-style="normal" transform="rotate(-15 218.60 291.80)" stroke="#20b3ab" stroke-width="0.3" ><tspan font-style="italic">λ</tspan> = 3.3<tspan font-style="italic">σ</tspan></text>
<text x="215.90" y="314.50" font-size="12.8" text-anchor="start" fill="#da6fd8" font-weight="normal" font-style="normal" transform="rotate(-12.1 215.90 314.50)" stroke="#da6fd8" stroke-width="0.3" ><tspan font-style="italic">λ</tspan> = 6.6<tspan font-style="italic">σ</tspan></text>
<rect x="57.80" y="207.60" width="86.60" height="52.50" fill="#fff"/>
<line x1="84.04" y1="207.60" x2="84.04" y2="260.10" stroke="#cfcfcf" stroke-width="0.7" stroke-dasharray="2,1.6"/>
<line x1="110.28" y1="207.60" x2="110.28" y2="260.10" stroke="#cfcfcf" stroke-width="0.7" stroke-dasharray="2,1.6"/>
<line x1="136.53" y1="207.60" x2="136.53" y2="260.10" stroke="#cfcfcf" stroke-width="0.7" stroke-dasharray="2,1.6"/>
<line x1="57.80" y1="238.23" x2="144.40" y2="238.23" stroke="#cfcfcf" stroke-width="0.7" stroke-dasharray="2,1.6"/>
<line x1="57.80" y1="216.35" x2="144.40" y2="216.35" stroke="#cfcfcf" stroke-width="0.7" stroke-dasharray="2,1.6"/>
<clipPath id="cin"><rect x="57.80" y="207.60" width="86.60" height="52.50"/></clipPath>
<g clip-path="url(#cin)">
<path d="M57.8,250.2 58.2,250.2 58.7,250.1 59.1,250.0 59.5,249.8 60.0,249.7 60.4,249.5 60.8,249.3 61.3,249.1 61.7,248.9 62.2,248.6 62.6,248.4 63.0,248.1 63.5,247.9 63.9,247.6 64.3,247.3 64.8,247.0 65.2,246.7 65.6,246.4 66.1,246.1 66.5,245.8 66.9,245.5 67.4,245.2 67.8,244.9 68.2,244.6 68.7,244.3 69.1,244.0 69.5,243.7 70.0,243.4 70.4,243.1 70.9,242.9 71.3,242.6 71.7,242.4 72.2,242.1 72.6,241.9 73.0,241.7 73.5,241.5 73.9,241.3 74.3,241.1 74.8,240.9 75.2,240.7 75.6,240.6 76.1,240.5 76.5,240.3 76.9,240.2 77.4,240.2 77.8,240.1 78.3,240.0 78.7,240.0 79.1,240.0 79.6,240.0 80.0,240.0 80.4,240.0 80.9,240.1 81.3,240.1 81.7,240.2 82.2,240.3 82.6,240.4 83.0,240.5 83.5,240.7 83.9,240.8 84.3,241.0 84.8,241.2 85.2,241.4 85.7,241.6 86.1,241.8 86.5,242.0 87.0,242.2 87.4,242.5 87.8,242.7 88.3,243.0 88.7,243.3 89.1,243.6 89.6,243.9 90.0,244.1 90.4,244.4 90.9,244.7 91.3,245.0 91.7,245.4 92.2,245.7 92.6,246.0 93.0,246.3 93.5,246.6 93.9,246.9 94.4,247.2 94.8,247.4 95.2,247.7 95.7,248.0 96.1,248.3 96.5,248.5 97.0,248.8 97.4,249.0 97.8,249.2 98.3,249.4 98.7,249.6 99.1,249.8 99.6,249.9 100.0,250.0 100.4,250.1 100.9,250.2 101.3,250.2 101.8,250.1 102.2,250.0 102.6,249.9 103.1,249.8 103.5,249.6 103.9,249.4 104.4,249.2 104.8,249.0 105.2,248.8 105.7,248.5 106.1,248.3 106.5,248.0 107.0,247.7 107.4,247.4 107.8,247.2 108.3,246.9 108.7,246.6 109.2,246.3 109.6,246.0 110.0,245.7 110.5,245.4 110.9,245.0 111.3,244.7 111.8,244.4 112.2,244.1 112.6,243.9 113.1,243.6 113.5,243.3 113.9,243.0 114.4,242.7 114.8,242.5 115.2,242.2 115.7,242.0 116.1,241.8 116.5,241.6 117.0,241.4 117.4,241.2 117.9,241.0 118.3,240.8 118.7,240.7 119.2,240.5 119.6,240.4 120.0,240.3 120.5,240.2 120.9,240.1 121.3,240.1 121.8,240.0 122.2,240.0 122.6,240.0 123.1,240.0 123.5,240.0 123.9,240.0 124.4,240.1 124.8,240.2 125.3,240.2 125.7,240.3 126.1,240.5 126.6,240.6 127.0,240.7 127.4,240.9 127.9,241.1 128.3,241.3 128.7,241.5 129.2,241.7 129.6,241.9 130.0,242.1 130.5,242.4 130.9,242.6 131.3,242.9 131.8,243.1 132.2,243.4 132.7,243.7 133.1,244.0 133.5,244.3 134.0,244.6 134.4,244.9 134.8,245.2 135.3,245.5 135.7,245.8 136.1,246.1 136.6,246.4 137.0,246.7 137.4,247.0 137.9,247.3 138.3,247.6 138.7,247.9 139.2,248.1 139.6,248.4 140.0,248.6 140.5,248.9 140.9,249.1 141.4,249.3 141.8,249.5 142.2,249.7 142.7,249.8 143.1,250.0 143.5,250.1 144.0,250.2 144.4,250.2" fill="none" stroke="#da6fd8" stroke-width="1.6" stroke-linejoin="round" />
<path d="M57.8,246.5 58.2,244.9 58.7,243.8 59.1,242.8 59.5,241.9 60.0,241.1 60.4,240.3 60.8,239.5 61.3,238.8 61.7,238.1 62.2,237.4 62.6,236.8 63.0,236.2 63.5,235.6 63.9,235.0 64.3,234.4 64.8,233.8 65.2,233.3 65.6,232.8 66.1,232.3 66.5,231.8 66.9,231.3 67.4,230.9 67.8,230.4 68.2,230.0 68.7,229.6 69.1,229.2 69.5,228.9 70.0,228.5 70.4,228.2 70.9,227.8 71.3,227.5 71.7,227.2 72.2,226.9 72.6,226.7 73.0,226.4 73.5,226.2 73.9,226.0 74.3,225.8 74.8,225.6 75.2,225.4 75.6,225.3 76.1,225.2 76.5,225.0 76.9,224.9 77.4,224.8 77.8,224.8 78.3,224.7 78.7,224.7 79.1,224.7 79.6,224.7 80.0,224.7 80.4,224.7 80.9,224.7 81.3,224.8 81.7,224.9 82.2,225.0 82.6,225.1 83.0,225.2 83.5,225.4 83.9,225.5 84.3,225.7 84.8,225.9 85.2,226.1 85.7,226.3 86.1,226.6 86.5,226.8 87.0,227.1 87.4,227.4 87.8,227.7 88.3,228.0 88.7,228.3 89.1,228.7 89.6,229.0 90.0,229.4 90.4,229.8 90.9,230.2 91.3,230.7 91.7,231.1 92.2,231.6 92.6,232.0 93.0,232.5 93.5,233.0 93.9,233.6 94.4,234.1 94.8,234.7 95.2,235.3 95.7,235.9 96.1,236.5 96.5,237.1 97.0,237.8 97.4,238.5 97.8,239.2 98.3,239.9 98.7,240.7 99.1,241.5 99.6,242.4 100.0,243.3 100.4,244.3 100.9,245.6 101.3,245.6 101.8,244.3 102.2,243.3 102.6,242.4 103.1,241.5 103.5,240.7 103.9,239.9 104.4,239.2 104.8,238.5 105.2,237.8 105.7,237.1 106.1,236.5 106.5,235.9 107.0,235.3 107.4,234.7 107.8,234.1 108.3,233.6 108.7,233.0 109.2,232.5 109.6,232.0 110.0,231.6 110.5,231.1 110.9,230.7 111.3,230.2 111.8,229.8 112.2,229.4 112.6,229.0 113.1,228.7 113.5,228.3 113.9,228.0 114.4,227.7 114.8,227.4 115.2,227.1 115.7,226.8 116.1,226.6 116.5,226.3 117.0,226.1 117.4,225.9 117.9,225.7 118.3,225.5 118.7,225.4 119.2,225.2 119.6,225.1 120.0,225.0 120.5,224.9 120.9,224.8 121.3,224.7 121.8,224.7 122.2,224.7 122.6,224.7 123.1,224.7 123.5,224.7 123.9,224.7 124.4,224.8 124.8,224.8 125.3,224.9 125.7,225.0 126.1,225.2 126.6,225.3 127.0,225.4 127.4,225.6 127.9,225.8 128.3,226.0 128.7,226.2 129.2,226.4 129.6,226.7 130.0,226.9 130.5,227.2 130.9,227.5 131.3,227.8 131.8,228.2 132.2,228.5 132.7,228.9 133.1,229.2 133.5,229.6 134.0,230.0 134.4,230.4 134.8,230.9 135.3,231.3 135.7,231.8 136.1,232.3 136.6,232.8 137.0,233.3 137.4,233.8 137.9,234.4 138.3,235.0 138.7,235.6 139.2,236.2 139.6,236.8 140.0,237.4 140.5,238.1 140.9,238.8 141.4,239.5 141.8,240.3 142.2,241.1 142.7,241.9 143.1,242.8 143.5,243.8 144.0,244.9 144.4,246.5" fill="none" stroke="#da6fd8" stroke-width="1.3" stroke-linejoin="round" stroke-dasharray="2.9,1.8" />
</g>
<line x1="57.80" y1="260.10" x2="57.80" y2="257.60" stroke="#222" stroke-width="1.0"/>
<line x1="84.04" y1="260.10" x2="84.04" y2="257.60" stroke="#222" stroke-width="1.0"/>
<line x1="110.28" y1="260.10" x2="110.28" y2="257.60" stroke="#222" stroke-width="1.0"/>
<line x1="136.53" y1="260.10" x2="136.53" y2="257.60" stroke="#222" stroke-width="1.0"/>
<line x1="144.40" y1="260.10" x2="141.90" y2="260.10" stroke="#222" stroke-width="1.0"/>
<line x1="144.40" y1="238.23" x2="141.90" y2="238.23" stroke="#222" stroke-width="1.0"/>
<line x1="144.40" y1="216.35" x2="141.90" y2="216.35" stroke="#222" stroke-width="1.0"/>
<rect x="57.80" y="207.60" width="86.60" height="52.50" fill="none" stroke="#333" stroke-width="1.3"/>
<text x="57.80" y="270.60" font-size="9.6" text-anchor="middle" fill="#111" font-weight="normal" font-style="normal" letter-spacing="0.3" stroke="#111" stroke-width="0.3" >0</text>
<text x="84.04" y="270.60" font-size="9.6" text-anchor="middle" fill="#111" font-weight="normal" font-style="normal" letter-spacing="0.3" stroke="#111" stroke-width="0.3" >2</text>
<text x="110.28" y="270.60" font-size="9.6" text-anchor="middle" fill="#111" font-weight="normal" font-style="normal" letter-spacing="0.3" stroke="#111" stroke-width="0.3" >4</text>
<text x="136.53" y="270.60" font-size="9.6" text-anchor="middle" fill="#111" font-weight="normal" font-style="normal" letter-spacing="0.3" stroke="#111" stroke-width="0.3" >6</text>
<text x="148.20" y="263.50" font-size="9.6" text-anchor="start" fill="#111" font-weight="normal" font-style="normal" letter-spacing="0.3" stroke="#111" stroke-width="0.3" >0.0</text>
<text x="148.20" y="241.63" font-size="9.6" text-anchor="start" fill="#111" font-weight="normal" font-style="normal" letter-spacing="0.3" stroke="#111" stroke-width="0.3" >0.5</text>
<text x="148.20" y="219.75" font-size="9.6" text-anchor="start" fill="#111" font-weight="normal" font-style="normal" letter-spacing="0.3" stroke="#111" stroke-width="0.3" >1.0</text>
<text x="99.60" y="282.30" font-size="9.6" text-anchor="middle" fill="#111" font-weight="normal" font-style="normal" stroke="#111" stroke-width="0.3" ><tspan font-style="italic">z</tspan>/<tspan font-style="italic">σ</tspan></text>
<text x="172.40" y="241.00" font-size="9.8" text-anchor="start" fill="#111" font-weight="normal" font-style="normal" transform="rotate(-90 172.40 241.00)" stroke="#111" stroke-width="0.3" ><tspan font-style="italic">ρ</tspan><tspan font-size="8.5" dy="-1.8" dx="1.0">*</tspan></text>
<text x="60.30" y="220.80" font-size="8.9" text-anchor="start" fill="#111" font-weight="normal" font-style="normal" stroke="#111" stroke-width="0.3" >SR</text>
<line x1="74.6" y1="218.2" x2="92" y2="218.2" stroke="#da6fd8" stroke-width="1.3" stroke-dasharray="2.9,1.8"/>
<text x="99.70" y="220.80" font-size="8.9" text-anchor="start" fill="#111" font-weight="normal" font-style="normal" stroke="#111" stroke-width="0.3" >LR</text>
<line x1="113" y1="218.2" x2="131.7" y2="218.2" stroke="#da6fd8" stroke-width="1.6"/>
<text x="0.20" y="208.30" font-size="13.6" text-anchor="start" fill="#111" font-weight="bold" font-style="normal" >b</text>
<clipPath id="cc0"><rect x="384.60" y="57.60" width="65.30" height="66.00"/></clipPath>
<line x1="404.39" y1="57.60" x2="404.39" y2="123.60" stroke="#cfcfcf" stroke-width="0.7" stroke-dasharray="2,1.6"/>
<line x1="424.18" y1="57.60" x2="424.18" y2="123.60" stroke="#cfcfcf" stroke-width="0.7" stroke-dasharray="2,1.6"/>
<line x1="443.96" y1="57.60" x2="443.96" y2="123.60" stroke="#cfcfcf" stroke-width="0.7" stroke-dasharray="2,1.6"/>
<line x1="384.60" y1="98.80" x2="449.90" y2="98.80" stroke="#cfcfcf" stroke-width="0.7" stroke-dasharray="2,1.6"/>
<line x1="384.60" y1="77.40" x2="449.90" y2="77.40" stroke="#cfcfcf" stroke-width="0.7" stroke-dasharray="2,1.6"/>
<g clip-path="url(#cc0)">
<path d="M384.6,75.8 449.9,75.8" fill="none" stroke="#6baed6" stroke-width="1.5" stroke-linejoin="round" />
<path d="M384.6,75.1 449.9,75.1" fill="none" stroke="#4a98c9" stroke-width="1.5" stroke-linejoin="round" />
<path d="M384.6,74.4 449.9,74.4" fill="none" stroke="#2e7ebc" stroke-width="1.5" stroke-linejoin="round" />
<path d="M384.6,73.7 449.9,73.7" fill="none" stroke="#1764ab" stroke-width="1.5" stroke-linejoin="round" />
<path d="M384.6,73.0 449.9,73.0" fill="none" stroke="#084a92" stroke-width="1.5" stroke-linejoin="round" />
<path d="M384.6,120.9 449.9,120.9" fill="none" stroke="#a6cde4" stroke-width="1.1" stroke-linejoin="round" />
<path d="M384.6,120.5 449.9,120.5" fill="none" stroke="#73b2d8" stroke-width="1.1" stroke-linejoin="round" />
<path d="M384.6,120.1 449.9,120.1" fill="none" stroke="#4795c8" stroke-width="1.1" stroke-linejoin="round" />
</g>
<line x1="384.60" y1="57.60" x2="384.60" y2="61.10" stroke="#222" stroke-width="1.0"/>
<line x1="404.39" y1="57.60" x2="404.39" y2="61.10" stroke="#222" stroke-width="1.0"/>
<line x1="424.18" y1="57.60" x2="424.18" y2="61.10" stroke="#222" stroke-width="1.0"/>
<line x1="443.96" y1="57.60" x2="443.96" y2="61.10" stroke="#222" stroke-width="1.0"/>
<line x1="384.60" y1="120.20" x2="388.10" y2="120.20" stroke="#222" stroke-width="1.0"/>
<line x1="384.60" y1="98.80" x2="388.10" y2="98.80" stroke="#222" stroke-width="1.0"/>
<line x1="384.60" y1="77.40" x2="388.10" y2="77.40" stroke="#222" stroke-width="1.0"/>
<rect x="384.60" y="57.60" width="65.30" height="66.00" fill="none" stroke="#333" stroke-width="1.3"/>
<text x="384.60" y="51.10" font-size="14" text-anchor="middle" fill="#111" font-weight="normal" font-style="normal" stroke="#111" stroke-width="0.3" >0</text>
<text x="404.39" y="51.10" font-size="14" text-anchor="middle" fill="#111" font-weight="normal" font-style="normal" stroke="#111" stroke-width="0.3" >1</text>
<text x="424.18" y="51.10" font-size="14" text-anchor="middle" fill="#111" font-weight="normal" font-style="normal" stroke="#111" stroke-width="0.3" >2</text>
<text x="443.96" y="51.10" font-size="14" text-anchor="middle" fill="#111" font-weight="normal" font-style="normal" stroke="#111" stroke-width="0.3" >3</text>
<text x="414.65" y="38.10" font-size="14" text-anchor="middle" fill="#111" font-weight="normal" font-style="normal" stroke="#111" stroke-width="0.3" ><tspan font-style="italic">z</tspan>/<tspan font-style="italic">σ</tspan></text>
<g fill="#2b5fa5" stroke="#2b5fa5" stroke-width="0.3">
<text x="392.90" y="139.50" font-size="11.60" font-style="italic">E</text>
<text x="400.40" y="137.70" font-size="10.50">*</text>
<text x="399.40" y="141.50" font-size="8.60">max</text>
<text x="416.70" y="139.80" font-size="12.00">=</text>
<text x="426.30" y="139.50" font-size="11.60">0</text>
</g>
<clipPath id="cc1"><rect x="463.10" y="57.60" width="65.20" height="66.00"/></clipPath>
<line x1="482.86" y1="57.60" x2="482.86" y2="123.60" stroke="#cfcfcf" stroke-width="0.7" stroke-dasharray="2,1.6"/>
<line x1="502.62" y1="57.60" x2="502.62" y2="123.60" stroke="#cfcfcf" stroke-width="0.7" stroke-dasharray="2,1.6"/>
<line x1="522.37" y1="57.60" x2="522.37" y2="123.60" stroke="#cfcfcf" stroke-width="0.7" stroke-dasharray="2,1.6"/>
<line x1="463.10" y1="98.80" x2="528.30" y2="98.80" stroke="#cfcfcf" stroke-width="0.7" stroke-dasharray="2,1.6"/>
<line x1="463.10" y1="77.40" x2="528.30" y2="77.40" stroke="#cfcfcf" stroke-width="0.7" stroke-dasharray="2,1.6"/>
<g clip-path="url(#cc1)">
<path d="M463.1,120.8 463.3,120.8 463.4,120.8 463.6,120.8 463.8,120.8 463.9,120.8 464.1,120.8 464.2,120.8 464.4,120.8 464.6,120.8 464.7,120.8 464.9,120.8 465.1,120.8 465.2,120.8 465.4,120.8 465.6,120.8 465.7,120.7 465.9,120.7 466.0,120.7 466.2,120.6 466.4,120.6 466.5,120.5 466.7,120.4 466.9,120.4 467.0,120.3 467.2,120.2 467.3,120.1 467.5,119.9 467.7,119.8 467.8,119.7 468.0,119.5 468.2,119.4 468.3,119.2 468.5,119.1 468.7,118.9 468.8,118.7 469.0,118.6 469.1,118.4 469.3,118.2 469.5,118.1 469.6,117.9 469.8,117.8 470.0,117.6 470.1,117.5 470.3,117.4 470.5,117.3 470.6,117.2 470.8,117.2 470.9,117.1 471.1,117.1 471.3,117.1 471.4,117.1 471.6,117.1 471.8,117.2 471.9,117.2 472.1,117.3 472.3,117.4 472.4,117.5 472.6,117.7 472.7,117.8 472.9,117.9 473.1,118.1 473.2,118.3 473.4,118.4 473.6,118.6 473.7,118.8 473.9,118.9 474.0,119.1 474.2,119.3 474.4,119.4 474.5,119.6 474.7,119.7 474.9,119.8 475.0,120.0 475.2,120.1 475.4,120.2 475.5,120.3 475.7,120.4 475.8,120.5 476.0,120.5 476.2,120.6 476.3,120.6 476.5,120.7 476.7,120.7 476.8,120.7 477.0,120.8 477.2,120.8 477.3,120.8 477.5,120.8 477.6,120.8 477.8,120.8 478.0,120.8 478.1,120.8 478.3,120.8 478.5,120.8 478.6,120.8 478.8,120.8 479.0,120.8 479.1,120.8 479.3,120.8 479.4,120.8 479.6,120.8 479.8,120.8 479.9,120.8 480.1,120.8 480.3,120.8 480.4,120.8 480.6,120.8 480.7,120.8 480.9,120.8 481.1,120.8 481.2,120.8 481.4,120.8 481.6,120.8 481.7,120.8 481.9,120.8 482.1,120.7 482.2,120.7 482.4,120.7 482.5,120.6 482.7,120.6 482.9,120.5 483.0,120.4 483.2,120.3 483.4,120.2 483.5,120.1 483.7,120.0 483.9,119.9 484.0,119.8 484.2,119.6 484.3,119.5 484.5,119.3 484.7,119.2 484.8,119.0 485.0,118.8 485.2,118.7 485.3,118.5 485.5,118.3 485.7,118.2 485.8,118.0 486.0,117.9 486.1,117.7 486.3,117.6 486.5,117.5 486.6,117.4 486.8,117.3 487.0,117.2 487.1,117.2 487.3,117.1 487.4,117.1 487.6,117.1 487.8,117.1 487.9,117.1 488.1,117.2 488.3,117.3 488.4,117.4 488.6,117.5 488.8,117.6 488.9,117.7 489.1,117.8 489.2,118.0 489.4,118.1 489.6,118.3 489.7,118.5 489.9,118.6 490.1,118.8 490.2,119.0 490.4,119.1 490.6,119.3 490.7,119.5 490.9,119.6 491.0,119.7 491.2,119.9 491.4,120.0 491.5,120.1 491.7,120.2 491.9,120.3 492.0,120.4 492.2,120.5 492.4,120.5 492.5,120.6 492.7,120.7 492.8,120.7 493.0,120.7 493.2,120.8 493.3,120.8 493.5,120.8 493.7,120.8 493.8,120.8 494.0,120.8 494.1,120.8 494.3,120.8 494.5,120.8 494.6,120.8 494.8,120.8 495.0,120.8 495.1,120.8 495.3,120.8 495.5,120.8 495.6,120.8 495.8,120.8 495.9,120.8 496.1,120.8 496.3,120.8 496.4,120.8 496.6,120.8 496.8,120.8 496.9,120.8 497.1,120.8 497.3,120.8 497.4,120.8 497.6,120.8 497.7,120.8 497.9,120.8 498.1,120.8 498.2,120.8 498.4,120.7 498.6,120.7 498.7,120.7 498.9,120.6 499.0,120.5 499.2,120.5 499.4,120.4 499.5,120.3 499.7,120.2 499.9,120.1 500.0,120.0 500.2,119.9 500.4,119.7 500.5,119.6 500.7,119.5 500.8,119.3 501.0,119.1 501.2,119.0 501.3,118.8 501.5,118.6 501.7,118.5 501.8,118.3 502.0,118.1 502.2,118.0 502.3,117.8 502.5,117.7 502.6,117.6 502.8,117.5 503.0,117.4 503.1,117.3 503.3,117.2 503.5,117.1 503.6,117.1 503.8,117.1 504.0,117.1 504.1,117.1 504.3,117.2 504.4,117.2 504.6,117.3 504.8,117.4 504.9,117.5 505.1,117.6 505.3,117.7 505.4,117.9 505.6,118.0 505.7,118.2 505.9,118.3 506.1,118.5 506.2,118.7 506.4,118.8 506.6,119.0 506.7,119.2 506.9,119.3 507.1,119.5 507.2,119.6 507.4,119.8 507.5,119.9 507.7,120.0 507.9,120.1 508.0,120.2 508.2,120.3 508.4,120.4 508.5,120.5 508.7,120.6 508.9,120.6 509.0,120.7 509.2,120.7 509.3,120.7 509.5,120.8 509.7,120.8 509.8,120.8 510.0,120.8 510.2,120.8 510.3,120.8 510.5,120.8 510.7,120.8 510.8,120.8 511.0,120.8 511.1,120.8 511.3,120.8 511.5,120.8 511.6,120.8 511.8,120.8 512.0,120.8 512.1,120.8 512.3,120.8 512.4,120.8 512.6,120.8 512.8,120.8 512.9,120.8 513.1,120.8 513.3,120.8 513.4,120.8 513.6,120.8 513.8,120.8 513.9,120.8 514.1,120.8 514.2,120.8 514.4,120.8 514.6,120.7 514.7,120.7 514.9,120.7 515.1,120.6 515.2,120.6 515.4,120.5 515.6,120.5 515.7,120.4 515.9,120.3 516.0,120.2 516.2,120.1 516.4,120.0 516.5,119.8 516.7,119.7 516.9,119.6 517.0,119.4 517.2,119.3 517.4,119.1 517.5,118.9 517.7,118.8 517.8,118.6 518.0,118.4 518.2,118.3 518.3,118.1 518.5,117.9 518.7,117.8 518.8,117.7 519.0,117.5 519.1,117.4 519.3,117.3 519.5,117.2 519.6,117.2 519.8,117.1 520.0,117.1 520.1,117.1 520.3,117.1 520.5,117.1 520.6,117.2 520.8,117.2 520.9,117.3 521.1,117.4 521.3,117.5 521.4,117.6 521.6,117.8 521.8,117.9 521.9,118.1 522.1,118.2 522.3,118.4 522.4,118.6 522.6,118.7 522.7,118.9 522.9,119.1 523.1,119.2 523.2,119.4 523.4,119.5 523.6,119.7 523.7,119.8 523.9,119.9 524.1,120.1 524.2,120.2 524.4,120.3 524.5,120.4 524.7,120.4 524.9,120.5 525.0,120.6 525.2,120.6 525.4,120.7 525.5,120.7 525.7,120.7 525.8,120.8 526.0,120.8 526.2,120.8 526.3,120.8 526.5,120.8 526.7,120.8 526.8,120.8 527.0,120.8 527.2,120.8 527.3,120.8 527.5,120.8 527.6,120.8 527.8,120.8 528.0,120.8 528.1,120.8 528.3,120.8" fill="none" stroke="#a6cde4" stroke-width="1.2" stroke-linejoin="round" />
<path d="M463.1,120.4 463.3,120.4 463.4,120.4 463.6,120.4 463.8,120.4 463.9,120.4 464.1,120.4 464.2,120.4 464.4,120.4 464.6,120.4 464.7,120.4 464.9,120.4 465.1,120.4 465.2,120.4 465.4,120.4 465.6,120.3 465.7,120.3 465.9,120.3 466.0,120.2 466.2,120.2 466.4,120.1 466.5,120.1 466.7,120.0 466.9,119.9 467.0,119.8 467.2,119.7 467.3,119.6 467.5,119.5 467.7,119.3 467.8,119.2 468.0,119.0 468.2,118.9 468.3,118.7 468.5,118.5 468.7,118.4 468.8,118.2 469.0,118.0 469.1,117.8 469.3,117.6 469.5,117.5 469.6,117.3 469.8,117.2 470.0,117.0 470.1,116.9 470.3,116.8 470.5,116.7 470.6,116.6 470.8,116.5 470.9,116.5 471.1,116.5 471.3,116.5 471.4,116.5 471.6,116.5 471.8,116.5 471.9,116.6 472.1,116.7 472.3,116.8 472.4,116.9 472.6,117.1 472.7,117.2 472.9,117.4 473.1,117.5 473.2,117.7 473.4,117.9 473.6,118.0 473.7,118.2 473.9,118.4 474.0,118.6 474.2,118.7 474.4,118.9 474.5,119.1 474.7,119.2 474.9,119.4 475.0,119.5 475.2,119.6 475.4,119.7 475.5,119.8 475.7,119.9 475.8,120.0 476.0,120.1 476.2,120.1 476.3,120.2 476.5,120.2 476.7,120.3 476.8,120.3 477.0,120.3 477.2,120.4 477.3,120.4 477.5,120.4 477.6,120.4 477.8,120.4 478.0,120.4 478.1,120.4 478.3,120.4 478.5,120.4 478.6,120.4 478.8,120.4 479.0,120.4 479.1,120.4 479.3,120.4 479.4,120.4 479.6,120.4 479.8,120.4 479.9,120.4 480.1,120.4 480.3,120.4 480.4,120.4 480.6,120.4 480.7,120.4 480.9,120.4 481.1,120.4 481.2,120.4 481.4,120.4 481.6,120.4 481.7,120.4 481.9,120.3 482.1,120.3 482.2,120.3 482.4,120.2 482.5,120.2 482.7,120.1 482.9,120.0 483.0,120.0 483.2,119.9 483.4,119.8 483.5,119.7 483.7,119.6 483.9,119.4 484.0,119.3 484.2,119.1 484.3,119.0 484.5,118.8 484.7,118.7 484.8,118.5 485.0,118.3 485.2,118.1 485.3,117.9 485.5,117.8 485.7,117.6 485.8,117.4 486.0,117.3 486.1,117.1 486.3,117.0 486.5,116.9 486.6,116.8 486.8,116.7 487.0,116.6 487.1,116.5 487.3,116.5 487.4,116.5 487.6,116.5 487.8,116.5 487.9,116.5 488.1,116.6 488.3,116.6 488.4,116.7 488.6,116.8 488.8,117.0 488.9,117.1 489.1,117.2 489.2,117.4 489.4,117.6 489.6,117.7 489.7,117.9 489.9,118.1 490.1,118.3 490.2,118.4 490.4,118.6 490.6,118.8 490.7,118.9 490.9,119.1 491.0,119.3 491.2,119.4 491.4,119.5 491.5,119.6 491.7,119.8 491.9,119.9 492.0,119.9 492.2,120.0 492.4,120.1 492.5,120.2 492.7,120.2 492.8,120.3 493.0,120.3 493.2,120.3 493.3,120.3 493.5,120.4 493.7,120.4 493.8,120.4 494.0,120.4 494.1,120.4 494.3,120.4 494.5,120.4 494.6,120.4 494.8,120.4 495.0,120.4 495.1,120.4 495.3,120.4 495.5,120.4 495.6,120.4 495.8,120.4 495.9,120.4 496.1,120.4 496.3,120.4 496.4,120.4 496.6,120.4 496.8,120.4 496.9,120.4 497.1,120.4 497.3,120.4 497.4,120.4 497.6,120.4 497.7,120.4 497.9,120.4 498.1,120.3 498.2,120.3 498.4,120.3 498.6,120.3 498.7,120.2 498.9,120.2 499.0,120.1 499.2,120.0 499.4,119.9 499.5,119.9 499.7,119.8 499.9,119.6 500.0,119.5 500.2,119.4 500.4,119.3 500.5,119.1 500.7,118.9 500.8,118.8 501.0,118.6 501.2,118.4 501.3,118.3 501.5,118.1 501.7,117.9 501.8,117.7 502.0,117.6 502.2,117.4 502.3,117.2 502.5,117.1 502.6,117.0 502.8,116.8 503.0,116.7 503.1,116.6 503.3,116.6 503.5,116.5 503.6,116.5 503.8,116.5 504.0,116.5 504.1,116.5 504.3,116.5 504.4,116.6 504.6,116.7 504.8,116.8 504.9,116.9 505.1,117.0 505.3,117.1 505.4,117.3 505.6,117.4 505.7,117.6 505.9,117.8 506.1,117.9 506.2,118.1 506.4,118.3 506.6,118.5 506.7,118.7 506.9,118.8 507.1,119.0 507.2,119.1 507.4,119.3 507.5,119.4 507.7,119.6 507.9,119.7 508.0,119.8 508.2,119.9 508.4,120.0 508.5,120.0 508.7,120.1 508.9,120.2 509.0,120.2 509.2,120.3 509.3,120.3 509.5,120.3 509.7,120.4 509.8,120.4 510.0,120.4 510.2,120.4 510.3,120.4 510.5,120.4 510.7,120.4 510.8,120.4 511.0,120.4 511.1,120.4 511.3,120.4 511.5,120.4 511.6,120.4 511.8,120.4 512.0,120.4 512.1,120.4 512.3,120.4 512.4,120.4 512.6,120.4 512.8,120.4 512.9,120.4 513.1,120.4 513.3,120.4 513.4,120.4 513.6,120.4 513.8,120.4 513.9,120.4 514.1,120.4 514.2,120.4 514.4,120.3 514.6,120.3 514.7,120.3 514.9,120.2 515.1,120.2 515.2,120.1 515.4,120.1 515.6,120.0 515.7,119.9 515.9,119.8 516.0,119.7 516.2,119.6 516.4,119.5 516.5,119.4 516.7,119.2 516.9,119.1 517.0,118.9 517.2,118.7 517.4,118.6 517.5,118.4 517.7,118.2 517.8,118.0 518.0,117.9 518.2,117.7 518.3,117.5 518.5,117.4 518.7,117.2 518.8,117.1 519.0,116.9 519.1,116.8 519.3,116.7 519.5,116.6 519.6,116.5 519.8,116.5 520.0,116.5 520.1,116.5 520.3,116.5 520.5,116.5 520.6,116.5 520.8,116.6 520.9,116.7 521.1,116.8 521.3,116.9 521.4,117.0 521.6,117.2 521.8,117.3 521.9,117.5 522.1,117.6 522.3,117.8 522.4,118.0 522.6,118.2 522.7,118.4 522.9,118.5 523.1,118.7 523.2,118.9 523.4,119.0 523.6,119.2 523.7,119.3 523.9,119.5 524.1,119.6 524.2,119.7 524.4,119.8 524.5,119.9 524.7,120.0 524.9,120.1 525.0,120.1 525.2,120.2 525.4,120.2 525.5,120.3 525.7,120.3 525.8,120.3 526.0,120.4 526.2,120.4 526.3,120.4 526.5,120.4 526.7,120.4 526.8,120.4 527.0,120.4 527.2,120.4 527.3,120.4 527.5,120.4 527.6,120.4 527.8,120.4 528.0,120.4 528.1,120.4 528.3,120.4" fill="none" stroke="#77b5d9" stroke-width="1.2" stroke-linejoin="round" />
<path d="M463.1,120.0 463.3,120.0 463.4,120.0 463.6,120.0 463.8,120.0 463.9,120.0 464.1,120.0 464.2,120.0 464.4,120.0 464.6,120.0 464.7,120.0 464.9,120.0 465.1,120.0 465.2,119.9 465.4,119.9 465.6,119.9 465.7,119.9 465.9,119.8 466.0,119.8 466.2,119.7 466.4,119.7 466.5,119.6 466.7,119.5 466.9,119.4 467.0,119.3 467.2,119.2 467.3,119.1 467.5,119.0 467.7,118.8 467.8,118.7 468.0,118.5 468.2,118.4 468.3,118.2 468.5,118.0 468.7,117.8 468.8,117.6 469.0,117.4 469.1,117.2 469.3,117.1 469.5,116.9 469.6,116.7 469.8,116.6 470.0,116.4 470.1,116.3 470.3,116.2 470.5,116.0 470.6,116.0 470.8,115.9 470.9,115.8 471.1,115.8 471.3,115.8 471.4,115.8 471.6,115.9 471.8,115.9 471.9,116.0 472.1,116.1 472.3,116.2 472.4,116.3 472.6,116.4 472.7,116.6 472.9,116.8 473.1,116.9 473.2,117.1 473.4,117.3 473.6,117.5 473.7,117.7 473.9,117.9 474.0,118.0 474.2,118.2 474.4,118.4 474.5,118.6 474.7,118.7 474.9,118.9 475.0,119.0 475.2,119.1 475.4,119.3 475.5,119.4 475.7,119.5 475.8,119.6 476.0,119.6 476.2,119.7 476.3,119.8 476.5,119.8 476.7,119.8 476.8,119.9 477.0,119.9 477.2,119.9 477.3,119.9 477.5,120.0 477.6,120.0 477.8,120.0 478.0,120.0 478.1,120.0 478.3,120.0 478.5,120.0 478.6,120.0 478.8,120.0 479.0,120.0 479.1,120.0 479.3,120.0 479.4,120.0 479.6,120.0 479.8,120.0 479.9,120.0 480.1,120.0 480.3,120.0 480.4,120.0 480.6,120.0 480.7,120.0 480.9,120.0 481.1,120.0 481.2,120.0 481.4,120.0 481.6,119.9 481.7,119.9 481.9,119.9 482.1,119.9 482.2,119.8 482.4,119.8 482.5,119.7 482.7,119.7 482.9,119.6 483.0,119.5 483.2,119.4 483.4,119.3 483.5,119.2 483.7,119.1 483.9,118.9 484.0,118.8 484.2,118.6 484.3,118.5 484.5,118.3 484.7,118.1 484.8,118.0 485.0,117.8 485.2,117.6 485.3,117.4 485.5,117.2 485.7,117.0 485.8,116.8 486.0,116.7 486.1,116.5 486.3,116.4 486.5,116.2 486.6,116.1 486.8,116.0 487.0,115.9 487.1,115.9 487.3,115.8 487.4,115.8 487.6,115.8 487.8,115.8 487.9,115.9 488.1,115.9 488.3,116.0 488.4,116.1 488.6,116.2 488.8,116.3 488.9,116.5 489.1,116.6 489.2,116.8 489.4,117.0 489.6,117.2 489.7,117.3 489.9,117.5 490.1,117.7 490.2,117.9 490.4,118.1 490.6,118.3 490.7,118.4 490.9,118.6 491.0,118.8 491.2,118.9 491.4,119.1 491.5,119.2 491.7,119.3 491.9,119.4 492.0,119.5 492.2,119.6 492.4,119.7 492.5,119.7 492.7,119.8 492.8,119.8 493.0,119.9 493.2,119.9 493.3,119.9 493.5,119.9 493.7,119.9 493.8,120.0 494.0,120.0 494.1,120.0 494.3,120.0 494.5,120.0 494.6,120.0 494.8,120.0 495.0,120.0 495.1,120.0 495.3,120.0 495.5,120.0 495.6,120.0 495.8,120.0 495.9,120.0 496.1,120.0 496.3,120.0 496.4,120.0 496.6,120.0 496.8,120.0 496.9,120.0 497.1,120.0 497.3,120.0 497.4,120.0 497.6,120.0 497.7,119.9 497.9,119.9 498.1,119.9 498.2,119.9 498.4,119.9 498.6,119.8 498.7,119.8 498.9,119.7 499.0,119.7 499.2,119.6 499.4,119.5 499.5,119.4 499.7,119.3 499.9,119.2 500.0,119.1 500.2,118.9 500.4,118.8 500.5,118.6 500.7,118.4 500.8,118.3 501.0,118.1 501.2,117.9 501.3,117.7 501.5,117.5 501.7,117.3 501.8,117.2 502.0,117.0 502.2,116.8 502.3,116.6 502.5,116.5 502.6,116.3 502.8,116.2 503.0,116.1 503.1,116.0 503.3,115.9 503.5,115.9 503.6,115.8 503.8,115.8 504.0,115.8 504.1,115.8 504.3,115.9 504.4,115.9 504.6,116.0 504.8,116.1 504.9,116.2 505.1,116.4 505.3,116.5 505.4,116.7 505.6,116.8 505.7,117.0 505.9,117.2 506.1,117.4 506.2,117.6 506.4,117.8 506.6,118.0 506.7,118.1 506.9,118.3 507.1,118.5 507.2,118.6 507.4,118.8 507.5,118.9 507.7,119.1 507.9,119.2 508.0,119.3 508.2,119.4 508.4,119.5 508.5,119.6 508.7,119.7 508.9,119.7 509.0,119.8 509.2,119.8 509.3,119.9 509.5,119.9 509.7,119.9 509.8,119.9 510.0,120.0 510.2,120.0 510.3,120.0 510.5,120.0 510.7,120.0 510.8,120.0 511.0,120.0 511.1,120.0 511.3,120.0 511.5,120.0 511.6,120.0 511.8,120.0 512.0,120.0 512.1,120.0 512.3,120.0 512.4,120.0 512.6,120.0 512.8,120.0 512.9,120.0 513.1,120.0 513.3,120.0 513.4,120.0 513.6,120.0 513.8,120.0 513.9,120.0 514.1,119.9 514.2,119.9 514.4,119.9 514.6,119.9 514.7,119.8 514.9,119.8 515.1,119.8 515.2,119.7 515.4,119.6 515.6,119.6 515.7,119.5 515.9,119.4 516.0,119.3 516.2,119.1 516.4,119.0 516.5,118.9 516.7,118.7 516.9,118.6 517.0,118.4 517.2,118.2 517.4,118.0 517.5,117.9 517.7,117.7 517.8,117.5 518.0,117.3 518.2,117.1 518.3,116.9 518.5,116.8 518.7,116.6 518.8,116.4 519.0,116.3 519.1,116.2 519.3,116.1 519.5,116.0 519.6,115.9 519.8,115.9 520.0,115.8 520.1,115.8 520.3,115.8 520.5,115.8 520.6,115.9 520.8,116.0 520.9,116.0 521.1,116.2 521.3,116.3 521.4,116.4 521.6,116.6 521.8,116.7 521.9,116.9 522.1,117.1 522.3,117.2 522.4,117.4 522.6,117.6 522.7,117.8 522.9,118.0 523.1,118.2 523.2,118.4 523.4,118.5 523.6,118.7 523.7,118.8 523.9,119.0 524.1,119.1 524.2,119.2 524.4,119.3 524.5,119.4 524.7,119.5 524.9,119.6 525.0,119.7 525.2,119.7 525.4,119.8 525.5,119.8 525.7,119.9 525.8,119.9 526.0,119.9 526.2,119.9 526.3,120.0 526.5,120.0 526.7,120.0 526.8,120.0 527.0,120.0 527.2,120.0 527.3,120.0 527.5,120.0 527.6,120.0 527.8,120.0 528.0,120.0 528.1,120.0 528.3,120.0" fill="none" stroke="#4d9aca" stroke-width="1.2" stroke-linejoin="round" />
<path d="M463.1,119.6 463.3,119.6 463.4,119.6 463.6,119.6 463.8,119.6 463.9,119.6 464.1,119.6 464.2,119.6 464.4,119.6 464.6,119.5 464.7,119.5 464.9,119.5 465.1,119.5 465.2,119.5 465.4,119.5 465.6,119.5 465.7,119.4 465.9,119.4 466.0,119.4 466.2,119.3 466.4,119.2 466.5,119.2 466.7,119.1 466.9,119.0 467.0,118.9 467.2,118.8 467.3,118.6 467.5,118.5 467.7,118.4 467.8,118.2 468.0,118.0 468.2,117.8 468.3,117.7 468.5,117.5 468.7,117.3 468.8,117.1 469.0,116.9 469.1,116.7 469.3,116.5 469.5,116.3 469.6,116.1 469.8,116.0 470.0,115.8 470.1,115.7 470.3,115.5 470.5,115.4 470.6,115.3 470.8,115.3 470.9,115.2 471.1,115.2 471.3,115.2 471.4,115.2 471.6,115.2 471.8,115.3 471.9,115.3 472.1,115.4 472.3,115.6 472.4,115.7 472.6,115.8 472.7,116.0 472.9,116.2 473.1,116.3 473.2,116.5 473.4,116.7 473.6,116.9 473.7,117.1 473.9,117.3 474.0,117.5 474.2,117.7 474.4,117.9 474.5,118.1 474.7,118.2 474.9,118.4 475.0,118.5 475.2,118.7 475.4,118.8 475.5,118.9 475.7,119.0 475.8,119.1 476.0,119.2 476.2,119.3 476.3,119.3 476.5,119.4 476.7,119.4 476.8,119.4 477.0,119.5 477.2,119.5 477.3,119.5 477.5,119.5 477.6,119.5 477.8,119.5 478.0,119.5 478.1,119.6 478.3,119.6 478.5,119.6 478.6,119.6 478.8,119.6 479.0,119.6 479.1,119.6 479.3,119.6 479.4,119.6 479.6,119.6 479.8,119.6 479.9,119.6 480.1,119.6 480.3,119.6 480.4,119.6 480.6,119.6 480.7,119.6 480.9,119.5 481.1,119.5 481.2,119.5 481.4,119.5 481.6,119.5 481.7,119.5 481.9,119.5 482.1,119.4 482.2,119.4 482.4,119.3 482.5,119.3 482.7,119.2 482.9,119.2 483.0,119.1 483.2,119.0 483.4,118.9 483.5,118.7 483.7,118.6 483.9,118.5 484.0,118.3 484.2,118.2 484.3,118.0 484.5,117.8 484.7,117.6 484.8,117.4 485.0,117.2 485.2,117.0 485.3,116.8 485.5,116.6 485.7,116.4 485.8,116.3 486.0,116.1 486.1,115.9 486.3,115.8 486.5,115.6 486.6,115.5 486.8,115.4 487.0,115.3 487.1,115.2 487.3,115.2 487.4,115.2 487.6,115.2 487.8,115.2 487.9,115.2 488.1,115.3 488.3,115.4 488.4,115.5 488.6,115.6 488.8,115.7 488.9,115.9 489.1,116.0 489.2,116.2 489.4,116.4 489.6,116.6 489.7,116.8 489.9,117.0 490.1,117.2 490.2,117.4 490.4,117.6 490.6,117.8 490.7,117.9 490.9,118.1 491.0,118.3 491.2,118.4 491.4,118.6 491.5,118.7 491.7,118.8 491.9,118.9 492.0,119.0 492.2,119.1 492.4,119.2 492.5,119.3 492.7,119.3 492.8,119.4 493.0,119.4 493.2,119.5 493.3,119.5 493.5,119.5 493.7,119.5 493.8,119.5 494.0,119.5 494.1,119.5 494.3,119.5 494.5,119.6 494.6,119.6 494.8,119.6 495.0,119.6 495.1,119.6 495.3,119.6 495.5,119.6 495.6,119.6 495.8,119.6 495.9,119.6 496.1,119.6 496.3,119.6 496.4,119.6 496.6,119.6 496.8,119.6 496.9,119.6 497.1,119.5 497.3,119.5 497.4,119.5 497.6,119.5 497.7,119.5 497.9,119.5 498.1,119.5 498.2,119.5 498.4,119.4 498.6,119.4 498.7,119.3 498.9,119.3 499.0,119.2 499.2,119.1 499.4,119.0 499.5,118.9 499.7,118.8 499.9,118.7 500.0,118.6 500.2,118.4 500.4,118.3 500.5,118.1 500.7,117.9 500.8,117.8 501.0,117.6 501.2,117.4 501.3,117.2 501.5,117.0 501.7,116.8 501.8,116.6 502.0,116.4 502.2,116.2 502.3,116.0 502.5,115.9 502.6,115.7 502.8,115.6 503.0,115.5 503.1,115.4 503.3,115.3 503.5,115.2 503.6,115.2 503.8,115.2 504.0,115.2 504.1,115.2 504.3,115.2 504.4,115.3 504.6,115.4 504.8,115.5 504.9,115.6 505.1,115.8 505.3,115.9 505.4,116.1 505.6,116.3 505.7,116.4 505.9,116.6 506.1,116.8 506.2,117.0 506.4,117.2 506.6,117.4 506.7,117.6 506.9,117.8 507.1,118.0 507.2,118.2 507.4,118.3 507.5,118.5 507.7,118.6 507.9,118.7 508.0,118.9 508.2,119.0 508.4,119.1 508.5,119.2 508.7,119.2 508.9,119.3 509.0,119.3 509.2,119.4 509.3,119.4 509.5,119.5 509.7,119.5 509.8,119.5 510.0,119.5 510.2,119.5 510.3,119.5 510.5,119.5 510.7,119.6 510.8,119.6 511.0,119.6 511.1,119.6 511.3,119.6 511.5,119.6 511.6,119.6 511.8,119.6 512.0,119.6 512.1,119.6 512.3,119.6 512.4,119.6 512.6,119.6 512.8,119.6 512.9,119.6 513.1,119.6 513.3,119.6 513.4,119.5 513.6,119.5 513.8,119.5 513.9,119.5 514.1,119.5 514.2,119.5 514.4,119.5 514.6,119.4 514.7,119.4 514.9,119.4 515.1,119.3 515.2,119.3 515.4,119.2 515.6,119.1 515.7,119.0 515.9,118.9 516.0,118.8 516.2,118.7 516.4,118.5 516.5,118.4 516.7,118.2 516.9,118.1 517.0,117.9 517.2,117.7 517.4,117.5 517.5,117.3 517.7,117.1 517.8,116.9 518.0,116.7 518.2,116.5 518.3,116.3 518.5,116.2 518.7,116.0 518.8,115.8 519.0,115.7 519.1,115.6 519.3,115.4 519.5,115.3 519.6,115.3 519.8,115.2 520.0,115.2 520.1,115.2 520.3,115.2 520.5,115.2 520.6,115.3 520.8,115.3 520.9,115.4 521.1,115.5 521.3,115.7 521.4,115.8 521.6,116.0 521.8,116.1 521.9,116.3 522.1,116.5 522.3,116.7 522.4,116.9 522.6,117.1 522.7,117.3 522.9,117.5 523.1,117.7 523.2,117.8 523.4,118.0 523.6,118.2 523.7,118.4 523.9,118.5 524.1,118.6 524.2,118.8 524.4,118.9 524.5,119.0 524.7,119.1 524.9,119.2 525.0,119.2 525.2,119.3 525.4,119.4 525.5,119.4 525.7,119.4 525.8,119.5 526.0,119.5 526.2,119.5 526.3,119.5 526.5,119.5 526.7,119.5 526.8,119.5 527.0,119.6 527.2,119.6 527.3,119.6 527.5,119.6 527.6,119.6 527.8,119.6 528.0,119.6 528.1,119.6 528.3,119.6" fill="none" stroke="#2c7cba" stroke-width="1.2" stroke-linejoin="round" />
<path d="M463.1,86.6 463.3,86.6 463.4,86.5 463.6,86.3 463.8,86.1 463.9,85.8 464.1,85.5 464.2,85.1 464.4,84.7 464.6,84.3 464.7,83.9 464.9,83.4 465.1,82.9 465.2,82.4 465.4,81.9 465.6,81.3 465.7,80.8 465.9,80.3 466.0,79.7 466.2,79.2 466.4,78.6 466.5,78.1 466.7,77.6 466.9,77.0 467.0,76.5 467.2,75.9 467.3,75.4 467.5,74.9 467.7,74.3 467.8,73.8 468.0,73.2 468.2,72.7 468.3,72.2 468.5,71.6 468.7,71.1 468.8,70.6 469.0,70.0 469.1,69.5 469.3,69.0 469.5,68.5 469.6,68.0 469.8,67.6 470.0,67.2 470.1,66.8 470.3,66.4 470.5,66.1 470.6,65.8 470.8,65.6 470.9,65.5 471.1,65.4 471.3,65.4 471.4,65.4 471.6,65.5 471.8,65.7 471.9,65.9 472.1,66.2 472.3,66.5 472.4,66.9 472.6,67.3 472.7,67.7 472.9,68.2 473.1,68.6 473.2,69.1 473.4,69.7 473.6,70.2 473.7,70.7 473.9,71.2 474.0,71.8 474.2,72.3 474.4,72.8 474.5,73.4 474.7,73.9 474.9,74.5 475.0,75.0 475.2,75.5 475.4,76.1 475.5,76.6 475.7,77.2 475.8,77.7 476.0,78.2 476.2,78.8 476.3,79.3 476.5,79.9 476.7,80.4 476.8,80.9 477.0,81.5 477.2,82.0 477.3,82.5 477.5,83.0 477.6,83.5 477.8,84.0 478.0,84.4 478.1,84.8 478.3,85.2 478.5,85.6 478.6,85.9 478.8,86.2 479.0,86.4 479.1,86.5 479.3,86.6 479.4,86.6 479.6,86.5 479.8,86.4 479.9,86.3 480.1,86.0 480.3,85.7 480.4,85.4 480.6,85.0 480.7,84.6 480.9,84.2 481.1,83.7 481.2,83.2 481.4,82.8 481.6,82.2 481.7,81.7 481.9,81.2 482.1,80.7 482.2,80.1 482.4,79.6 482.5,79.1 482.7,78.5 482.9,78.0 483.0,77.4 483.2,76.9 483.4,76.4 483.5,75.8 483.7,75.3 483.9,74.7 484.0,74.2 484.2,73.6 484.3,73.1 484.5,72.6 484.7,72.0 484.8,71.5 485.0,71.0 485.2,70.4 485.3,69.9 485.5,69.4 485.7,68.9 485.8,68.4 486.0,67.9 486.1,67.5 486.3,67.1 486.5,66.7 486.6,66.3 486.8,66.0 487.0,65.8 487.1,65.6 487.3,65.4 487.4,65.4 487.6,65.4 487.8,65.4 487.9,65.5 488.1,65.7 488.3,66.0 488.4,66.2 488.6,66.6 488.8,67.0 488.9,67.4 489.1,67.8 489.2,68.3 489.4,68.8 489.6,69.3 489.7,69.8 489.9,70.3 490.1,70.8 490.2,71.4 490.4,71.9 490.6,72.4 490.7,73.0 490.9,73.5 491.0,74.1 491.2,74.6 491.4,75.1 491.5,75.7 491.7,76.2 491.9,76.8 492.0,77.3 492.2,77.8 492.4,78.4 492.5,78.9 492.7,79.5 492.8,80.0 493.0,80.5 493.2,81.1 493.3,81.6 493.5,82.1 493.7,82.6 493.8,83.1 494.0,83.6 494.1,84.1 494.3,84.5 494.5,84.9 494.6,85.3 494.8,85.7 495.0,86.0 495.1,86.2 495.3,86.4 495.5,86.5 495.6,86.6 495.8,86.6 495.9,86.5 496.1,86.4 496.3,86.2 496.4,86.0 496.6,85.7 496.8,85.3 496.9,84.9 497.1,84.5 497.3,84.1 497.4,83.6 497.6,83.1 497.7,82.6 497.9,82.1 498.1,81.6 498.2,81.1 498.4,80.5 498.6,80.0 498.7,79.5 498.9,78.9 499.0,78.4 499.2,77.8 499.4,77.3 499.5,76.8 499.7,76.2 499.9,75.7 500.0,75.1 500.2,74.6 500.4,74.1 500.5,73.5 500.7,73.0 500.8,72.4 501.0,71.9 501.2,71.4 501.3,70.8 501.5,70.3 501.7,69.8 501.8,69.3 502.0,68.8 502.2,68.3 502.3,67.8 502.5,67.4 502.6,67.0 502.8,66.6 503.0,66.2 503.1,66.0 503.3,65.7 503.5,65.5 503.6,65.4 503.8,65.4 504.0,65.4 504.1,65.4 504.3,65.6 504.4,65.8 504.6,66.0 504.8,66.3 504.9,66.7 505.1,67.1 505.3,67.5 505.4,67.9 505.6,68.4 505.7,68.9 505.9,69.4 506.1,69.9 506.2,70.4 506.4,71.0 506.6,71.5 506.7,72.0 506.9,72.6 507.1,73.1 507.2,73.6 507.4,74.2 507.5,74.7 507.7,75.3 507.9,75.8 508.0,76.4 508.2,76.9 508.4,77.4 508.5,78.0 508.7,78.5 508.9,79.1 509.0,79.6 509.2,80.1 509.3,80.7 509.5,81.2 509.7,81.7 509.8,82.2 510.0,82.8 510.2,83.2 510.3,83.7 510.5,84.2 510.7,84.6 510.8,85.0 511.0,85.4 511.1,85.7 511.3,86.0 511.5,86.3 511.6,86.4 511.8,86.5 512.0,86.6 512.1,86.6 512.3,86.5 512.4,86.4 512.6,86.2 512.8,85.9 512.9,85.6 513.1,85.2 513.3,84.8 513.4,84.4 513.6,84.0 513.8,83.5 513.9,83.0 514.1,82.5 514.2,82.0 514.4,81.5 514.6,80.9 514.7,80.4 514.9,79.9 515.1,79.3 515.2,78.8 515.4,78.2 515.6,77.7 515.7,77.2 515.9,76.6 516.0,76.1 516.2,75.5 516.4,75.0 516.5,74.5 516.7,73.9 516.9,73.4 517.0,72.8 517.2,72.3 517.4,71.8 517.5,71.2 517.7,70.7 517.8,70.2 518.0,69.7 518.2,69.1 518.3,68.6 518.5,68.2 518.7,67.7 518.8,67.3 519.0,66.9 519.1,66.5 519.3,66.2 519.5,65.9 519.6,65.7 519.8,65.5 520.0,65.4 520.1,65.4 520.3,65.4 520.5,65.5 520.6,65.6 520.8,65.8 520.9,66.1 521.1,66.4 521.3,66.8 521.4,67.2 521.6,67.6 521.8,68.0 521.9,68.5 522.1,69.0 522.3,69.5 522.4,70.0 522.6,70.6 522.7,71.1 522.9,71.6 523.1,72.2 523.2,72.7 523.4,73.2 523.6,73.8 523.7,74.3 523.9,74.9 524.1,75.4 524.2,75.9 524.4,76.5 524.5,77.0 524.7,77.6 524.9,78.1 525.0,78.6 525.2,79.2 525.4,79.7 525.5,80.3 525.7,80.8 525.8,81.3 526.0,81.9 526.2,82.4 526.3,82.9 526.5,83.4 526.7,83.9 526.8,84.3 527.0,84.7 527.2,85.1 527.3,85.5 527.5,85.8 527.6,86.1 527.8,86.3 528.0,86.5 528.1,86.6 528.3,86.6" fill="none" stroke="#2979b9" stroke-width="1.35" stroke-linejoin="round" />
<path d="M463.1,85.2 463.3,85.1 463.4,85.0 463.6,84.9 463.8,84.6 463.9,84.4 464.1,84.1 464.2,83.7 464.4,83.3 464.6,82.9 464.7,82.4 464.9,81.9 465.1,81.4 465.2,80.9 465.4,80.4 465.6,79.9 465.7,79.4 465.9,78.8 466.0,78.3 466.2,77.7 466.4,77.2 466.5,76.7 466.7,76.1 466.9,75.6 467.0,75.0 467.2,74.5 467.3,74.0 467.5,73.4 467.7,72.9 467.8,72.3 468.0,71.8 468.2,71.3 468.3,70.7 468.5,70.2 468.7,69.7 468.8,69.1 469.0,68.6 469.1,68.1 469.3,67.6 469.5,67.1 469.6,66.6 469.8,66.1 470.0,65.7 470.1,65.3 470.3,65.0 470.5,64.7 470.6,64.4 470.8,64.2 470.9,64.0 471.1,63.9 471.3,63.9 471.4,64.0 471.6,64.1 471.8,64.2 471.9,64.4 472.1,64.7 472.3,65.1 472.4,65.4 472.6,65.8 472.7,66.3 472.9,66.7 473.1,67.2 473.2,67.7 473.4,68.2 473.6,68.7 473.7,69.3 473.9,69.8 474.0,70.3 474.2,70.9 474.4,71.4 474.5,71.9 474.7,72.5 474.9,73.0 475.0,73.6 475.2,74.1 475.4,74.6 475.5,75.2 475.7,75.7 475.8,76.3 476.0,76.8 476.2,77.3 476.3,77.9 476.5,78.4 476.7,79.0 476.8,79.5 477.0,80.0 477.2,80.5 477.3,81.1 477.5,81.6 477.6,82.0 477.8,82.5 478.0,83.0 478.1,83.4 478.3,83.8 478.5,84.1 478.6,84.4 478.8,84.7 479.0,84.9 479.1,85.1 479.3,85.1 479.4,85.2 479.6,85.1 479.8,85.0 479.9,84.8 480.1,84.6 480.3,84.3 480.4,84.0 480.6,83.6 480.7,83.2 480.9,82.8 481.1,82.3 481.2,81.8 481.4,81.3 481.6,80.8 481.7,80.3 481.9,79.7 482.1,79.2 482.2,78.7 482.4,78.1 482.5,77.6 482.7,77.1 482.9,76.5 483.0,76.0 483.2,75.4 483.4,74.9 483.5,74.4 483.7,73.8 483.9,73.3 484.0,72.7 484.2,72.2 484.3,71.7 484.5,71.1 484.7,70.6 484.8,70.1 485.0,69.5 485.2,69.0 485.3,68.5 485.5,68.0 485.7,67.4 485.8,67.0 486.0,66.5 486.1,66.0 486.3,65.6 486.5,65.2 486.6,64.9 486.8,64.6 487.0,64.3 487.1,64.1 487.3,64.0 487.4,63.9 487.6,63.9 487.8,64.0 487.9,64.1 488.1,64.3 488.3,64.5 488.4,64.8 488.6,65.1 488.8,65.5 488.9,65.9 489.1,66.4 489.2,66.8 489.4,67.3 489.6,67.8 489.7,68.3 489.9,68.9 490.1,69.4 490.2,69.9 490.4,70.5 490.6,71.0 490.7,71.5 490.9,72.1 491.0,72.6 491.2,73.1 491.4,73.7 491.5,74.2 491.7,74.8 491.9,75.3 492.0,75.9 492.2,76.4 492.4,76.9 492.5,77.5 492.7,78.0 492.8,78.5 493.0,79.1 493.2,79.6 493.3,80.1 493.5,80.7 493.7,81.2 493.8,81.7 494.0,82.2 494.1,82.6 494.3,83.1 494.5,83.5 494.6,83.9 494.8,84.2 495.0,84.5 495.1,84.8 495.3,84.9 495.5,85.1 495.6,85.1 495.8,85.1 495.9,85.1 496.1,84.9 496.3,84.8 496.4,84.5 496.6,84.2 496.8,83.9 496.9,83.5 497.1,83.1 497.3,82.6 497.4,82.2 497.6,81.7 497.7,81.2 497.9,80.7 498.1,80.1 498.2,79.6 498.4,79.1 498.6,78.5 498.7,78.0 498.9,77.5 499.0,76.9 499.2,76.4 499.4,75.9 499.5,75.3 499.7,74.8 499.9,74.2 500.0,73.7 500.2,73.1 500.4,72.6 500.5,72.1 500.7,71.5 500.8,71.0 501.0,70.5 501.2,69.9 501.3,69.4 501.5,68.9 501.7,68.3 501.8,67.8 502.0,67.3 502.2,66.8 502.3,66.4 502.5,65.9 502.6,65.5 502.8,65.1 503.0,64.8 503.1,64.5 503.3,64.3 503.5,64.1 503.6,64.0 503.8,63.9 504.0,63.9 504.1,64.0 504.3,64.1 504.4,64.3 504.6,64.6 504.8,64.9 504.9,65.2 505.1,65.6 505.3,66.0 505.4,66.5 505.6,67.0 505.7,67.4 505.9,68.0 506.1,68.5 506.2,69.0 506.4,69.5 506.6,70.1 506.7,70.6 506.9,71.1 507.1,71.7 507.2,72.2 507.4,72.7 507.5,73.3 507.7,73.8 507.9,74.4 508.0,74.9 508.2,75.4 508.4,76.0 508.5,76.5 508.7,77.1 508.9,77.6 509.0,78.1 509.2,78.7 509.3,79.2 509.5,79.7 509.7,80.3 509.8,80.8 510.0,81.3 510.2,81.8 510.3,82.3 510.5,82.8 510.7,83.2 510.8,83.6 511.0,84.0 511.1,84.3 511.3,84.6 511.5,84.8 511.6,85.0 511.8,85.1 512.0,85.2 512.1,85.1 512.3,85.1 512.4,84.9 512.6,84.7 512.8,84.4 512.9,84.1 513.1,83.8 513.3,83.4 513.4,83.0 513.6,82.5 513.8,82.0 513.9,81.6 514.1,81.1 514.2,80.5 514.4,80.0 514.6,79.5 514.7,79.0 514.9,78.4 515.1,77.9 515.2,77.3 515.4,76.8 515.6,76.3 515.7,75.7 515.9,75.2 516.0,74.6 516.2,74.1 516.4,73.6 516.5,73.0 516.7,72.5 516.9,71.9 517.0,71.4 517.2,70.9 517.4,70.3 517.5,69.8 517.7,69.3 517.8,68.7 518.0,68.2 518.2,67.7 518.3,67.2 518.5,66.7 518.7,66.3 518.8,65.8 519.0,65.4 519.1,65.1 519.3,64.7 519.5,64.4 519.6,64.2 519.8,64.1 520.0,64.0 520.1,63.9 520.3,63.9 520.5,64.0 520.6,64.2 520.8,64.4 520.9,64.7 521.1,65.0 521.3,65.3 521.4,65.7 521.6,66.1 521.8,66.6 521.9,67.1 522.1,67.6 522.3,68.1 522.4,68.6 522.6,69.1 522.7,69.7 522.9,70.2 523.1,70.7 523.2,71.3 523.4,71.8 523.6,72.3 523.7,72.9 523.9,73.4 524.1,74.0 524.2,74.5 524.4,75.0 524.5,75.6 524.7,76.1 524.9,76.7 525.0,77.2 525.2,77.7 525.4,78.3 525.5,78.8 525.7,79.4 525.8,79.9 526.0,80.4 526.2,80.9 526.3,81.4 526.5,81.9 526.7,82.4 526.8,82.9 527.0,83.3 527.2,83.7 527.3,84.1 527.5,84.4 527.6,84.6 527.8,84.9 528.0,85.0 528.1,85.1 528.3,85.2" fill="none" stroke="#5ba3d0" stroke-width="1.35" stroke-linejoin="round" />
<path d="M463.1,83.7 463.3,83.7 463.4,83.6 463.6,83.4 463.8,83.2 463.9,82.9 464.1,82.6 464.2,82.3 464.4,81.9 464.6,81.4 464.7,81.0 464.9,80.5 465.1,80.0 465.2,79.5 465.4,79.0 465.6,78.4 465.7,77.9 465.9,77.4 466.0,76.8 466.2,76.3 466.4,75.8 466.5,75.2 466.7,74.7 466.9,74.1 467.0,73.6 467.2,73.1 467.3,72.5 467.5,72.0 467.7,71.4 467.8,70.9 468.0,70.4 468.2,69.8 468.3,69.3 468.5,68.7 468.7,68.2 468.8,67.7 469.0,67.2 469.1,66.6 469.3,66.1 469.5,65.6 469.6,65.2 469.8,64.7 470.0,64.3 470.1,63.9 470.3,63.5 470.5,63.2 470.6,62.9 470.8,62.7 470.9,62.6 471.1,62.5 471.3,62.5 471.4,62.5 471.6,62.6 471.8,62.8 471.9,63.0 472.1,63.3 472.3,63.6 472.4,64.0 472.6,64.4 472.7,64.8 472.9,65.3 473.1,65.8 473.2,66.3 473.4,66.8 473.6,67.3 473.7,67.8 473.9,68.3 474.0,68.9 474.2,69.4 474.4,69.9 474.5,70.5 474.7,71.0 474.9,71.6 475.0,72.1 475.2,72.6 475.4,73.2 475.5,73.7 475.7,74.3 475.8,74.8 476.0,75.4 476.2,75.9 476.3,76.4 476.5,77.0 476.7,77.5 476.8,78.0 477.0,78.6 477.2,79.1 477.3,79.6 477.5,80.1 477.6,80.6 477.8,81.1 478.0,81.5 478.1,82.0 478.3,82.3 478.5,82.7 478.6,83.0 478.8,83.3 479.0,83.5 479.1,83.6 479.3,83.7 479.4,83.7 479.6,83.7 479.8,83.5 479.9,83.4 480.1,83.1 480.3,82.9 480.4,82.5 480.6,82.2 480.7,81.7 480.9,81.3 481.1,80.8 481.2,80.4 481.4,79.9 481.6,79.4 481.7,78.8 481.9,78.3 482.1,77.8 482.2,77.2 482.4,76.7 482.5,76.2 482.7,75.6 482.9,75.1 483.0,74.5 483.2,74.0 483.4,73.5 483.5,72.9 483.7,72.4 483.9,71.8 484.0,71.3 484.2,70.8 484.3,70.2 484.5,69.7 484.7,69.1 484.8,68.6 485.0,68.1 485.2,67.5 485.3,67.0 485.5,66.5 485.7,66.0 485.8,65.5 486.0,65.0 486.1,64.6 486.3,64.2 486.5,63.8 486.6,63.4 486.8,63.1 487.0,62.9 487.1,62.7 487.3,62.6 487.4,62.5 487.6,62.5 487.8,62.5 487.9,62.6 488.1,62.8 488.3,63.1 488.4,63.4 488.6,63.7 488.8,64.1 488.9,64.5 489.1,64.9 489.2,65.4 489.4,65.9 489.6,66.4 489.7,66.9 489.9,67.4 490.1,67.9 490.2,68.5 490.4,69.0 490.6,69.5 490.7,70.1 490.9,70.6 491.0,71.2 491.2,71.7 491.4,72.2 491.5,72.8 491.7,73.3 491.9,73.9 492.0,74.4 492.2,74.9 492.4,75.5 492.5,76.0 492.7,76.6 492.8,77.1 493.0,77.6 493.2,78.2 493.3,78.7 493.5,79.2 493.7,79.7 493.8,80.2 494.0,80.7 494.1,81.2 494.3,81.6 494.5,82.1 494.6,82.4 494.8,82.8 495.0,83.1 495.1,83.3 495.3,83.5 495.5,83.6 495.6,83.7 495.8,83.7 495.9,83.6 496.1,83.5 496.3,83.3 496.4,83.1 496.6,82.8 496.8,82.4 496.9,82.1 497.1,81.6 497.3,81.2 497.4,80.7 497.6,80.2 497.7,79.7 497.9,79.2 498.1,78.7 498.2,78.2 498.4,77.6 498.6,77.1 498.7,76.6 498.9,76.0 499.0,75.5 499.2,74.9 499.4,74.4 499.5,73.9 499.7,73.3 499.9,72.8 500.0,72.2 500.2,71.7 500.4,71.2 500.5,70.6 500.7,70.1 500.8,69.5 501.0,69.0 501.2,68.5 501.3,67.9 501.5,67.4 501.7,66.9 501.8,66.4 502.0,65.9 502.2,65.4 502.3,64.9 502.5,64.5 502.6,64.1 502.8,63.7 503.0,63.4 503.1,63.1 503.3,62.8 503.5,62.6 503.6,62.5 503.8,62.5 504.0,62.5 504.1,62.6 504.3,62.7 504.4,62.9 504.6,63.1 504.8,63.4 504.9,63.8 505.1,64.2 505.3,64.6 505.4,65.0 505.6,65.5 505.7,66.0 505.9,66.5 506.1,67.0 506.2,67.5 506.4,68.1 506.6,68.6 506.7,69.1 506.9,69.7 507.1,70.2 507.2,70.8 507.4,71.3 507.5,71.8 507.7,72.4 507.9,72.9 508.0,73.5 508.2,74.0 508.4,74.5 508.5,75.1 508.7,75.6 508.9,76.2 509.0,76.7 509.2,77.2 509.3,77.8 509.5,78.3 509.7,78.8 509.8,79.4 510.0,79.9 510.2,80.4 510.3,80.8 510.5,81.3 510.7,81.7 510.8,82.2 511.0,82.5 511.1,82.9 511.3,83.1 511.5,83.4 511.6,83.5 511.8,83.7 512.0,83.7 512.1,83.7 512.3,83.6 512.4,83.5 512.6,83.3 512.8,83.0 512.9,82.7 513.1,82.3 513.3,82.0 513.4,81.5 513.6,81.1 513.8,80.6 513.9,80.1 514.1,79.6 514.2,79.1 514.4,78.6 514.6,78.0 514.7,77.5 514.9,77.0 515.1,76.4 515.2,75.9 515.4,75.4 515.6,74.8 515.7,74.3 515.9,73.7 516.0,73.2 516.2,72.6 516.4,72.1 516.5,71.6 516.7,71.0 516.9,70.5 517.0,69.9 517.2,69.4 517.4,68.9 517.5,68.3 517.7,67.8 517.8,67.3 518.0,66.8 518.2,66.3 518.3,65.8 518.5,65.3 518.7,64.8 518.8,64.4 519.0,64.0 519.1,63.6 519.3,63.3 519.5,63.0 519.6,62.8 519.8,62.6 520.0,62.5 520.1,62.5 520.3,62.5 520.5,62.6 520.6,62.7 520.8,62.9 520.9,63.2 521.1,63.5 521.3,63.9 521.4,64.3 521.6,64.7 521.8,65.2 521.9,65.6 522.1,66.1 522.3,66.6 522.4,67.2 522.6,67.7 522.7,68.2 522.9,68.7 523.1,69.3 523.2,69.8 523.4,70.4 523.6,70.9 523.7,71.4 523.9,72.0 524.1,72.5 524.2,73.1 524.4,73.6 524.5,74.1 524.7,74.7 524.9,75.2 525.0,75.8 525.2,76.3 525.4,76.8 525.5,77.4 525.7,77.9 525.8,78.4 526.0,79.0 526.2,79.5 526.3,80.0 526.5,80.5 526.7,81.0 526.8,81.4 527.0,81.9 527.2,82.3 527.3,82.6 527.5,82.9 527.6,83.2 527.8,83.4 528.0,83.6 528.1,83.7 528.3,83.7" fill="none" stroke="#4493c7" stroke-width="1.35" stroke-linejoin="round" />
<path d="M463.1,82.3 463.3,82.2 463.4,82.1 463.6,82.0 463.8,81.8 463.9,81.5 464.1,81.2 464.2,80.8 464.4,80.4 464.6,80.0 464.7,79.5 464.9,79.0 465.1,78.5 465.2,78.0 465.4,77.5 465.6,77.0 465.7,76.5 465.9,75.9 466.0,75.4 466.2,74.9 466.4,74.3 466.5,73.8 466.7,73.2 466.9,72.7 467.0,72.2 467.2,71.6 467.3,71.1 467.5,70.5 467.7,70.0 467.8,69.4 468.0,68.9 468.2,68.4 468.3,67.8 468.5,67.3 468.7,66.8 468.8,66.2 469.0,65.7 469.1,65.2 469.3,64.7 469.5,64.2 469.6,63.7 469.8,63.3 470.0,62.8 470.1,62.4 470.3,62.1 470.5,61.8 470.6,61.5 470.8,61.3 470.9,61.1 471.1,61.1 471.3,61.0 471.4,61.1 471.6,61.2 471.8,61.3 471.9,61.6 472.1,61.8 472.3,62.2 472.4,62.5 472.6,62.9 472.7,63.4 472.9,63.8 473.1,64.3 473.2,64.8 473.4,65.3 473.6,65.8 473.7,66.4 473.9,66.9 474.0,67.4 474.2,68.0 474.4,68.5 474.5,69.0 474.7,69.6 474.9,70.1 475.0,70.7 475.2,71.2 475.4,71.7 475.5,72.3 475.7,72.8 475.8,73.4 476.0,73.9 476.2,74.4 476.3,75.0 476.5,75.5 476.7,76.1 476.8,76.6 477.0,77.1 477.2,77.6 477.3,78.2 477.5,78.7 477.6,79.2 477.8,79.6 478.0,80.1 478.1,80.5 478.3,80.9 478.5,81.3 478.6,81.6 478.8,81.8 479.0,82.0 479.1,82.2 479.3,82.2 479.4,82.3 479.6,82.2 479.8,82.1 479.9,81.9 480.1,81.7 480.3,81.4 480.4,81.1 480.6,80.7 480.7,80.3 480.9,79.9 481.1,79.4 481.2,78.9 481.4,78.4 481.6,77.9 481.7,77.4 481.9,76.9 482.1,76.3 482.2,75.8 482.4,75.3 482.5,74.7 482.7,74.2 482.9,73.6 483.0,73.1 483.2,72.6 483.4,72.0 483.5,71.5 483.7,70.9 483.9,70.4 484.0,69.9 484.2,69.3 484.3,68.8 484.5,68.2 484.7,67.7 484.8,67.2 485.0,66.6 485.2,66.1 485.3,65.6 485.5,65.1 485.7,64.6 485.8,64.1 486.0,63.6 486.1,63.1 486.3,62.7 486.5,62.3 486.6,62.0 486.8,61.7 487.0,61.4 487.1,61.2 487.3,61.1 487.4,61.0 487.6,61.0 487.8,61.1 487.9,61.2 488.1,61.4 488.3,61.6 488.4,61.9 488.6,62.3 488.8,62.6 488.9,63.0 489.1,63.5 489.2,63.9 489.4,64.4 489.6,64.9 489.7,65.4 489.9,66.0 490.1,66.5 490.2,67.0 490.4,67.6 490.6,68.1 490.7,68.6 490.9,69.2 491.0,69.7 491.2,70.3 491.4,70.8 491.5,71.3 491.7,71.9 491.9,72.4 492.0,73.0 492.2,73.5 492.4,74.0 492.5,74.6 492.7,75.1 492.8,75.7 493.0,76.2 493.2,76.7 493.3,77.3 493.5,77.8 493.7,78.3 493.8,78.8 494.0,79.3 494.1,79.7 494.3,80.2 494.5,80.6 494.6,81.0 494.8,81.3 495.0,81.6 495.1,81.9 495.3,82.1 495.5,82.2 495.6,82.3 495.8,82.3 495.9,82.2 496.1,82.1 496.3,81.9 496.4,81.6 496.6,81.3 496.8,81.0 496.9,80.6 497.1,80.2 497.3,79.7 497.4,79.3 497.6,78.8 497.7,78.3 497.9,77.8 498.1,77.3 498.2,76.7 498.4,76.2 498.6,75.7 498.7,75.1 498.9,74.6 499.0,74.0 499.2,73.5 499.4,73.0 499.5,72.4 499.7,71.9 499.9,71.3 500.0,70.8 500.2,70.3 500.4,69.7 500.5,69.2 500.7,68.6 500.8,68.1 501.0,67.6 501.2,67.0 501.3,66.5 501.5,66.0 501.7,65.4 501.8,64.9 502.0,64.4 502.2,63.9 502.3,63.5 502.5,63.0 502.6,62.6 502.8,62.3 503.0,61.9 503.1,61.6 503.3,61.4 503.5,61.2 503.6,61.1 503.8,61.0 504.0,61.0 504.1,61.1 504.3,61.2 504.4,61.4 504.6,61.7 504.8,62.0 504.9,62.3 505.1,62.7 505.3,63.1 505.4,63.6 505.6,64.1 505.7,64.6 505.9,65.1 506.1,65.6 506.2,66.1 506.4,66.6 506.6,67.2 506.7,67.7 506.9,68.2 507.1,68.8 507.2,69.3 507.4,69.9 507.5,70.4 507.7,70.9 507.9,71.5 508.0,72.0 508.2,72.6 508.4,73.1 508.5,73.6 508.7,74.2 508.9,74.7 509.0,75.3 509.2,75.8 509.3,76.3 509.5,76.9 509.7,77.4 509.8,77.9 510.0,78.4 510.2,78.9 510.3,79.4 510.5,79.9 510.7,80.3 510.8,80.7 511.0,81.1 511.1,81.4 511.3,81.7 511.5,81.9 511.6,82.1 511.8,82.2 512.0,82.3 512.1,82.2 512.3,82.2 512.4,82.0 512.6,81.8 512.8,81.6 512.9,81.3 513.1,80.9 513.3,80.5 513.4,80.1 513.6,79.6 513.8,79.2 513.9,78.7 514.1,78.2 514.2,77.6 514.4,77.1 514.6,76.6 514.7,76.1 514.9,75.5 515.1,75.0 515.2,74.4 515.4,73.9 515.6,73.4 515.7,72.8 515.9,72.3 516.0,71.7 516.2,71.2 516.4,70.7 516.5,70.1 516.7,69.6 516.9,69.0 517.0,68.5 517.2,68.0 517.4,67.4 517.5,66.9 517.7,66.4 517.8,65.8 518.0,65.3 518.2,64.8 518.3,64.3 518.5,63.8 518.7,63.4 518.8,62.9 519.0,62.5 519.1,62.2 519.3,61.8 519.5,61.6 519.6,61.3 519.8,61.2 520.0,61.1 520.1,61.0 520.3,61.1 520.5,61.1 520.6,61.3 520.8,61.5 520.9,61.8 521.1,62.1 521.3,62.4 521.4,62.8 521.6,63.3 521.8,63.7 521.9,64.2 522.1,64.7 522.3,65.2 522.4,65.7 522.6,66.2 522.7,66.8 522.9,67.3 523.1,67.8 523.2,68.4 523.4,68.9 523.6,69.4 523.7,70.0 523.9,70.5 524.1,71.1 524.2,71.6 524.4,72.2 524.5,72.7 524.7,73.2 524.9,73.8 525.0,74.3 525.2,74.9 525.4,75.4 525.5,75.9 525.7,76.5 525.8,77.0 526.0,77.5 526.2,78.0 526.3,78.5 526.5,79.0 526.7,79.5 526.8,80.0 527.0,80.4 527.2,80.8 527.3,81.2 527.5,81.5 527.6,81.8 527.8,82.0 528.0,82.1 528.1,82.2 528.3,82.3" fill="none" stroke="#08509a" stroke-width="1.35" stroke-linejoin="round" />
</g>
<line x1="463.10" y1="57.60" x2="463.10" y2="61.10" stroke="#222" stroke-width="1.0"/>
<line x1="482.86" y1="57.60" x2="482.86" y2="61.10" stroke="#222" stroke-width="1.0"/>
<line x1="502.62" y1="57.60" x2="502.62" y2="61.10" stroke="#222" stroke-width="1.0"/>
<line x1="522.37" y1="57.60" x2="522.37" y2="61.10" stroke="#222" stroke-width="1.0"/>
<line x1="463.10" y1="120.20" x2="466.60" y2="120.20" stroke="#222" stroke-width="1.0"/>
<line x1="463.10" y1="98.80" x2="466.60" y2="98.80" stroke="#222" stroke-width="1.0"/>
<line x1="463.10" y1="77.40" x2="466.60" y2="77.40" stroke="#222" stroke-width="1.0"/>
<rect x="463.10" y="57.60" width="65.20" height="66.00" fill="none" stroke="#333" stroke-width="1.3"/>
<text x="463.10" y="51.10" font-size="14" text-anchor="middle" fill="#111" font-weight="normal" font-style="normal" stroke="#111" stroke-width="0.3" >0</text>
<text x="482.86" y="51.10" font-size="14" text-anchor="middle" fill="#111" font-weight="normal" font-style="normal" stroke="#111" stroke-width="0.3" >1</text>
<text x="502.62" y="51.10" font-size="14" text-anchor="middle" fill="#111" font-weight="normal" font-style="normal" stroke="#111" stroke-width="0.3" >2</text>
<text x="522.37" y="51.10" font-size="14" text-anchor="middle" fill="#111" font-weight="normal" font-style="normal" stroke="#111" stroke-width="0.3" >3</text>
<text x="493.10" y="38.10" font-size="14" text-anchor="middle" fill="#111" font-weight="normal" font-style="normal" stroke="#111" stroke-width="0.3" ><tspan font-style="italic">z</tspan>/<tspan font-style="italic">σ</tspan></text>
<g fill="#2b5fa5" stroke="#2b5fa5" stroke-width="0.3">
<text x="470.80" y="139.50" font-size="11.60" font-style="italic">E</text>
<text x="478.30" y="137.70" font-size="10.50">*</text>
<text x="477.30" y="141.50" font-size="8.60">max</text>
<text x="494.60" y="139.80" font-size="12.00">=</text>
<text x="504.20" y="139.50" font-size="11.60">4</text>
</g>
<clipPath id="cc2"><rect x="541.60" y="57.60" width="65.20" height="66.00"/></clipPath>
<line x1="561.36" y1="57.60" x2="561.36" y2="123.60" stroke="#cfcfcf" stroke-width="0.7" stroke-dasharray="2,1.6"/>
<line x1="581.12" y1="57.60" x2="581.12" y2="123.60" stroke="#cfcfcf" stroke-width="0.7" stroke-dasharray="2,1.6"/>
<line x1="600.87" y1="57.60" x2="600.87" y2="123.60" stroke="#cfcfcf" stroke-width="0.7" stroke-dasharray="2,1.6"/>
<line x1="541.60" y1="98.80" x2="606.80" y2="98.80" stroke="#cfcfcf" stroke-width="0.7" stroke-dasharray="2,1.6"/>
<line x1="541.60" y1="77.40" x2="606.80" y2="77.40" stroke="#cfcfcf" stroke-width="0.7" stroke-dasharray="2,1.6"/>
<g clip-path="url(#cc2)">
<path d="M541.6,120.2 541.8,120.2 541.9,120.1 542.1,120.0 542.3,119.9 542.4,119.8 542.6,119.6 542.7,119.4 542.9,119.3 543.1,119.1 543.2,118.9 543.4,118.6 543.6,118.3 543.7,118.0 543.9,117.6 544.1,117.2 544.2,116.8 544.4,116.4 544.5,116.0 544.7,115.5 544.9,115.0 545.0,114.4 545.2,113.9 545.4,113.3 545.5,112.7 545.7,112.0 545.8,111.4 546.0,110.7 546.2,110.0 546.3,109.2 546.5,108.4 546.7,107.6 546.8,106.8 547.0,106.0 547.2,105.2 547.3,104.2 547.5,103.1 547.6,101.8 547.8,99.9 548.0,97.5 548.1,94.6 548.3,91.6 548.5,87.6 548.6,83.1 548.8,78.7 549.0,74.5 549.1,70.4 549.3,67.0 549.4,64.4 549.6,62.9 549.8,62.4 549.9,63.1 550.1,64.9 550.3,67.7 550.4,71.4 550.6,75.6 550.8,79.7 550.9,84.2 551.1,88.6 551.2,92.4 551.4,95.4 551.6,98.1 551.7,100.5 551.9,102.2 552.1,103.4 552.2,104.5 552.4,105.4 552.5,106.2 552.7,107.0 552.9,107.8 553.0,108.6 553.2,109.4 553.4,110.2 553.5,110.9 553.7,111.5 553.9,112.2 554.0,112.8 554.2,113.4 554.3,114.0 554.5,114.6 554.7,115.1 554.8,115.6 555.0,116.1 555.2,116.5 555.3,116.9 555.5,117.3 555.7,117.7 555.8,118.1 556.0,118.4 556.1,118.7 556.3,118.9 556.5,119.1 556.6,119.3 556.8,119.5 557.0,119.7 557.1,119.8 557.3,119.9 557.5,120.1 557.6,120.1 557.8,120.2 557.9,120.2 558.1,120.2 558.3,120.1 558.4,120.0 558.6,119.9 558.8,119.7 558.9,119.6 559.1,119.4 559.2,119.2 559.4,119.0 559.6,118.8 559.7,118.6 559.9,118.3 560.1,117.9 560.2,117.5 560.4,117.1 560.6,116.7 560.7,116.3 560.9,115.9 561.0,115.4 561.2,114.8 561.4,114.3 561.5,113.7 561.7,113.1 561.9,112.5 562.0,111.9 562.2,111.2 562.4,110.5 562.5,109.8 562.7,109.0 562.8,108.2 563.0,107.4 563.2,106.6 563.3,105.8 563.5,104.9 563.7,104.0 563.8,102.8 564.0,101.4 564.2,99.4 564.3,96.8 564.5,93.9 564.6,90.6 564.8,86.5 565.0,82.0 565.1,77.6 565.3,73.5 565.5,69.5 565.6,66.2 565.8,63.9 565.9,62.7 566.1,62.5 566.3,63.5 566.4,65.5 566.6,68.6 566.8,72.4 566.9,76.6 567.1,80.8 567.3,85.3 567.4,89.7 567.6,93.2 567.7,96.1 567.9,98.7 568.1,101.0 568.2,102.5 568.4,103.7 568.6,104.7 568.7,105.6 568.9,106.4 569.1,107.2 569.2,108.0 569.4,108.8 569.5,109.6 569.7,110.3 569.9,111.0 570.0,111.7 570.2,112.4 570.4,113.0 570.5,113.6 570.7,114.1 570.9,114.7 571.0,115.2 571.2,115.7 571.3,116.2 571.5,116.6 571.7,117.0 571.8,117.4 572.0,117.8 572.2,118.2 572.3,118.5 572.5,118.8 572.6,119.0 572.8,119.2 573.0,119.3 573.1,119.5 573.3,119.7 573.5,119.8 573.6,120.0 573.8,120.1 574.0,120.2 574.1,120.2 574.3,120.2 574.4,120.2 574.6,120.1 574.8,120.0 574.9,119.8 575.1,119.7 575.3,119.5 575.4,119.3 575.6,119.2 575.8,119.0 575.9,118.8 576.1,118.5 576.2,118.2 576.4,117.8 576.6,117.4 576.7,117.0 576.9,116.6 577.1,116.2 577.2,115.7 577.4,115.2 577.5,114.7 577.7,114.1 577.9,113.6 578.0,113.0 578.2,112.4 578.4,111.7 578.5,111.0 578.7,110.3 578.9,109.6 579.0,108.8 579.2,108.0 579.3,107.2 579.5,106.4 579.7,105.6 579.8,104.7 580.0,103.7 580.2,102.5 580.3,101.0 580.5,98.7 580.7,96.1 580.8,93.2 581.0,89.7 581.1,85.3 581.3,80.8 581.5,76.6 581.6,72.4 581.8,68.6 582.0,65.5 582.1,63.5 582.3,62.5 582.5,62.7 582.6,63.9 582.8,66.2 582.9,69.5 583.1,73.5 583.3,77.6 583.4,82.0 583.6,86.5 583.8,90.6 583.9,93.9 584.1,96.8 584.2,99.4 584.4,101.4 584.6,102.8 584.7,104.0 584.9,104.9 585.1,105.8 585.2,106.6 585.4,107.4 585.6,108.2 585.7,109.0 585.9,109.8 586.0,110.5 586.2,111.2 586.4,111.9 586.5,112.5 586.7,113.1 586.9,113.7 587.0,114.3 587.2,114.8 587.4,115.4 587.5,115.9 587.7,116.3 587.8,116.7 588.0,117.1 588.2,117.5 588.3,117.9 588.5,118.3 588.7,118.6 588.8,118.8 589.0,119.0 589.2,119.2 589.3,119.4 589.5,119.6 589.6,119.7 589.8,119.9 590.0,120.0 590.1,120.1 590.3,120.2 590.5,120.2 590.6,120.2 590.8,120.1 590.9,120.1 591.1,119.9 591.3,119.8 591.4,119.7 591.6,119.5 591.8,119.3 591.9,119.1 592.1,118.9 592.3,118.7 592.4,118.4 592.6,118.1 592.7,117.7 592.9,117.3 593.1,116.9 593.2,116.5 593.4,116.1 593.6,115.6 593.7,115.1 593.9,114.6 594.1,114.0 594.2,113.4 594.4,112.8 594.5,112.2 594.7,111.5 594.9,110.9 595.0,110.2 595.2,109.4 595.4,108.6 595.5,107.8 595.7,107.0 595.9,106.2 596.0,105.4 596.2,104.5 596.3,103.4 596.5,102.2 596.7,100.5 596.8,98.1 597.0,95.4 597.2,92.4 597.3,88.6 597.5,84.2 597.6,79.7 597.8,75.6 598.0,71.4 598.1,67.7 598.3,64.9 598.5,63.1 598.6,62.4 598.8,62.9 599.0,64.4 599.1,67.0 599.3,70.4 599.4,74.5 599.6,78.7 599.8,83.1 599.9,87.6 600.1,91.6 600.3,94.6 600.4,97.5 600.6,99.9 600.8,101.8 600.9,103.1 601.1,104.2 601.2,105.2 601.4,106.0 601.6,106.8 601.7,107.6 601.9,108.4 602.1,109.2 602.2,110.0 602.4,110.7 602.6,111.4 602.7,112.0 602.9,112.7 603.0,113.3 603.2,113.9 603.4,114.4 603.5,115.0 603.7,115.5 603.9,116.0 604.0,116.4 604.2,116.8 604.3,117.2 604.5,117.6 604.7,118.0 604.8,118.3 605.0,118.6 605.2,118.9 605.3,119.1 605.5,119.3 605.7,119.4 605.8,119.6 606.0,119.8 606.1,119.9 606.3,120.0 606.5,120.1 606.6,120.2 606.8,120.2" fill="none" stroke="#dfecf7" stroke-width="1.35" stroke-linejoin="round" />
<path d="M541.6,118.4 541.8,118.4 541.9,118.3 542.1,118.2 542.3,118.1 542.4,117.9 542.6,117.7 542.7,117.5 542.9,117.3 543.1,117.1 543.2,116.9 543.4,116.6 543.6,116.3 543.7,115.9 543.9,115.5 544.1,115.1 544.2,114.6 544.4,114.2 544.5,113.7 544.7,113.1 544.9,112.6 545.0,111.9 545.2,111.3 545.4,110.6 545.5,110.0 545.7,109.3 545.8,108.5 546.0,107.8 546.2,107.0 546.3,106.1 546.5,105.2 546.7,104.3 546.8,103.4 547.0,102.5 547.2,101.6 547.3,100.6 547.5,99.3 547.6,97.9 547.8,95.7 548.0,93.0 548.1,89.9 548.3,86.4 548.5,81.9 548.6,76.9 548.8,72.0 549.0,67.4 549.1,62.8 549.3,58.9 549.4,56.0 549.6,54.3 549.8,53.9 549.9,54.7 550.1,56.7 550.3,59.8 550.4,63.9 550.6,68.5 550.8,73.2 550.9,78.2 551.1,83.1 551.2,87.3 551.4,90.7 551.6,93.7 551.7,96.3 551.9,98.3 552.1,99.7 552.2,100.8 552.4,101.8 552.5,102.7 552.7,103.6 552.9,104.6 553.0,105.5 553.2,106.3 553.4,107.2 553.5,108.0 553.7,108.7 553.9,109.4 554.0,110.1 554.2,110.8 554.3,111.5 554.5,112.1 554.7,112.7 554.8,113.3 555.0,113.8 555.2,114.3 555.3,114.7 555.5,115.2 555.7,115.6 555.8,116.0 556.0,116.4 556.1,116.7 556.3,117.0 556.5,117.2 556.6,117.4 556.8,117.6 557.0,117.8 557.1,118.0 557.3,118.1 557.5,118.2 557.6,118.3 557.8,118.4 557.9,118.4 558.1,118.4 558.3,118.3 558.4,118.2 558.6,118.0 558.8,117.9 558.9,117.7 559.1,117.5 559.2,117.3 559.4,117.1 559.6,116.8 559.7,116.6 559.9,116.2 560.1,115.8 560.2,115.4 560.4,115.0 560.6,114.5 560.7,114.0 560.9,113.5 561.0,113.0 561.2,112.4 561.4,111.8 561.5,111.1 561.7,110.5 561.9,109.8 562.0,109.1 562.2,108.4 562.4,107.6 562.5,106.8 562.7,105.9 562.8,105.0 563.0,104.1 563.2,103.2 563.3,102.3 563.5,101.3 563.7,100.3 563.8,99.0 564.0,97.4 564.2,95.1 564.3,92.2 564.5,89.0 564.6,85.4 564.8,80.7 565.0,75.7 565.1,70.8 565.3,66.2 565.5,61.8 565.6,58.1 565.8,55.5 565.9,54.1 566.1,54.0 566.3,55.0 566.4,57.3 566.6,60.8 566.8,65.0 566.9,69.7 567.1,74.4 567.3,79.4 567.4,84.3 567.6,88.2 567.7,91.5 567.9,94.4 568.1,96.9 568.2,98.6 568.4,100.0 568.6,101.1 568.7,102.0 568.9,102.9 569.1,103.9 569.2,104.8 569.4,105.7 569.5,106.5 569.7,107.4 569.9,108.2 570.0,108.9 570.2,109.6 570.4,110.3 570.5,111.0 570.7,111.6 570.9,112.3 571.0,112.8 571.2,113.4 571.3,113.9 571.5,114.4 571.7,114.9 571.8,115.3 572.0,115.7 572.2,116.1 572.3,116.5 572.5,116.8 572.6,117.0 572.8,117.2 573.0,117.4 573.1,117.6 573.3,117.8 573.5,118.0 573.6,118.1 573.8,118.3 574.0,118.3 574.1,118.4 574.3,118.4 574.4,118.3 574.6,118.3 574.8,118.1 574.9,118.0 575.1,117.8 575.3,117.6 575.4,117.4 575.6,117.2 575.8,117.0 575.9,116.8 576.1,116.5 576.2,116.1 576.4,115.7 576.6,115.3 576.7,114.9 576.9,114.4 577.1,113.9 577.2,113.4 577.4,112.8 577.5,112.3 577.7,111.6 577.9,111.0 578.0,110.3 578.2,109.6 578.4,108.9 578.5,108.2 578.7,107.4 578.9,106.5 579.0,105.7 579.2,104.8 579.3,103.9 579.5,102.9 579.7,102.0 579.8,101.1 580.0,100.0 580.2,98.6 580.3,96.9 580.5,94.4 580.7,91.5 580.8,88.2 581.0,84.3 581.1,79.4 581.3,74.4 581.5,69.7 581.6,65.0 581.8,60.8 582.0,57.3 582.1,55.0 582.3,54.0 582.5,54.1 582.6,55.5 582.8,58.1 582.9,61.8 583.1,66.2 583.3,70.8 583.4,75.7 583.6,80.7 583.8,85.4 583.9,89.0 584.1,92.2 584.2,95.1 584.4,97.4 584.6,99.0 584.7,100.3 584.9,101.3 585.1,102.3 585.2,103.2 585.4,104.1 585.6,105.0 585.7,105.9 585.9,106.8 586.0,107.6 586.2,108.4 586.4,109.1 586.5,109.8 586.7,110.5 586.9,111.1 587.0,111.8 587.2,112.4 587.4,113.0 587.5,113.5 587.7,114.0 587.8,114.5 588.0,115.0 588.2,115.4 588.3,115.8 588.5,116.2 588.7,116.6 588.8,116.8 589.0,117.1 589.2,117.3 589.3,117.5 589.5,117.7 589.6,117.9 589.8,118.0 590.0,118.2 590.1,118.3 590.3,118.4 590.5,118.4 590.6,118.4 590.8,118.3 590.9,118.2 591.1,118.1 591.3,118.0 591.4,117.8 591.6,117.6 591.8,117.4 591.9,117.2 592.1,117.0 592.3,116.7 592.4,116.4 592.6,116.0 592.7,115.6 592.9,115.2 593.1,114.7 593.2,114.3 593.4,113.8 593.6,113.3 593.7,112.7 593.9,112.1 594.1,111.5 594.2,110.8 594.4,110.1 594.5,109.4 594.7,108.7 594.9,108.0 595.0,107.2 595.2,106.3 595.4,105.5 595.5,104.6 595.7,103.6 595.9,102.7 596.0,101.8 596.2,100.8 596.3,99.7 596.5,98.3 596.7,96.3 596.8,93.7 597.0,90.7 597.2,87.3 597.3,83.1 597.5,78.2 597.6,73.2 597.8,68.5 598.0,63.9 598.1,59.8 598.3,56.7 598.5,54.7 598.6,53.9 598.8,54.3 599.0,56.0 599.1,58.9 599.3,62.8 599.4,67.4 599.6,72.0 599.8,76.9 599.9,81.9 600.1,86.4 600.3,89.9 600.4,93.0 600.6,95.7 600.8,97.9 600.9,99.3 601.1,100.6 601.2,101.6 601.4,102.5 601.6,103.4 601.7,104.3 601.9,105.2 602.1,106.1 602.2,107.0 602.4,107.8 602.6,108.5 602.7,109.3 602.9,110.0 603.0,110.6 603.2,111.3 603.4,111.9 603.5,112.6 603.7,113.1 603.9,113.7 604.0,114.2 604.2,114.6 604.3,115.1 604.5,115.5 604.7,115.9 604.8,116.3 605.0,116.6 605.2,116.9 605.3,117.1 605.5,117.3 605.7,117.5 605.8,117.7 606.0,117.9 606.1,118.1 606.3,118.2 606.5,118.3 606.6,118.4 606.8,118.4" fill="none" stroke="#d3e4f3" stroke-width="1.35" stroke-linejoin="round" />
<path d="M541.6,116.6 541.8,116.5 541.9,116.5 542.1,116.4 542.3,116.2 542.4,116.1 542.6,115.9 542.7,115.6 542.9,115.4 543.1,115.2 543.2,114.9 543.4,114.6 543.6,114.3 543.7,113.9 543.9,113.4 544.1,112.9 544.2,112.4 544.4,111.9 544.5,111.4 544.7,110.8 544.9,110.1 545.0,109.5 545.2,108.8 545.4,108.0 545.5,107.3 545.7,106.5 545.8,105.7 546.0,104.8 546.2,104.0 546.3,103.0 546.5,102.0 546.7,101.1 546.8,100.0 547.0,99.0 547.2,98.0 547.3,96.9 547.5,95.5 547.6,93.9 547.8,91.6 548.0,88.5 548.1,85.1 548.3,81.2 548.5,76.3 548.6,70.8 548.8,65.3 549.0,60.2 549.1,55.2 549.3,50.9 549.4,47.7 549.6,45.8 549.8,45.3 549.9,46.2 550.1,48.4 550.3,51.9 550.4,56.4 550.6,61.5 550.8,66.7 550.9,72.2 551.1,77.6 551.2,82.3 551.4,86.0 551.6,89.3 551.7,92.2 551.9,94.3 552.1,95.9 552.2,97.2 552.4,98.3 552.5,99.3 552.7,100.3 552.9,101.3 553.0,102.3 553.2,103.3 553.4,104.2 553.5,105.1 553.7,105.9 553.9,106.7 554.0,107.5 554.2,108.2 554.3,108.9 554.5,109.6 554.7,110.3 554.8,110.9 555.0,111.5 555.2,112.0 555.3,112.6 555.5,113.1 555.7,113.5 555.8,114.0 556.0,114.4 556.1,114.7 556.3,115.0 556.5,115.2 556.6,115.5 556.8,115.7 557.0,115.9 557.1,116.1 557.3,116.3 557.5,116.4 557.6,116.5 557.8,116.6 557.9,116.6 558.1,116.5 558.3,116.5 558.4,116.3 558.6,116.2 558.8,116.0 558.9,115.8 559.1,115.6 559.2,115.4 559.4,115.1 559.6,114.9 559.7,114.5 559.9,114.2 560.1,113.8 560.2,113.3 560.4,112.8 560.6,112.3 560.7,111.8 560.9,111.2 561.0,110.6 561.2,110.0 561.4,109.3 561.5,108.6 561.7,107.8 561.9,107.1 562.0,106.3 562.2,105.5 562.4,104.6 562.5,103.7 562.7,102.8 562.8,101.8 563.0,100.8 563.2,99.8 563.3,98.8 563.5,97.7 563.7,96.6 563.8,95.2 564.0,93.4 564.2,90.9 564.3,87.7 564.5,84.1 564.6,80.1 564.8,74.9 565.0,69.4 565.1,64.1 565.3,58.9 565.5,54.0 565.6,50.0 565.8,47.1 565.9,45.6 566.1,45.4 566.3,46.6 566.4,49.1 566.6,52.9 566.8,57.6 566.9,62.8 567.1,68.0 567.3,73.6 567.4,78.9 567.6,83.2 567.7,86.8 567.9,90.1 568.1,92.8 568.2,94.8 568.4,96.2 568.6,97.5 568.7,98.5 568.9,99.5 569.1,100.5 569.2,101.6 569.4,102.5 569.5,103.5 569.7,104.4 569.9,105.3 570.0,106.1 570.2,106.9 570.4,107.7 570.5,108.4 570.7,109.1 570.9,109.8 571.0,110.5 571.2,111.1 571.3,111.6 571.5,112.2 571.7,112.7 571.8,113.2 572.0,113.6 572.2,114.1 572.3,114.5 572.5,114.8 572.6,115.1 572.8,115.3 573.0,115.5 573.1,115.7 573.3,116.0 573.5,116.1 573.6,116.3 573.8,116.4 574.0,116.5 574.1,116.6 574.3,116.6 574.4,116.5 574.6,116.4 574.8,116.3 574.9,116.1 575.1,116.0 575.3,115.7 575.4,115.5 575.6,115.3 575.8,115.1 575.9,114.8 576.1,114.5 576.2,114.1 576.4,113.6 576.6,113.2 576.7,112.7 576.9,112.2 577.1,111.6 577.2,111.1 577.4,110.5 577.5,109.8 577.7,109.1 577.9,108.4 578.0,107.7 578.2,106.9 578.4,106.1 578.5,105.3 578.7,104.4 578.9,103.5 579.0,102.5 579.2,101.6 579.3,100.5 579.5,99.5 579.7,98.5 579.8,97.5 580.0,96.2 580.2,94.8 580.3,92.8 580.5,90.1 580.7,86.8 580.8,83.2 581.0,78.9 581.1,73.6 581.3,68.0 581.5,62.8 581.6,57.6 581.8,52.9 582.0,49.1 582.1,46.6 582.3,45.4 582.5,45.6 582.6,47.1 582.8,50.0 582.9,54.0 583.1,58.9 583.3,64.1 583.4,69.4 583.6,74.9 583.8,80.1 583.9,84.1 584.1,87.7 584.2,90.9 584.4,93.4 584.6,95.2 584.7,96.6 584.9,97.7 585.1,98.8 585.2,99.8 585.4,100.8 585.6,101.8 585.7,102.8 585.9,103.7 586.0,104.6 586.2,105.5 586.4,106.3 586.5,107.1 586.7,107.8 586.9,108.6 587.0,109.3 587.2,110.0 587.4,110.6 587.5,111.2 587.7,111.8 587.8,112.3 588.0,112.8 588.2,113.3 588.3,113.8 588.5,114.2 588.7,114.5 588.8,114.9 589.0,115.1 589.2,115.4 589.3,115.6 589.5,115.8 589.6,116.0 589.8,116.2 590.0,116.3 590.1,116.5 590.3,116.5 590.5,116.6 590.6,116.6 590.8,116.5 590.9,116.4 591.1,116.3 591.3,116.1 591.4,115.9 591.6,115.7 591.8,115.5 591.9,115.2 592.1,115.0 592.3,114.7 592.4,114.4 592.6,114.0 592.7,113.5 592.9,113.1 593.1,112.6 593.2,112.0 593.4,111.5 593.6,110.9 593.7,110.3 593.9,109.6 594.1,108.9 594.2,108.2 594.4,107.5 594.5,106.7 594.7,105.9 594.9,105.1 595.0,104.2 595.2,103.3 595.4,102.3 595.5,101.3 595.7,100.3 595.9,99.3 596.0,98.3 596.2,97.2 596.3,95.9 596.5,94.3 596.7,92.2 596.8,89.3 597.0,86.0 597.2,82.3 597.3,77.6 597.5,72.2 597.6,66.7 597.8,61.5 598.0,56.4 598.1,51.9 598.3,48.4 598.5,46.2 598.6,45.3 598.8,45.8 599.0,47.7 599.1,50.9 599.3,55.2 599.4,60.2 599.6,65.3 599.8,70.8 599.9,76.3 600.1,81.2 600.3,85.1 600.4,88.5 600.6,91.6 600.8,93.9 600.9,95.5 601.1,96.9 601.2,98.0 601.4,99.0 601.6,100.0 601.7,101.1 601.9,102.0 602.1,103.0 602.2,104.0 602.4,104.8 602.6,105.7 602.7,106.5 602.9,107.3 603.0,108.0 603.2,108.8 603.4,109.5 603.5,110.1 603.7,110.8 603.9,111.4 604.0,111.9 604.2,112.4 604.3,112.9 604.5,113.4 604.7,113.9 604.8,114.3 605.0,114.6 605.2,114.9 605.3,115.2 605.5,115.4 605.7,115.6 605.8,115.9 606.0,116.1 606.1,116.2 606.3,116.4 606.5,116.5 606.6,116.5 606.8,116.6" fill="none" stroke="#c0d8ed" stroke-width="1.35" stroke-linejoin="round" />
<path d="M541.6,114.8 541.8,114.7 541.9,114.7 542.1,114.5 542.3,114.4 542.4,114.2 542.6,114.0 542.7,113.7 542.9,113.5 543.1,113.2 543.2,113.0 543.4,112.6 543.6,112.2 543.7,111.8 543.9,111.3 544.1,110.8 544.2,110.2 544.4,109.7 544.5,109.1 544.7,108.4 544.9,107.7 545.0,107.0 545.2,106.2 545.4,105.4 545.5,104.6 545.7,103.7 545.8,102.9 546.0,101.9 546.2,100.9 546.3,99.9 546.5,98.9 546.7,97.8 546.8,96.7 547.0,95.5 547.2,94.4 547.3,93.2 547.5,91.7 547.6,89.9 547.8,87.4 548.0,84.1 548.1,80.3 548.3,76.1 548.5,70.7 548.6,64.6 548.8,58.7 549.0,53.1 549.1,47.6 549.3,42.9 549.4,39.4 549.6,37.3 549.8,36.8 549.9,37.7 550.1,40.1 550.3,43.9 550.4,48.9 550.6,54.5 550.8,60.1 550.9,66.1 551.1,72.1 551.2,77.2 551.4,81.2 551.6,84.9 551.7,88.1 551.9,90.4 552.1,92.1 552.2,93.5 552.4,94.7 552.5,95.8 552.7,96.9 552.9,98.0 553.0,99.1 553.2,100.2 553.4,101.2 553.5,102.2 553.7,103.1 553.9,104.0 554.0,104.8 554.2,105.6 554.3,106.4 554.5,107.2 554.7,107.9 554.8,108.6 555.0,109.2 555.2,109.8 555.3,110.4 555.5,110.9 555.7,111.4 555.8,111.9 556.0,112.3 556.1,112.7 556.3,113.0 556.5,113.3 556.6,113.6 556.8,113.8 557.0,114.0 557.1,114.2 557.3,114.4 557.5,114.6 557.6,114.7 557.8,114.7 557.9,114.8 558.1,114.7 558.3,114.6 558.4,114.5 558.6,114.3 558.8,114.1 558.9,113.9 559.1,113.7 559.2,113.4 559.4,113.2 559.6,112.9 559.7,112.5 559.9,112.1 560.1,111.7 560.2,111.2 560.4,110.6 560.6,110.1 560.7,109.5 560.9,108.9 561.0,108.2 561.2,107.5 561.4,106.8 561.5,106.0 561.7,105.2 561.9,104.4 562.0,103.5 562.2,102.6 562.4,101.7 562.5,100.7 562.7,99.7 562.8,98.6 563.0,97.5 563.2,96.4 563.3,95.3 563.5,94.1 563.7,92.9 563.8,91.3 564.0,89.4 564.2,86.6 564.3,83.1 564.5,79.3 564.6,74.8 564.8,69.2 565.0,63.1 565.1,57.3 565.3,51.7 565.5,46.3 565.6,41.9 565.8,38.7 565.9,37.0 566.1,36.9 566.3,38.2 566.4,40.9 566.6,45.1 566.8,50.3 566.9,55.9 567.1,61.6 567.3,67.7 567.4,73.5 567.6,78.3 567.7,82.2 567.9,85.8 568.1,88.8 568.2,90.9 568.4,92.5 568.6,93.8 568.7,95.0 568.9,96.1 569.1,97.2 569.2,98.3 569.4,99.4 569.5,100.4 569.7,101.4 569.9,102.4 570.0,103.3 570.2,104.2 570.4,105.0 570.5,105.8 570.7,106.6 570.9,107.3 571.0,108.1 571.2,108.7 571.3,109.4 571.5,109.9 571.7,110.5 571.8,111.0 572.0,111.6 572.2,112.0 572.3,112.4 572.5,112.8 572.6,113.1 572.8,113.4 573.0,113.6 573.1,113.9 573.3,114.1 573.5,114.3 573.6,114.5 573.8,114.6 574.0,114.7 574.1,114.8 574.3,114.8 574.4,114.7 574.6,114.6 574.8,114.5 574.9,114.3 575.1,114.1 575.3,113.9 575.4,113.6 575.6,113.4 575.8,113.1 575.9,112.8 576.1,112.4 576.2,112.0 576.4,111.6 576.6,111.0 576.7,110.5 576.9,109.9 577.1,109.4 577.2,108.7 577.4,108.1 577.5,107.3 577.7,106.6 577.9,105.8 578.0,105.0 578.2,104.2 578.4,103.3 578.5,102.4 578.7,101.4 578.9,100.4 579.0,99.4 579.2,98.3 579.3,97.2 579.5,96.1 579.7,95.0 579.8,93.8 580.0,92.5 580.2,90.9 580.3,88.8 580.5,85.8 580.7,82.2 580.8,78.3 581.0,73.5 581.1,67.7 581.3,61.6 581.5,55.9 581.6,50.3 581.8,45.1 582.0,40.9 582.1,38.2 582.3,36.9 582.5,37.0 582.6,38.7 582.8,41.9 582.9,46.3 583.1,51.7 583.3,57.3 583.4,63.1 583.6,69.2 583.8,74.8 583.9,79.3 584.1,83.1 584.2,86.6 584.4,89.4 584.6,91.3 584.7,92.9 584.9,94.1 585.1,95.3 585.2,96.4 585.4,97.5 585.6,98.6 585.7,99.7 585.9,100.7 586.0,101.7 586.2,102.6 586.4,103.5 586.5,104.4 586.7,105.2 586.9,106.0 587.0,106.8 587.2,107.5 587.4,108.2 587.5,108.9 587.7,109.5 587.8,110.1 588.0,110.6 588.2,111.2 588.3,111.7 588.5,112.1 588.7,112.5 588.8,112.9 589.0,113.2 589.2,113.4 589.3,113.7 589.5,113.9 589.6,114.1 589.8,114.3 590.0,114.5 590.1,114.6 590.3,114.7 590.5,114.8 590.6,114.7 590.8,114.7 590.9,114.6 591.1,114.4 591.3,114.2 591.4,114.0 591.6,113.8 591.8,113.6 591.9,113.3 592.1,113.0 592.3,112.7 592.4,112.3 592.6,111.9 592.7,111.4 592.9,110.9 593.1,110.4 593.2,109.8 593.4,109.2 593.6,108.6 593.7,107.9 593.9,107.2 594.1,106.4 594.2,105.6 594.4,104.8 594.5,104.0 594.7,103.1 594.9,102.2 595.0,101.2 595.2,100.2 595.4,99.1 595.5,98.0 595.7,96.9 595.9,95.8 596.0,94.7 596.2,93.5 596.3,92.1 596.5,90.4 596.7,88.1 596.8,84.9 597.0,81.2 597.2,77.2 597.3,72.1 597.5,66.1 597.6,60.1 597.8,54.5 598.0,48.9 598.1,43.9 598.3,40.1 598.5,37.7 598.6,36.8 598.8,37.3 599.0,39.4 599.1,42.9 599.3,47.6 599.4,53.1 599.6,58.7 599.8,64.6 599.9,70.7 600.1,76.1 600.3,80.3 600.4,84.1 600.6,87.4 600.8,89.9 600.9,91.7 601.1,93.2 601.2,94.4 601.4,95.5 601.6,96.7 601.7,97.8 601.9,98.9 602.1,99.9 602.2,100.9 602.4,101.9 602.6,102.9 602.7,103.7 602.9,104.6 603.0,105.4 603.2,106.2 603.4,107.0 603.5,107.7 603.7,108.4 603.9,109.1 604.0,109.7 604.2,110.2 604.3,110.8 604.5,111.3 604.7,111.8 604.8,112.2 605.0,112.6 605.2,113.0 605.3,113.2 605.5,113.5 605.7,113.7 605.8,114.0 606.0,114.2 606.1,114.4 606.3,114.5 606.5,114.7 606.6,114.7 606.8,114.8" fill="none" stroke="#9fcae1" stroke-width="1.35" stroke-linejoin="round" />
<path d="M541.6,113.0 541.8,112.9 541.9,112.8 542.1,112.7 542.3,112.5 542.4,112.3 542.6,112.1 542.7,111.8 542.9,111.6 543.1,111.3 543.2,111.0 543.4,110.6 543.6,110.2 543.7,109.7 543.9,109.2 544.1,108.6 544.2,108.0 544.4,107.4 544.5,106.7 544.7,106.0 544.9,105.3 545.0,104.5 545.2,103.7 545.4,102.8 545.5,101.9 545.7,101.0 545.8,100.0 546.0,99.0 546.2,97.9 546.3,96.8 546.5,95.7 546.7,94.5 546.8,93.3 547.0,92.1 547.2,90.9 547.3,89.5 547.5,87.9 547.6,86.0 547.8,83.2 548.0,79.6 548.1,75.5 548.3,70.9 548.5,65.0 548.6,58.5 548.8,52.0 549.0,45.9 549.1,39.9 549.3,34.8 549.4,31.0 549.6,28.8 549.8,28.2 549.9,29.2 550.1,31.8 550.3,36.0 550.4,41.4 550.6,47.5 550.8,53.6 550.9,60.1 551.1,66.6 551.2,72.2 551.4,76.5 551.6,80.6 551.7,84.0 551.9,86.5 552.1,88.3 552.2,89.9 552.4,91.2 552.5,92.4 552.7,93.6 552.9,94.8 553.0,96.0 553.2,97.1 553.4,98.2 553.5,99.3 553.7,100.3 553.9,101.2 554.0,102.1 554.2,103.0 554.3,103.9 554.5,104.7 554.7,105.5 554.8,106.2 555.0,106.9 555.2,107.6 555.3,108.2 555.5,108.8 555.7,109.3 555.8,109.9 556.0,110.3 556.1,110.7 556.3,111.1 556.5,111.4 556.6,111.6 556.8,111.9 557.0,112.2 557.1,112.4 557.3,112.6 557.5,112.7 557.6,112.9 557.8,112.9 557.9,112.9 558.1,112.9 558.3,112.8 558.4,112.7 558.6,112.5 558.8,112.3 558.9,112.0 559.1,111.8 559.2,111.5 559.4,111.2 559.6,110.9 559.7,110.5 559.9,110.1 560.1,109.6 560.2,109.0 560.4,108.5 560.6,107.9 560.7,107.2 560.9,106.6 561.0,105.9 561.2,105.1 561.4,104.3 561.5,103.4 561.7,102.6 561.9,101.7 562.0,100.7 562.2,99.8 562.4,98.7 562.5,97.7 562.7,96.5 562.8,95.4 563.0,94.2 563.2,93.0 563.3,91.8 563.5,90.6 563.7,89.1 563.8,87.5 564.0,85.4 564.2,82.4 564.3,78.6 564.5,74.4 564.6,69.6 564.8,63.4 565.0,56.8 565.1,50.5 565.3,44.4 565.5,38.5 565.6,33.7 565.8,30.3 565.9,28.5 566.1,28.3 566.3,29.7 566.4,32.7 566.6,37.2 566.8,42.9 566.9,49.0 567.1,55.2 567.3,61.8 567.4,68.1 567.6,73.3 567.7,77.6 567.9,81.5 568.1,84.7 568.2,87.0 568.4,88.8 568.6,90.2 568.7,91.5 568.9,92.7 569.1,93.9 569.2,95.1 569.4,96.3 569.5,97.4 569.7,98.5 569.9,99.5 570.0,100.5 570.2,101.4 570.4,102.3 570.5,103.2 570.7,104.1 570.9,104.9 571.0,105.7 571.2,106.4 571.3,107.1 571.5,107.7 571.7,108.3 571.8,108.9 572.0,109.5 572.2,110.0 572.3,110.4 572.5,110.8 572.6,111.1 572.8,111.4 573.0,111.7 573.1,112.0 573.3,112.2 573.5,112.4 573.6,112.6 573.8,112.8 574.0,112.9 574.1,112.9 574.3,112.9 574.4,112.9 574.6,112.8 574.8,112.6 574.9,112.4 575.1,112.2 575.3,112.0 575.4,111.7 575.6,111.4 575.8,111.1 575.9,110.8 576.1,110.4 576.2,110.0 576.4,109.5 576.6,108.9 576.7,108.3 576.9,107.7 577.1,107.1 577.2,106.4 577.4,105.7 577.5,104.9 577.7,104.1 577.9,103.2 578.0,102.3 578.2,101.4 578.4,100.5 578.5,99.5 578.7,98.5 578.9,97.4 579.0,96.3 579.2,95.1 579.3,93.9 579.5,92.7 579.7,91.5 579.8,90.2 580.0,88.8 580.2,87.0 580.3,84.7 580.5,81.5 580.7,77.6 580.8,73.3 581.0,68.1 581.1,61.8 581.3,55.2 581.5,49.0 581.6,42.9 581.8,37.2 582.0,32.7 582.1,29.7 582.3,28.3 582.5,28.5 582.6,30.3 582.8,33.7 582.9,38.5 583.1,44.4 583.3,50.5 583.4,56.8 583.6,63.4 583.8,69.6 583.9,74.4 584.1,78.6 584.2,82.4 584.4,85.4 584.6,87.5 584.7,89.1 584.9,90.6 585.1,91.8 585.2,93.0 585.4,94.2 585.6,95.4 585.7,96.5 585.9,97.7 586.0,98.7 586.2,99.8 586.4,100.7 586.5,101.7 586.7,102.6 586.9,103.4 587.0,104.3 587.2,105.1 587.4,105.9 587.5,106.6 587.7,107.2 587.8,107.9 588.0,108.5 588.2,109.0 588.3,109.6 588.5,110.1 588.7,110.5 588.8,110.9 589.0,111.2 589.2,111.5 589.3,111.8 589.5,112.0 589.6,112.3 589.8,112.5 590.0,112.7 590.1,112.8 590.3,112.9 590.5,112.9 590.6,112.9 590.8,112.9 590.9,112.7 591.1,112.6 591.3,112.4 591.4,112.2 591.6,111.9 591.8,111.6 591.9,111.4 592.1,111.1 592.3,110.7 592.4,110.3 592.6,109.9 592.7,109.3 592.9,108.8 593.1,108.2 593.2,107.6 593.4,106.9 593.6,106.2 593.7,105.5 593.9,104.7 594.1,103.9 594.2,103.0 594.4,102.1 594.5,101.2 594.7,100.3 594.9,99.3 595.0,98.2 595.2,97.1 595.4,96.0 595.5,94.8 595.7,93.6 595.9,92.4 596.0,91.2 596.2,89.9 596.3,88.3 596.5,86.5 596.7,84.0 596.8,80.6 597.0,76.5 597.2,72.2 597.3,66.6 597.5,60.1 597.6,53.6 597.8,47.5 598.0,41.4 598.1,36.0 598.3,31.8 598.5,29.2 598.6,28.2 598.8,28.8 599.0,31.0 599.1,34.8 599.3,39.9 599.4,45.9 599.6,52.0 599.8,58.5 599.9,65.0 600.1,70.9 600.3,75.5 600.4,79.6 600.6,83.2 600.8,86.0 600.9,87.9 601.1,89.5 601.2,90.9 601.4,92.1 601.6,93.3 601.7,94.5 601.9,95.7 602.1,96.8 602.2,97.9 602.4,99.0 602.6,100.0 602.7,101.0 602.9,101.9 603.0,102.8 603.2,103.7 603.4,104.5 603.5,105.3 603.7,106.0 603.9,106.7 604.0,107.4 604.2,108.0 604.3,108.6 604.5,109.2 604.7,109.7 604.8,110.2 605.0,110.6 605.2,111.0 605.3,111.3 605.5,111.6 605.7,111.8 605.8,112.1 606.0,112.3 606.1,112.5 606.3,112.7 606.5,112.8 606.6,112.9 606.8,113.0" fill="none" stroke="#70b1d7" stroke-width="1.35" stroke-linejoin="round" />
<path d="M541.6,111.1 541.8,111.1 541.9,111.0 542.1,110.9 542.3,110.7 542.4,110.5 542.6,110.2 542.7,109.9 542.9,109.6 543.1,109.3 543.2,109.0 543.4,108.6 543.6,108.2 543.7,107.7 543.9,107.1 544.1,106.5 544.2,105.8 544.4,105.2 544.5,104.4 544.7,103.7 544.9,102.9 545.0,102.0 545.2,101.1 545.4,100.2 545.5,99.2 545.7,98.2 545.8,97.2 546.0,96.1 546.2,94.9 546.3,93.7 546.5,92.5 546.7,91.2 546.8,89.9 547.0,88.6 547.2,87.3 547.3,85.8 547.5,84.1 547.6,82.0 547.8,79.0 548.0,75.1 548.1,70.7 548.3,65.8 548.5,59.4 548.6,52.3 548.8,45.4 549.0,38.8 549.1,32.3 549.3,26.8 549.4,22.7 549.6,20.3 549.8,19.6 549.9,20.7 550.1,23.6 550.3,28.0 550.4,33.9 550.6,40.4 550.8,47.0 550.9,54.1 551.1,61.1 551.2,67.1 551.4,71.8 551.6,76.2 551.7,79.9 551.9,82.6 552.1,84.6 552.2,86.2 552.4,87.6 552.5,88.9 552.7,90.2 552.9,91.5 553.0,92.8 553.2,94.0 553.4,95.2 553.5,96.4 553.7,97.4 553.9,98.5 554.0,99.4 554.2,100.4 554.3,101.3 554.5,102.2 554.7,103.1 554.8,103.9 555.0,104.6 555.2,105.3 555.3,106.0 555.5,106.6 555.7,107.2 555.8,107.8 556.0,108.3 556.1,108.8 556.3,109.1 556.5,109.4 556.6,109.7 556.8,110.0 557.0,110.3 557.1,110.5 557.3,110.7 557.5,110.9 557.6,111.0 557.8,111.1 557.9,111.1 558.1,111.1 558.3,111.0 558.4,110.8 558.6,110.6 558.8,110.4 558.9,110.1 559.1,109.9 559.2,109.6 559.4,109.3 559.6,108.9 559.7,108.5 559.9,108.1 560.1,107.5 560.2,106.9 560.4,106.3 560.6,105.7 560.7,105.0 560.9,104.3 561.0,103.5 561.2,102.7 561.4,101.8 561.5,100.9 561.7,99.9 561.9,99.0 562.0,98.0 562.2,96.9 562.4,95.8 562.5,94.6 562.7,93.4 562.8,92.2 563.0,90.9 563.2,89.6 563.3,88.3 563.5,87.0 563.7,85.4 563.8,83.6 564.0,81.4 564.2,78.1 564.3,74.0 564.5,69.5 564.6,64.3 564.8,57.7 565.0,50.5 565.1,43.7 565.3,37.1 565.5,30.8 565.6,25.6 565.8,21.9 565.9,20.0 566.1,19.7 566.3,21.3 566.4,24.5 566.6,29.4 566.8,35.5 566.9,42.1 567.1,48.8 567.3,55.9 567.4,62.8 567.6,68.3 567.7,72.9 567.9,77.2 568.1,80.7 568.2,83.1 568.4,85.0 568.6,86.6 568.7,88.0 568.9,89.2 569.1,90.6 569.2,91.9 569.4,93.1 569.5,94.3 569.7,95.5 569.9,96.6 570.0,97.7 570.2,98.7 570.4,99.7 570.5,100.6 570.7,101.6 570.9,102.4 571.0,103.3 571.2,104.1 571.3,104.8 571.5,105.5 571.7,106.1 571.8,106.8 572.0,107.4 572.2,107.9 572.3,108.4 572.5,108.9 572.6,109.2 572.8,109.5 573.0,109.8 573.1,110.1 573.3,110.3 573.5,110.6 573.6,110.8 573.8,111.0 574.0,111.1 574.1,111.1 574.3,111.1 574.4,111.1 574.6,111.0 574.8,110.8 574.9,110.6 575.1,110.3 575.3,110.1 575.4,109.8 575.6,109.5 575.8,109.2 575.9,108.9 576.1,108.4 576.2,107.9 576.4,107.4 576.6,106.8 576.7,106.1 576.9,105.5 577.1,104.8 577.2,104.1 577.4,103.3 577.5,102.4 577.7,101.6 577.9,100.6 578.0,99.7 578.2,98.7 578.4,97.7 578.5,96.6 578.7,95.5 578.9,94.3 579.0,93.1 579.2,91.9 579.3,90.6 579.5,89.2 579.7,88.0 579.8,86.6 580.0,85.0 580.2,83.1 580.3,80.7 580.5,77.2 580.7,72.9 580.8,68.3 581.0,62.8 581.1,55.9 581.3,48.8 581.5,42.1 581.6,35.5 581.8,29.4 582.0,24.5 582.1,21.3 582.3,19.7 582.5,20.0 582.6,21.9 582.8,25.6 582.9,30.8 583.1,37.1 583.3,43.7 583.4,50.5 583.6,57.7 583.8,64.3 583.9,69.5 584.1,74.0 584.2,78.1 584.4,81.4 584.6,83.6 584.7,85.4 584.9,87.0 585.1,88.3 585.2,89.6 585.4,90.9 585.6,92.2 585.7,93.4 585.9,94.6 586.0,95.8 586.2,96.9 586.4,98.0 586.5,99.0 586.7,99.9 586.9,100.9 587.0,101.8 587.2,102.7 587.4,103.5 587.5,104.3 587.7,105.0 587.8,105.7 588.0,106.3 588.2,106.9 588.3,107.5 588.5,108.1 588.7,108.5 588.8,108.9 589.0,109.3 589.2,109.6 589.3,109.9 589.5,110.1 589.6,110.4 589.8,110.6 590.0,110.8 590.1,111.0 590.3,111.1 590.5,111.1 590.6,111.1 590.8,111.0 590.9,110.9 591.1,110.7 591.3,110.5 591.4,110.3 591.6,110.0 591.8,109.7 591.9,109.4 592.1,109.1 592.3,108.8 592.4,108.3 592.6,107.8 592.7,107.2 592.9,106.6 593.1,106.0 593.2,105.3 593.4,104.6 593.6,103.9 593.7,103.1 593.9,102.2 594.1,101.3 594.2,100.4 594.4,99.4 594.5,98.5 594.7,97.4 594.9,96.4 595.0,95.2 595.2,94.0 595.4,92.8 595.5,91.5 595.7,90.2 595.9,88.9 596.0,87.6 596.2,86.2 596.3,84.6 596.5,82.6 596.7,79.9 596.8,76.2 597.0,71.8 597.2,67.1 597.3,61.1 597.5,54.1 597.6,47.0 597.8,40.4 598.0,33.9 598.1,28.0 598.3,23.6 598.5,20.7 598.6,19.6 598.8,20.3 599.0,22.7 599.1,26.8 599.3,32.3 599.4,38.8 599.6,45.4 599.8,52.3 599.9,59.4 600.1,65.8 600.3,70.7 600.4,75.1 600.6,79.0 600.8,82.0 600.9,84.1 601.1,85.8 601.2,87.3 601.4,88.6 601.6,89.9 601.7,91.2 601.9,92.5 602.1,93.7 602.2,94.9 602.4,96.1 602.6,97.2 602.7,98.2 602.9,99.2 603.0,100.2 603.2,101.1 603.4,102.0 603.5,102.9 603.7,103.7 603.9,104.4 604.0,105.2 604.2,105.8 604.3,106.5 604.5,107.1 604.7,107.7 604.8,108.2 605.0,108.6 605.2,109.0 605.3,109.3 605.5,109.6 605.7,109.9 605.8,110.2 606.0,110.5 606.1,110.7 606.3,110.9 606.5,111.0 606.6,111.1 606.8,111.1" fill="none" stroke="#4795c8" stroke-width="1.35" stroke-linejoin="round" />
<path d="M541.6,109.3 541.8,109.3 541.9,109.2 542.1,109.0 542.3,108.8 542.4,108.6 542.6,108.3 542.7,108.0 542.9,107.7 543.1,107.4 543.2,107.1 543.4,106.7 543.6,106.2 543.7,105.6 543.9,105.0 544.1,104.3 544.2,103.6 544.4,102.9 544.5,102.1 544.7,101.3 544.9,100.4 545.0,99.5 545.2,98.5 545.4,97.5 545.5,96.5 545.7,95.4 545.8,94.3 546.0,93.2 546.2,91.9 546.3,90.6 546.5,89.3 546.7,87.9 546.8,86.5 547.0,85.1 547.2,83.7 547.3,82.2 547.5,80.3 547.6,78.1 547.8,74.8 548.0,70.7 548.1,65.9 548.3,60.6 548.5,53.8 548.6,46.2 548.8,38.7 549.0,31.6 549.1,24.7 549.3,18.7 549.4,14.4 549.6,11.8 549.8,11.1 549.9,12.3 550.1,15.3 550.3,20.1 550.4,26.3 550.6,33.4 550.8,40.5 550.9,48.1 551.1,55.6 551.2,62.0 551.4,67.1 551.6,71.8 551.7,75.7 551.9,78.7 552.1,80.8 552.2,82.6 552.4,84.1 552.5,85.5 552.7,86.9 552.9,88.3 553.0,89.6 553.2,91.0 553.4,92.2 553.5,93.5 553.7,94.6 553.9,95.7 554.0,96.8 554.2,97.8 554.3,98.8 554.5,99.8 554.7,100.7 554.8,101.5 555.0,102.3 555.2,103.1 555.3,103.8 555.5,104.5 555.7,105.1 555.8,105.7 556.0,106.3 556.1,106.8 556.3,107.2 556.5,107.5 556.6,107.8 556.8,108.1 557.0,108.4 557.1,108.7 557.3,108.9 557.5,109.1 557.6,109.2 557.8,109.3 557.9,109.3 558.1,109.3 558.3,109.2 558.4,109.0 558.6,108.8 558.8,108.5 558.9,108.3 559.1,108.0 559.2,107.6 559.4,107.3 559.6,107.0 559.7,106.5 559.9,106.0 560.1,105.4 560.2,104.8 560.4,104.1 560.6,103.4 560.7,102.7 560.9,101.9 561.0,101.1 561.2,100.2 561.4,99.3 561.5,98.3 561.7,97.3 561.9,96.2 562.0,95.2 562.2,94.0 562.4,92.9 562.5,91.6 562.7,90.3 562.8,89.0 563.0,87.6 563.2,86.2 563.3,84.8 563.5,83.4 563.7,81.7 563.8,79.8 564.0,77.4 564.2,73.9 564.3,69.5 564.5,64.6 564.6,59.0 564.8,51.9 565.0,44.3 565.1,36.9 565.3,29.8 565.5,23.1 565.6,17.5 565.8,13.5 565.9,11.4 566.1,11.2 566.3,12.8 566.4,16.3 566.6,21.5 566.8,28.1 566.9,35.2 567.1,42.4 567.3,50.0 567.4,57.4 567.6,63.3 567.7,68.3 567.9,72.8 568.1,76.6 568.2,79.2 568.4,81.3 568.6,83.0 568.7,84.4 568.9,85.8 569.1,87.2 569.2,88.6 569.4,90.0 569.5,91.3 569.7,92.5 569.9,93.8 570.0,94.9 570.2,96.0 570.4,97.0 570.5,98.1 570.7,99.0 570.9,100.0 571.0,100.9 571.2,101.7 571.3,102.5 571.5,103.3 571.7,104.0 571.8,104.6 572.0,105.3 572.2,105.9 572.3,106.4 572.5,106.9 572.6,107.2 572.8,107.6 573.0,107.9 573.1,108.2 573.3,108.5 573.5,108.7 573.6,109.0 573.8,109.1 574.0,109.3 574.1,109.3 574.3,109.3 574.4,109.3 574.6,109.1 574.8,109.0 574.9,108.7 575.1,108.5 575.3,108.2 575.4,107.9 575.6,107.6 575.8,107.2 575.9,106.9 576.1,106.4 576.2,105.9 576.4,105.3 576.6,104.6 576.7,104.0 576.9,103.3 577.1,102.5 577.2,101.7 577.4,100.9 577.5,100.0 577.7,99.0 577.9,98.1 578.0,97.0 578.2,96.0 578.4,94.9 578.5,93.8 578.7,92.5 578.9,91.3 579.0,90.0 579.2,88.6 579.3,87.2 579.5,85.8 579.7,84.4 579.8,83.0 580.0,81.3 580.2,79.2 580.3,76.6 580.5,72.8 580.7,68.3 580.8,63.3 581.0,57.4 581.1,50.0 581.3,42.4 581.5,35.2 581.6,28.1 581.8,21.5 582.0,16.3 582.1,12.8 582.3,11.2 582.5,11.4 582.6,13.5 582.8,17.5 582.9,23.1 583.1,29.8 583.3,36.9 583.4,44.3 583.6,51.9 583.8,59.0 583.9,64.6 584.1,69.5 584.2,73.9 584.4,77.4 584.6,79.8 584.7,81.7 584.9,83.4 585.1,84.8 585.2,86.2 585.4,87.6 585.6,89.0 585.7,90.3 585.9,91.6 586.0,92.9 586.2,94.0 586.4,95.2 586.5,96.2 586.7,97.3 586.9,98.3 587.0,99.3 587.2,100.2 587.4,101.1 587.5,101.9 587.7,102.7 587.8,103.4 588.0,104.1 588.2,104.8 588.3,105.4 588.5,106.0 588.7,106.5 588.8,107.0 589.0,107.3 589.2,107.6 589.3,108.0 589.5,108.3 589.6,108.5 589.8,108.8 590.0,109.0 590.1,109.2 590.3,109.3 590.5,109.3 590.6,109.3 590.8,109.2 590.9,109.1 591.1,108.9 591.3,108.7 591.4,108.4 591.6,108.1 591.8,107.8 591.9,107.5 592.1,107.2 592.3,106.8 592.4,106.3 592.6,105.7 592.7,105.1 592.9,104.5 593.1,103.8 593.2,103.1 593.4,102.3 593.6,101.5 593.7,100.7 593.9,99.8 594.1,98.8 594.2,97.8 594.4,96.8 594.5,95.7 594.7,94.6 594.9,93.5 595.0,92.2 595.2,91.0 595.4,89.6 595.5,88.3 595.7,86.9 595.9,85.5 596.0,84.1 596.2,82.6 596.3,80.8 596.5,78.7 596.7,75.7 596.8,71.8 597.0,67.1 597.2,62.0 597.3,55.6 597.5,48.1 597.6,40.5 597.8,33.4 598.0,26.3 598.1,20.1 598.3,15.3 598.5,12.3 598.6,11.1 598.8,11.8 599.0,14.4 599.1,18.7 599.3,24.7 599.4,31.6 599.6,38.7 599.8,46.2 599.9,53.8 600.1,60.6 600.3,65.9 600.4,70.7 600.6,74.8 600.8,78.1 600.9,80.3 601.1,82.2 601.2,83.7 601.4,85.1 601.6,86.5 601.7,87.9 601.9,89.3 602.1,90.6 602.2,91.9 602.4,93.2 602.6,94.3 602.7,95.4 602.9,96.5 603.0,97.5 603.2,98.5 603.4,99.5 603.5,100.4 603.7,101.3 603.9,102.1 604.0,102.9 604.2,103.6 604.3,104.3 604.5,105.0 604.7,105.6 604.8,106.2 605.0,106.7 605.2,107.1 605.3,107.4 605.5,107.7 605.7,108.0 605.8,108.3 606.0,108.6 606.1,108.8 606.3,109.0 606.5,109.2 606.6,109.3 606.8,109.3" fill="none" stroke="#2373b6" stroke-width="1.35" stroke-linejoin="round" />
<path d="M541.6,107.5 541.8,107.5 541.9,107.4 542.1,107.2 542.3,107.0 542.4,106.7 542.6,106.5 542.7,106.1 542.9,105.8 543.1,105.5 543.2,105.1 543.4,104.7 543.6,104.1 543.7,103.5 543.9,102.9 544.1,102.1 544.2,101.4 544.4,100.6 544.5,99.8 544.7,99.0 544.9,98.0 545.0,97.0 545.2,96.0 545.4,94.9 545.5,93.8 545.7,92.7 545.8,91.5 546.0,90.2 546.2,88.9 546.3,87.5 546.5,86.1 546.7,84.6 546.8,83.1 547.0,81.7 547.2,80.2 547.3,78.5 547.5,76.5 547.6,74.1 547.8,70.7 548.0,66.2 548.1,61.1 548.3,55.5 548.5,48.2 548.6,40.0 548.8,32.0 549.0,24.5 549.1,17.0 549.3,10.7 549.4,6.0 549.6,3.3 549.8,2.5 549.9,3.8 550.1,7.0 550.3,12.2 550.4,18.8 550.6,26.4 550.8,34.0 550.9,42.1 551.1,50.1 551.2,57.0 551.4,62.4 551.6,67.4 551.7,71.6 551.9,74.8 552.1,77.0 552.2,78.9 552.4,80.5 552.5,82.0 552.7,83.5 552.9,85.0 553.0,86.5 553.2,87.9 553.4,89.3 553.5,90.6 553.7,91.8 553.9,93.0 554.0,94.1 554.2,95.2 554.3,96.3 554.5,97.3 554.7,98.3 554.8,99.2 555.0,100.0 555.2,100.8 555.3,101.6 555.5,102.3 555.7,103.0 555.8,103.7 556.0,104.3 556.1,104.8 556.3,105.2 556.5,105.5 556.6,105.9 556.8,106.2 557.0,106.5 557.1,106.8 557.3,107.1 557.5,107.3 557.6,107.4 557.8,107.5 557.9,107.5 558.1,107.5 558.3,107.3 558.4,107.2 558.6,106.9 558.8,106.7 558.9,106.4 559.1,106.1 559.2,105.7 559.4,105.4 559.6,105.0 559.7,104.5 559.9,104.0 560.1,103.4 560.2,102.7 560.4,102.0 560.6,101.2 560.7,100.5 560.9,99.6 561.0,98.7 561.2,97.8 561.4,96.8 561.5,95.7 561.7,94.6 561.9,93.5 562.0,92.4 562.2,91.2 562.4,89.9 562.5,88.6 562.7,87.2 562.8,85.7 563.0,84.3 563.2,82.8 563.3,81.3 563.5,79.8 563.7,78.0 563.8,75.9 564.0,73.4 564.2,69.6 564.3,65.0 564.5,59.7 564.6,53.8 564.8,46.2 565.0,38.0 565.1,30.1 565.3,22.6 565.5,15.3 565.6,9.4 565.8,5.2 565.9,2.9 566.1,2.6 566.3,4.4 566.4,8.1 566.6,13.7 566.8,20.7 566.9,28.3 567.1,36.0 567.3,44.1 567.4,52.0 567.6,58.4 567.7,63.7 567.9,68.5 568.1,72.5 568.2,75.4 568.4,77.5 568.6,79.4 568.7,80.9 568.9,82.4 569.1,83.9 569.2,85.4 569.4,86.8 569.5,88.2 569.7,89.6 569.9,90.9 570.0,92.1 570.2,93.3 570.4,94.4 570.5,95.5 570.7,96.5 570.9,97.5 571.0,98.5 571.2,99.4 571.3,100.2 571.5,101.0 571.7,101.8 571.8,102.5 572.0,103.2 572.2,103.8 572.3,104.4 572.5,104.9 572.6,105.3 572.8,105.6 573.0,106.0 573.1,106.3 573.3,106.6 573.5,106.9 573.6,107.1 573.8,107.3 574.0,107.4 574.1,107.5 574.3,107.5 574.4,107.4 574.6,107.3 574.8,107.1 574.9,106.9 575.1,106.6 575.3,106.3 575.4,106.0 575.6,105.6 575.8,105.3 575.9,104.9 576.1,104.4 576.2,103.8 576.4,103.2 576.6,102.5 576.7,101.8 576.9,101.0 577.1,100.2 577.2,99.4 577.4,98.5 577.5,97.5 577.7,96.5 577.9,95.5 578.0,94.4 578.2,93.3 578.4,92.1 578.5,90.9 578.7,89.6 578.9,88.2 579.0,86.8 579.2,85.4 579.3,83.9 579.5,82.4 579.7,80.9 579.8,79.4 580.0,77.5 580.2,75.4 580.3,72.5 580.5,68.5 580.7,63.7 580.8,58.4 581.0,52.0 581.1,44.1 581.3,36.0 581.5,28.3 581.6,20.7 581.8,13.7 582.0,8.1 582.1,4.4 582.3,2.6 582.5,2.9 582.6,5.2 582.8,9.4 582.9,15.3 583.1,22.6 583.3,30.1 583.4,38.0 583.6,46.2 583.8,53.8 583.9,59.7 584.1,65.0 584.2,69.6 584.4,73.4 584.6,75.9 584.7,78.0 584.9,79.8 585.1,81.3 585.2,82.8 585.4,84.3 585.6,85.7 585.7,87.2 585.9,88.6 586.0,89.9 586.2,91.2 586.4,92.4 586.5,93.5 586.7,94.6 586.9,95.7 587.0,96.8 587.2,97.8 587.4,98.7 587.5,99.6 587.7,100.5 587.8,101.2 588.0,102.0 588.2,102.7 588.3,103.4 588.5,104.0 588.7,104.5 588.8,105.0 589.0,105.4 589.2,105.7 589.3,106.1 589.5,106.4 589.6,106.7 589.8,106.9 590.0,107.2 590.1,107.3 590.3,107.5 590.5,107.5 590.6,107.5 590.8,107.4 590.9,107.3 591.1,107.1 591.3,106.8 591.4,106.5 591.6,106.2 591.8,105.9 591.9,105.5 592.1,105.2 592.3,104.8 592.4,104.3 592.6,103.7 592.7,103.0 592.9,102.3 593.1,101.6 593.2,100.8 593.4,100.0 593.6,99.2 593.7,98.3 593.9,97.3 594.1,96.3 594.2,95.2 594.4,94.1 594.5,93.0 594.7,91.8 594.9,90.6 595.0,89.3 595.2,87.9 595.4,86.5 595.5,85.0 595.7,83.5 595.9,82.0 596.0,80.5 596.2,78.9 596.3,77.0 596.5,74.8 596.7,71.6 596.8,67.4 597.0,62.4 597.2,57.0 597.3,50.1 597.5,42.1 597.6,34.0 597.8,26.4 598.0,18.8 598.1,12.2 598.3,7.0 598.5,3.8 598.6,2.5 598.8,3.3 599.0,6.0 599.1,10.7 599.3,17.0 599.4,24.5 599.6,32.0 599.8,40.0 599.9,48.2 600.1,55.5 600.3,61.1 600.4,66.2 600.6,70.7 600.8,74.1 600.9,76.5 601.1,78.5 601.2,80.2 601.4,81.7 601.6,83.1 601.7,84.6 601.9,86.1 602.1,87.5 602.2,88.9 602.4,90.2 602.6,91.5 602.7,92.7 602.9,93.8 603.0,94.9 603.2,96.0 603.4,97.0 603.5,98.0 603.7,99.0 603.9,99.8 604.0,100.6 604.2,101.4 604.3,102.1 604.5,102.9 604.7,103.5 604.8,104.1 605.0,104.7 605.2,105.1 605.3,105.5 605.5,105.8 605.7,106.1 605.8,106.5 606.0,106.7 606.1,107.0 606.3,107.2 606.5,107.4 606.6,107.5 606.8,107.5" fill="none" stroke="#08509a" stroke-width="1.35" stroke-linejoin="round" />
</g>
<line x1="541.60" y1="57.60" x2="541.60" y2="61.10" stroke="#222" stroke-width="1.0"/>
<line x1="561.36" y1="57.60" x2="561.36" y2="61.10" stroke="#222" stroke-width="1.0"/>
<line x1="581.12" y1="57.60" x2="581.12" y2="61.10" stroke="#222" stroke-width="1.0"/>
<line x1="600.87" y1="57.60" x2="600.87" y2="61.10" stroke="#222" stroke-width="1.0"/>
<line x1="541.60" y1="120.20" x2="545.10" y2="120.20" stroke="#222" stroke-width="1.0"/>
<line x1="541.60" y1="98.80" x2="545.10" y2="98.80" stroke="#222" stroke-width="1.0"/>
<line x1="541.60" y1="77.40" x2="545.10" y2="77.40" stroke="#222" stroke-width="1.0"/>
<rect x="541.60" y="57.60" width="65.20" height="66.00" fill="none" stroke="#333" stroke-width="1.3"/>
<text x="541.60" y="51.10" font-size="14" text-anchor="middle" fill="#111" font-weight="normal" font-style="normal" stroke="#111" stroke-width="0.3" >0</text>
<text x="561.36" y="51.10" font-size="14" text-anchor="middle" fill="#111" font-weight="normal" font-style="normal" stroke="#111" stroke-width="0.3" >1</text>
<text x="581.12" y="51.10" font-size="14" text-anchor="middle" fill="#111" font-weight="normal" font-style="normal" stroke="#111" stroke-width="0.3" >2</text>
<text x="600.87" y="51.10" font-size="14" text-anchor="middle" fill="#111" font-weight="normal" font-style="normal" stroke="#111" stroke-width="0.3" >3</text>
<text x="571.60" y="38.10" font-size="14" text-anchor="middle" fill="#111" font-weight="normal" font-style="normal" stroke="#111" stroke-width="0.3" ><tspan font-style="italic">z</tspan>/<tspan font-style="italic">σ</tspan></text>
<g fill="#2b5fa5" stroke="#2b5fa5" stroke-width="0.3">
<text x="550.00" y="139.50" font-size="11.60" font-style="italic">E</text>
<text x="557.50" y="137.70" font-size="10.50">*</text>
<text x="556.50" y="141.50" font-size="8.60">max</text>
<text x="573.80" y="139.80" font-size="12.00">=</text>
<text x="583.40" y="139.50" font-size="11.60">8</text>
</g>
<text x="380.80" y="125.00" font-size="13.6" text-anchor="end" fill="#111" font-weight="normal" font-style="normal" letter-spacing="0.6" stroke="#111" stroke-width="0.3" >0.0</text>
<text x="380.80" y="103.60" font-size="13.6" text-anchor="end" fill="#111" font-weight="normal" font-style="normal" letter-spacing="0.6" stroke="#111" stroke-width="0.3" >0.4</text>
<text x="380.80" y="82.20" font-size="13.6" text-anchor="end" fill="#111" font-weight="normal" font-style="normal" letter-spacing="0.6" stroke="#111" stroke-width="0.3" >0.8</text>
<text x="352.50" y="91.00" font-size="13.6" text-anchor="middle" fill="#111" font-weight="normal" font-style="normal" transform="rotate(-90 352.50 91.00)" stroke="#111" stroke-width="0.3" ><tspan font-style="italic">ρ</tspan><tspan font-size="9.5" dy="-5.5">*</tspan></text>
<text x="416.30" y="88.00" font-size="12.5" text-anchor="middle" fill="#f0658f" font-weight="normal" font-style="normal" letter-spacing="0.6" stroke="#f0658f" stroke-width="0.3" >(ii)</text>
<text x="416.30" y="115.00" font-size="12.5" text-anchor="middle" fill="#f0658f" font-weight="normal" font-style="normal" letter-spacing="0.6" stroke="#f0658f" stroke-width="0.3" >(i)</text>
<rect x="486.5" y="86.5" width="19" height="13.5" fill="#fff"/>
<rect x="486" y="103" width="20" height="13.3" fill="#fff"/>
<text x="495.90" y="97.30" font-size="12.5" text-anchor="middle" fill="#5c1a80" font-weight="normal" font-style="normal" letter-spacing="0.6" stroke="#5c1a80" stroke-width="0.3" >(iv)</text>
<text x="495.90" y="113.50" font-size="12.5" text-anchor="middle" fill="#5c1a80" font-weight="normal" font-style="normal" letter-spacing="0.6" stroke="#5c1a80" stroke-width="0.3" >(iii)</text>
<defs><linearGradient id="grB" x1="0" y1="1" x2="0" y2="0"><stop offset="0.000" stop-color="#f7fbff"/><stop offset="0.125" stop-color="#deebf7"/><stop offset="0.250" stop-color="#c6dbef"/><stop offset="0.375" stop-color="#9ecae1"/><stop offset="0.500" stop-color="#6baed6"/><stop offset="0.625" stop-color="#4292c6"/><stop offset="0.750" stop-color="#2171b5"/><stop offset="0.875" stop-color="#08519c"/><stop offset="1.000" stop-color="#08306b"/></linearGradient></defs>
<path d="M616.2,128.5 L616.2,48.7 L613.9,48.7 L619.2,41.4 L625,48.7 L622.1,48.7 L622.1,128.5 Z" fill="url(#grB)" stroke="#111" stroke-width="0.9"/>
<text x="636.70" y="88.30" font-size="11.9" text-anchor="middle" fill="#2c5fa0" font-weight="normal" font-style="normal" transform="rotate(-90 636.70 88.30)" stroke="#2c5fa0" stroke-width="0.3" >increasing <tspan font-style="italic">μ</tspan></text>
<text x="339.20" y="46.00" font-size="13.6" text-anchor="start" fill="#111" font-weight="bold" font-style="normal" >c</text>
<rect x="384.10" y="154.40" width="239.70" height="183.70" fill="#eff7fe"/>
<clipPath id="cd"><rect x="384.10" y="154.40" width="239.70" height="183.70"/></clipPath>
<g clip-path="url(#cd)">
<path d="M427.4,345.0 427.4,342.9 427.5,340.0 427.5,336.6 427.6,333.2 427.6,330.0 427.7,327.1 427.7,324.3 427.8,321.6 427.8,318.8 427.9,316.0 427.9,313.2 428.0,310.5 428.0,307.8 428.1,305.0 428.1,302.0 428.1,298.7 428.2,295.1 428.2,291.5 428.3,288.0 428.3,285.0 428.3,282.4 428.3,280.1 428.3,278.0 428.3,276.1 428.3,274.4 428.3,273.0 428.4,271.8 428.4,270.8 428.4,269.8 428.5,268.8 428.6,267.7 428.6,266.6 428.7,265.4 428.8,264.3 429.0,263.2 429.2,262.1 429.5,261.0 429.8,259.9 430.1,258.8 430.4,257.7 430.6,256.5 430.8,255.3 430.9,254.2 431.1,253.0 431.2,251.8 431.3,250.7 431.4,249.6 431.5,248.5 431.6,247.4 431.7,246.3 431.8,245.2 432.0,244.1 432.1,242.9 432.2,241.8 432.4,240.7 432.6,239.6 432.7,238.4 432.9,237.3 433.1,236.2 433.4,235.1 433.7,234.1 434.0,233.1 434.3,232.2 434.7,231.2 435.2,230.0 435.7,228.6 436.3,227.1 437.0,225.5 437.6,223.9 438.4,222.4 439.2,220.9 440.1,219.4 441.0,217.9 442.0,216.4 443.0,215.0 444.1,213.6 445.3,212.2 446.6,210.9 447.8,209.6 449.1,208.4 450.4,207.3 451.7,206.3 453.0,205.3 454.4,204.4 455.7,203.7 457.0,203.1 458.3,202.6 459.6,202.3 461.0,202.0 462.4,201.7 463.9,201.5 465.5,201.3 467.2,201.2 468.8,201.1 470.4,201.0 471.9,200.9 473.3,200.8 474.7,200.8 476.1,200.7 477.6,200.7 479.1,200.7 480.7,200.7 482.3,200.8 484.1,200.9 486.0,201.0 488.2,201.2 490.7,201.4 493.3,201.6 495.8,201.9 498.0,202.3 499.9,202.7 501.5,203.2 503.0,203.7 504.5,204.3 506.0,205.0 507.6,205.8 509.2,206.6 510.9,207.5 512.5,208.6 514.1,209.7 515.7,211.0 517.3,212.4 518.9,213.9 520.5,215.4 522.1,217.0 523.7,218.7 525.4,220.4 527.0,222.2 528.6,224.0 530.1,225.7 531.6,227.4 533.1,229.2 534.5,231.0 535.7,232.5 536.8,233.8 537.6,234.7 538.1,235.3 538.6,235.8 539.0,236.2 539.5,236.8 540.1,237.5 540.8,238.3 541.4,239.1 542.1,240.0 542.8,240.9 543.5,241.9 544.2,243.0 544.9,244.1 545.7,245.2 546.4,246.3 547.2,247.4 548.0,248.6 548.8,249.7 549.5,250.9 550.3,252.0 551.0,253.1 551.7,254.2 552.4,255.3 553.1,256.4 553.8,257.5 554.5,258.6 555.2,259.7 555.9,260.9 556.6,262.0 557.3,263.1 558.0,264.2 558.6,265.2 559.2,266.3 559.8,267.4 560.5,268.4 561.2,269.4 561.9,270.5 562.6,271.5 563.3,272.5 564.0,273.6 564.6,274.7 565.2,275.9 565.8,277.1 566.4,278.2 567.0,279.4 567.6,280.6 568.1,281.7 568.7,282.9 569.2,284.0 569.8,285.2 570.3,286.4 570.9,287.5 571.4,288.7 572.0,289.8 572.5,291.0 573.1,292.2 573.6,293.3 574.2,294.5 574.8,295.6 575.3,296.8 575.8,297.9 576.3,299.1 576.9,300.2 577.3,301.4 577.8,302.5 578.2,303.6 578.6,304.7 579.0,305.9 579.4,307.0 579.8,308.1 580.1,309.1 580.4,310.1 580.6,311.0 581.0,312.2 581.6,313.7 582.5,315.6 583.6,317.8 584.8,320.2 586.0,322.6 587.2,325.0 588.4,327.4 589.6,329.9 590.9,332.5 592.0,334.8 593.1,337.0 594.1,339.0 595.0,340.9 595.8,342.6 596.5,344.0 597.0,345.0 Z" fill="#f8e7e9" stroke="none"/>
<path d="M429.3,345.0 429.3,343.9 429.3,342.4 429.3,340.7 429.3,338.9 429.3,337.3 429.2,335.9 429.2,334.6 429.1,333.3 429.0,332.0 429.0,330.7 429.0,329.4 429.1,328.1 429.2,326.9 429.2,325.6 429.3,324.2 429.3,322.7 429.4,321.2 429.4,319.7 429.4,318.2 429.5,316.7 429.6,315.3 429.6,314.0 429.7,312.8 429.8,311.5 429.9,310.2 430.0,308.9 430.1,307.6 430.2,306.3 430.3,305.0 430.5,303.6 430.7,302.2 431.0,300.7 431.4,299.2 431.7,297.7 432.1,296.2 432.5,294.7 432.8,293.2 433.2,291.7 433.6,290.2 434.1,288.8 434.7,287.4 435.4,286.1 436.1,284.8 436.8,283.4 437.4,282.1 438.0,280.7 438.5,279.4 439.1,278.0 439.6,276.6 440.2,275.2 440.8,273.8 441.5,272.4 442.2,271.0 442.8,269.6 443.4,268.3 443.9,267.1 444.3,265.9 444.8,264.7 445.2,263.6 445.7,262.5 446.3,261.5 446.9,260.4 447.5,259.5 448.2,258.5 448.9,257.6 449.7,256.7 450.5,255.8 451.4,255.0 452.3,254.2 453.2,253.4 454.2,252.7 455.2,252.0 456.2,251.4 457.3,250.8 458.5,250.2 459.7,249.7 461.0,249.2 462.3,248.7 463.6,248.3 465.0,248.0 466.4,247.8 467.9,247.6 469.4,247.5 470.9,247.4 472.4,247.3 473.9,247.2 475.5,247.1 477.1,247.1 478.6,247.0 479.9,247.0 480.9,247.0 481.7,247.0 482.5,247.0 483.4,247.0 484.7,247.0 486.5,247.0 488.8,247.1 491.2,247.1 493.6,247.2 495.7,247.3 497.6,247.4 499.3,247.5 501.0,247.6 502.6,247.7 504.3,248.0 506.0,248.4 507.8,248.9 509.5,249.4 511.2,250.0 512.8,250.7 514.4,251.4 515.9,252.2 517.3,253.1 518.8,254.0 520.3,255.0 521.8,256.1 523.4,257.3 524.9,258.5 526.4,259.7 527.8,260.9 529.2,262.0 530.6,263.2 531.9,264.3 533.1,265.4 534.2,266.2 535.0,266.7 535.6,267.0 536.1,267.3 536.6,267.6 537.3,268.3 538.1,269.4 539.1,270.7 540.1,272.2 541.1,273.7 542.1,275.2 543.1,276.6 544.2,278.0 545.2,279.5 546.3,280.9 547.4,282.3 548.5,283.7 549.6,285.1 550.7,286.5 551.9,287.9 553.0,289.3 554.2,290.7 555.4,292.0 556.6,293.4 557.7,294.8 558.9,296.2 560.0,297.7 561.2,299.2 562.3,300.7 563.4,302.2 564.3,303.6 565.1,305.0 565.7,306.3 566.3,307.6 566.9,308.9 567.6,310.2 568.3,311.6 569.1,313.0 569.9,314.4 570.7,315.8 571.5,317.2 572.3,318.6 573.1,320.0 573.9,321.4 574.6,322.8 575.3,324.2 575.9,325.6 576.4,326.9 576.9,328.3 577.5,329.6 578.0,331.0 578.6,332.4 579.2,333.7 579.9,335.1 580.5,336.4 581.1,337.8 581.7,339.3 582.4,341.0 583.1,342.6 583.6,344.0 584.0,345.0 Z" fill="#c3a6c6" stroke="none"/>
</g>
<line x1="384.10" y1="171.2" x2="637" y2="171.2" stroke="#9a007f" stroke-width="1.3" stroke-dasharray="3,2"/>
<line x1="384.10" y1="303.3" x2="639" y2="303.3" stroke="#134a8c" stroke-width="1.3" stroke-dasharray="3,2"/>
<g clip-path="url(#cd)">
<path d="M427.4,345.0 427.4,342.9 427.5,340.0 427.5,336.6 427.6,333.2 427.6,330.0 427.7,327.1 427.7,324.3 427.8,321.6 427.8,318.8 427.9,316.0 427.9,313.2 428.0,310.5 428.0,307.8 428.1,305.0 428.1,302.0 428.1,298.7 428.2,295.1 428.2,291.5 428.3,288.0 428.3,285.0 428.3,282.4 428.3,280.1 428.3,278.0 428.3,276.1 428.3,274.4 428.3,273.0 428.4,271.8 428.4,270.8 428.4,269.8 428.5,268.8 428.6,267.7 428.6,266.6 428.7,265.4 428.8,264.3 429.0,263.2 429.2,262.1 429.5,261.0 429.8,259.9 430.1,258.8 430.4,257.7 430.6,256.5 430.8,255.3 430.9,254.2 431.1,253.0 431.2,251.8 431.3,250.7 431.4,249.6 431.5,248.5 431.6,247.4 431.7,246.3 431.8,245.2 432.0,244.1 432.1,242.9 432.2,241.8 432.4,240.7 432.6,239.6 432.7,238.4 432.9,237.3 433.1,236.2 433.4,235.1 433.7,234.1 434.0,233.1 434.3,232.2 434.7,231.2 435.2,230.0 435.7,228.6 436.3,227.1 437.0,225.5 437.6,223.9 438.4,222.4 439.2,220.9 440.1,219.4 441.0,217.9 442.0,216.4 443.0,215.0 444.1,213.6 445.3,212.2 446.6,210.9 447.8,209.6 449.1,208.4 450.4,207.3 451.7,206.3 453.0,205.3 454.4,204.4 455.7,203.7 457.0,203.1 458.3,202.6 459.6,202.3 461.0,202.0 462.4,201.7 463.9,201.5 465.5,201.3 467.2,201.2 468.8,201.1 470.4,201.0 471.9,200.9 473.3,200.8 474.7,200.8 476.1,200.7 477.6,200.7 479.1,200.7 480.7,200.7 482.3,200.8 484.1,200.9 486.0,201.0 488.2,201.2 490.7,201.4 493.3,201.6 495.8,201.9 498.0,202.3 499.9,202.7 501.5,203.2 503.0,203.7 504.5,204.3 506.0,205.0 507.6,205.8 509.2,206.6 510.9,207.5 512.5,208.6 514.1,209.7 515.7,211.0 517.3,212.4 518.9,213.9 520.5,215.4 522.1,217.0 523.7,218.7 525.4,220.4 527.0,222.2 528.6,224.0 530.1,225.7 531.6,227.4 533.1,229.2 534.5,231.0 535.7,232.5 536.8,233.8 537.6,234.7 538.1,235.3 538.6,235.8 539.0,236.2 539.5,236.8 540.1,237.5 540.8,238.3 541.4,239.1 542.1,240.0 542.8,240.9 543.5,241.9 544.2,243.0 544.9,244.1 545.7,245.2 546.4,246.3 547.2,247.4 548.0,248.6 548.8,249.7 549.5,250.9 550.3,252.0 551.0,253.1 551.7,254.2 552.4,255.3 553.1,256.4 553.8,257.5 554.5,258.6 555.2,259.7 555.9,260.9 556.6,262.0 557.3,263.1 558.0,264.2 558.6,265.2 559.2,266.3 559.8,267.4 560.5,268.4 561.2,269.4 561.9,270.5 562.6,271.5 563.3,272.5 564.0,273.6 564.6,274.7 565.2,275.9 565.8,277.1 566.4,278.2 567.0,279.4 567.6,280.6 568.1,281.7 568.7,282.9 569.2,284.0 569.8,285.2 570.3,286.4 570.9,287.5 571.4,288.7 572.0,289.8 572.5,291.0 573.1,292.2 573.6,293.3 574.2,294.5 574.8,295.6 575.3,296.8 575.8,297.9 576.3,299.1 576.9,300.2 577.3,301.4 577.8,302.5 578.2,303.6 578.6,304.7 579.0,305.9 579.4,307.0 579.8,308.1 580.1,309.1 580.4,310.1 580.6,311.0 581.0,312.2 581.6,313.7 582.5,315.6 583.6,317.8 584.8,320.2 586.0,322.6 587.2,325.0 588.4,327.4 589.6,329.9 590.9,332.5 592.0,334.8 593.1,337.0 594.1,339.0 595.0,340.9 595.8,342.6 596.5,344.0 597.0,345.0" fill="none" stroke="#f26b8c" stroke-width="1.9" stroke-linejoin="round" />
<circle cx="433.40" cy="235.10" r="2.35" fill="#fccdd5" stroke="#f7a0b6" stroke-width="0.8"/>
<circle cx="537.94" cy="235.10" r="2.35" fill="#fccdd5" stroke="#f7a0b6" stroke-width="0.8"/>
<circle cx="432.40" cy="240.70" r="2.35" fill="#fccdd5" stroke="#f7a0b6" stroke-width="0.8"/>
<circle cx="542.65" cy="240.70" r="2.35" fill="#fccdd5" stroke="#f7a0b6" stroke-width="0.8"/>
<circle cx="431.70" cy="246.30" r="2.35" fill="#fccdd5" stroke="#f7a0b6" stroke-width="0.8"/>
<circle cx="546.40" cy="246.30" r="2.35" fill="#fccdd5" stroke="#f7a0b6" stroke-width="0.8"/>
<circle cx="431.20" cy="251.80" r="2.35" fill="#fccdd5" stroke="#f7a0b6" stroke-width="0.8"/>
<circle cx="550.17" cy="251.80" r="2.35" fill="#fccdd5" stroke="#f7a0b6" stroke-width="0.8"/>
<circle cx="430.40" cy="257.70" r="2.35" fill="#fccdd5" stroke="#f7a0b6" stroke-width="0.8"/>
<circle cx="553.93" cy="257.70" r="2.35" fill="#fccdd5" stroke="#f7a0b6" stroke-width="0.8"/>
<circle cx="429.00" cy="263.20" r="2.35" fill="#fccdd5" stroke="#f7a0b6" stroke-width="0.8"/>
<circle cx="557.36" cy="263.20" r="2.35" fill="#fccdd5" stroke="#f7a0b6" stroke-width="0.8"/>
<circle cx="428.50" cy="268.80" r="2.35" fill="#fccdd5" stroke="#f7a0b6" stroke-width="0.8"/>
<circle cx="560.77" cy="268.80" r="2.35" fill="#fccdd5" stroke="#f7a0b6" stroke-width="0.8"/>
<circle cx="428.30" cy="274.40" r="2.35" fill="#fccdd5" stroke="#f7a0b6" stroke-width="0.8"/>
<circle cx="564.45" cy="274.40" r="2.35" fill="#fccdd5" stroke="#f7a0b6" stroke-width="0.8"/>
<circle cx="428.30" cy="279.80" r="2.35" fill="#fccdd5" stroke="#f7a0b6" stroke-width="0.8"/>
<circle cx="567.20" cy="279.80" r="2.35" fill="#fccdd5" stroke="#f7a0b6" stroke-width="0.8"/>
<circle cx="428.30" cy="285.30" r="2.35" fill="#fccdd5" stroke="#f7a0b6" stroke-width="0.8"/>
<circle cx="569.85" cy="285.30" r="2.35" fill="#fccdd5" stroke="#f7a0b6" stroke-width="0.8"/>
<circle cx="428.24" cy="290.80" r="2.35" fill="#fccdd5" stroke="#f7a0b6" stroke-width="0.8"/>
<circle cx="572.41" cy="290.80" r="2.35" fill="#fccdd5" stroke="#f7a0b6" stroke-width="0.8"/>
<circle cx="428.17" cy="296.40" r="2.35" fill="#fccdd5" stroke="#f7a0b6" stroke-width="0.8"/>
<circle cx="575.11" cy="296.40" r="2.35" fill="#fccdd5" stroke="#f7a0b6" stroke-width="0.8"/>
<circle cx="428.10" cy="302.00" r="2.35" fill="#fccdd5" stroke="#f7a0b6" stroke-width="0.8"/>
<circle cx="577.60" cy="302.00" r="2.35" fill="#fccdd5" stroke="#f7a0b6" stroke-width="0.8"/>
<circle cx="428.03" cy="307.60" r="2.35" fill="#fccdd5" stroke="#f7a0b6" stroke-width="0.8"/>
<circle cx="579.63" cy="307.60" r="2.35" fill="#fccdd5" stroke="#f7a0b6" stroke-width="0.8"/>
<circle cx="427.95" cy="313.20" r="2.35" fill="#fccdd5" stroke="#f7a0b6" stroke-width="0.8"/>
<circle cx="581.40" cy="313.20" r="2.35" fill="#fccdd5" stroke="#f7a0b6" stroke-width="0.8"/>
<path d="M429.3,345.0 429.3,343.9 429.3,342.4 429.3,340.7 429.3,338.9 429.3,337.3 429.2,335.9 429.2,334.6 429.1,333.3 429.0,332.0 429.0,330.7 429.0,329.4 429.1,328.1 429.2,326.9 429.2,325.6 429.3,324.2 429.3,322.7 429.4,321.2 429.4,319.7 429.4,318.2 429.5,316.7 429.6,315.3 429.6,314.0 429.7,312.8 429.8,311.5 429.9,310.2 430.0,308.9 430.1,307.6 430.2,306.3 430.3,305.0 430.5,303.6 430.7,302.2 431.0,300.7 431.4,299.2 431.7,297.7 432.1,296.2 432.5,294.7 432.8,293.2 433.2,291.7 433.6,290.2 434.1,288.8 434.7,287.4 435.4,286.1 436.1,284.8 436.8,283.4 437.4,282.1 438.0,280.7 438.5,279.4 439.1,278.0 439.6,276.6 440.2,275.2 440.8,273.8 441.5,272.4 442.2,271.0 442.8,269.6 443.4,268.3 443.9,267.1 444.3,265.9 444.8,264.7 445.2,263.6 445.7,262.5 446.3,261.5 446.9,260.4 447.5,259.5 448.2,258.5 448.9,257.6 449.7,256.7 450.5,255.8 451.4,255.0 452.3,254.2 453.2,253.4 454.2,252.7 455.2,252.0 456.2,251.4 457.3,250.8 458.5,250.2 459.7,249.7 461.0,249.2 462.3,248.7 463.6,248.3 465.0,248.0 466.4,247.8 467.9,247.6 469.4,247.5 470.9,247.4 472.4,247.3 473.9,247.2 475.5,247.1 477.1,247.1 478.6,247.0 479.9,247.0 480.9,247.0 481.7,247.0 482.5,247.0 483.4,247.0 484.7,247.0 486.5,247.0 488.8,247.1 491.2,247.1 493.6,247.2 495.7,247.3 497.6,247.4 499.3,247.5 501.0,247.6 502.6,247.7 504.3,248.0 506.0,248.4 507.8,248.9 509.5,249.4 511.2,250.0 512.8,250.7 514.4,251.4 515.9,252.2 517.3,253.1 518.8,254.0 520.3,255.0 521.8,256.1 523.4,257.3 524.9,258.5 526.4,259.7 527.8,260.9 529.2,262.0 530.6,263.2 531.9,264.3 533.1,265.4 534.2,266.2 535.0,266.7 535.6,267.0 536.1,267.3 536.6,267.6 537.3,268.3 538.1,269.4 539.1,270.7 540.1,272.2 541.1,273.7 542.1,275.2 543.1,276.6 544.2,278.0 545.2,279.5 546.3,280.9 547.4,282.3 548.5,283.7 549.6,285.1 550.7,286.5 551.9,287.9 553.0,289.3 554.2,290.7 555.4,292.0 556.6,293.4 557.7,294.8 558.9,296.2 560.0,297.7 561.2,299.2 562.3,300.7 563.4,302.2 564.3,303.6 565.1,305.0 565.7,306.3 566.3,307.6 566.9,308.9 567.6,310.2 568.3,311.6 569.1,313.0 569.9,314.4 570.7,315.8 571.5,317.2 572.3,318.6 573.1,320.0 573.9,321.4 574.6,322.8 575.3,324.2 575.9,325.6 576.4,326.9 576.9,328.3 577.5,329.6 578.0,331.0 578.6,332.4 579.2,333.7 579.9,335.1 580.5,336.4 581.1,337.8 581.7,339.3 582.4,341.0 583.1,342.6 583.6,344.0 584.0,345.0" fill="none" stroke="#4b0c6b" stroke-width="1.9" stroke-linejoin="round" />
<circle cx="443.40" cy="268.30" r="2.35" fill="#c0229a" stroke="#4b0c6b" stroke-width="0.85"/>
<circle cx="537.30" cy="268.30" r="2.35" fill="#c0229a" stroke="#4b0c6b" stroke-width="0.85"/>
<circle cx="440.20" cy="275.20" r="2.35" fill="#c0229a" stroke="#4b0c6b" stroke-width="0.85"/>
<circle cx="542.10" cy="275.20" r="2.35" fill="#c0229a" stroke="#4b0c6b" stroke-width="0.85"/>
<circle cx="437.35" cy="282.20" r="2.35" fill="#c0229a" stroke="#4b0c6b" stroke-width="0.85"/>
<circle cx="547.32" cy="282.20" r="2.35" fill="#c0229a" stroke="#4b0c6b" stroke-width="0.85"/>
<circle cx="434.03" cy="289.00" r="2.35" fill="#c0229a" stroke="#4b0c6b" stroke-width="0.85"/>
<circle cx="552.75" cy="289.00" r="2.35" fill="#c0229a" stroke="#4b0c6b" stroke-width="0.85"/>
<circle cx="432.12" cy="296.10" r="2.35" fill="#c0229a" stroke="#4b0c6b" stroke-width="0.85"/>
<circle cx="558.82" cy="296.10" r="2.35" fill="#c0229a" stroke="#4b0c6b" stroke-width="0.85"/>
<circle cx="430.50" cy="303.60" r="2.35" fill="#c0229a" stroke="#4b0c6b" stroke-width="0.85"/>
<circle cx="564.30" cy="303.60" r="2.35" fill="#c0229a" stroke="#4b0c6b" stroke-width="0.85"/>
<circle cx="429.90" cy="310.20" r="2.35" fill="#c0229a" stroke="#4b0c6b" stroke-width="0.85"/>
<circle cx="567.60" cy="310.20" r="2.35" fill="#c0229a" stroke="#4b0c6b" stroke-width="0.85"/>
<circle cx="429.49" cy="317.10" r="2.35" fill="#c0229a" stroke="#4b0c6b" stroke-width="0.85"/>
<circle cx="571.44" cy="317.10" r="2.35" fill="#c0229a" stroke="#4b0c6b" stroke-width="0.85"/>
<circle cx="429.30" cy="324.20" r="2.35" fill="#c0229a" stroke="#4b0c6b" stroke-width="0.85"/>
<circle cx="575.30" cy="324.20" r="2.35" fill="#c0229a" stroke="#4b0c6b" stroke-width="0.85"/>
<circle cx="429.01" cy="331.00" r="2.35" fill="#c0229a" stroke="#4b0c6b" stroke-width="0.85"/>
<circle cx="578.00" cy="331.00" r="2.35" fill="#c0229a" stroke="#4b0c6b" stroke-width="0.85"/>
<circle cx="429.30" cy="337.60" r="2.35" fill="#c0229a" stroke="#4b0c6b" stroke-width="0.85"/>
<circle cx="581.01" cy="337.60" r="2.35" fill="#c0229a" stroke="#4b0c6b" stroke-width="0.85"/>
</g>
<path d="M475.40,198.50 l4.4,4.4 M475.40,202.90 l4.4,-4.4" stroke="#f26b8c" stroke-width="1.3"/>
<path d="M482.50,244.80 l4.4,4.4 M482.50,249.20 l4.4,-4.4" stroke="#4b0c6b" stroke-width="1.3"/>
<path d="M428.10,303.30 Q394.50,303.30 394.50,231.20" fill="none" stroke="#f26b8c" stroke-width="1"/>
<path d="M392.30,235.50 L394.50,231.20 L396.70,235.50" fill="none" stroke="#f26b8c" stroke-width="1"/>
<path d="M580.00,303.30 Q603.00,303.30 603.00,231.20" fill="none" stroke="#f26b8c" stroke-width="1"/>
<path d="M600.80,235.50 L603.00,231.20 L605.20,235.50" fill="none" stroke="#f26b8c" stroke-width="1"/>
<path d="M429.60,303.30 Q413.40,303.30 413.40,269.50" fill="none" stroke="#5c1a80" stroke-width="1"/>
<path d="M411.20,273.80 L413.40,269.50 L415.60,273.80" fill="none" stroke="#5c1a80" stroke-width="1"/>
<path d="M565.00,303.30 Q582.90,303.30 582.90,270.30" fill="none" stroke="#5c1a80" stroke-width="1"/>
<path d="M580.70,274.60 L582.90,270.30 L585.10,274.60" fill="none" stroke="#5c1a80" stroke-width="1"/>
<text x="396.80" y="221.00" font-size="12.5" text-anchor="middle" fill="#f0658f" font-weight="normal" font-style="normal" letter-spacing="0.6" stroke="#f0658f" stroke-width="0.3" >(i)</text>
<text x="602.50" y="221.00" font-size="12.5" text-anchor="middle" fill="#f0658f" font-weight="normal" font-style="normal" letter-spacing="0.6" stroke="#f0658f" stroke-width="0.3" >(ii)</text>
<text x="411.90" y="260.00" font-size="12.5" text-anchor="middle" fill="#5c1a80" font-weight="normal" font-style="normal" letter-spacing="0.6" stroke="#5c1a80" stroke-width="0.3" >(iii)</text>
<text x="581.90" y="260.00" font-size="12.5" text-anchor="middle" fill="#5c1a80" font-weight="normal" font-style="normal" letter-spacing="0.6" stroke="#5c1a80" stroke-width="0.3" >(iv)</text>
<g fill="#f26b8c" stroke="#f26b8c" stroke-width="0.3">
<text x="459.90" y="216.90" font-size="11.60" font-style="italic">E</text>
<text x="467.40" y="215.10" font-size="10.50">*</text>
<text x="466.40" y="218.90" font-size="8.60">max</text>
<text x="483.70" y="217.20" font-size="12.00">=</text>
<text x="493.30" y="216.90" font-size="11.60">0</text>
</g>
<g fill="#5c1a80" stroke="#5c1a80" stroke-width="0.3">
<text x="466.80" y="266.00" font-size="11.60" font-style="italic">E</text>
<text x="474.30" y="264.20" font-size="10.50">*</text>
<text x="473.30" y="268.00" font-size="8.60">max</text>
<text x="490.60" y="266.30" font-size="12.00">=</text>
<text x="500.20" y="266.00" font-size="11.60">4</text>
</g>
<line x1="426.10" y1="338.10" x2="426.10" y2="334.10" stroke="#222" stroke-width="1.0"/>
<line x1="426.10" y1="154.40" x2="426.10" y2="158.40" stroke="#222" stroke-width="1.0"/>
<line x1="463.70" y1="338.10" x2="463.70" y2="334.10" stroke="#222" stroke-width="1.0"/>
<line x1="463.70" y1="154.40" x2="463.70" y2="158.40" stroke="#222" stroke-width="1.0"/>
<line x1="501.30" y1="338.10" x2="501.30" y2="334.10" stroke="#222" stroke-width="1.0"/>
<line x1="501.30" y1="154.40" x2="501.30" y2="158.40" stroke="#222" stroke-width="1.0"/>
<line x1="538.90" y1="338.10" x2="538.90" y2="334.10" stroke="#222" stroke-width="1.0"/>
<line x1="538.90" y1="154.40" x2="538.90" y2="158.40" stroke="#222" stroke-width="1.0"/>
<line x1="576.50" y1="338.10" x2="576.50" y2="334.10" stroke="#222" stroke-width="1.0"/>
<line x1="576.50" y1="154.40" x2="576.50" y2="158.40" stroke="#222" stroke-width="1.0"/>
<line x1="614.10" y1="338.10" x2="614.10" y2="334.10" stroke="#222" stroke-width="1.0"/>
<line x1="614.10" y1="154.40" x2="614.10" y2="158.40" stroke="#222" stroke-width="1.0"/>
<line x1="384.10" y1="324.50" x2="388.10" y2="324.50" stroke="#222" stroke-width="1.0"/>
<line x1="623.80" y1="324.50" x2="619.80" y2="324.50" stroke="#222" stroke-width="1.0"/>
<line x1="384.10" y1="292.90" x2="388.10" y2="292.90" stroke="#222" stroke-width="1.0"/>
<line x1="623.80" y1="292.90" x2="619.80" y2="292.90" stroke="#222" stroke-width="1.0"/>
<line x1="384.10" y1="261.30" x2="388.10" y2="261.30" stroke="#222" stroke-width="1.0"/>
<line x1="623.80" y1="261.30" x2="619.80" y2="261.30" stroke="#222" stroke-width="1.0"/>
<line x1="384.10" y1="229.70" x2="388.10" y2="229.70" stroke="#222" stroke-width="1.0"/>
<line x1="623.80" y1="229.70" x2="619.80" y2="229.70" stroke="#222" stroke-width="1.0"/>
<line x1="384.10" y1="198.10" x2="388.10" y2="198.10" stroke="#222" stroke-width="1.0"/>
<line x1="623.80" y1="198.10" x2="619.80" y2="198.10" stroke="#222" stroke-width="1.0"/>
<line x1="384.10" y1="166.50" x2="388.10" y2="166.50" stroke="#222" stroke-width="1.0"/>
<line x1="623.80" y1="166.50" x2="619.80" y2="166.50" stroke="#222" stroke-width="1.0"/>
<line x1="378.2" y1="176.6" x2="384.1" y2="176.6" stroke="#222" stroke-width="1"/>
<rect x="384.10" y="154.40" width="239.70" height="183.70" fill="none" stroke="#333" stroke-width="1.3"/>
<text x="426.10" y="353.20" font-size="13.8" text-anchor="middle" fill="#111" font-weight="normal" font-style="normal" letter-spacing="0.6" stroke="#111" stroke-width="0.3" >0.0</text>
<text x="463.70" y="353.20" font-size="13.8" text-anchor="middle" fill="#111" font-weight="normal" font-style="normal" letter-spacing="0.6" stroke="#111" stroke-width="0.3" >0.2</text>
<text x="501.30" y="353.20" font-size="13.8" text-anchor="middle" fill="#111" font-weight="normal" font-style="normal" letter-spacing="0.6" stroke="#111" stroke-width="0.3" >0.4</text>
<text x="538.90" y="353.20" font-size="13.8" text-anchor="middle" fill="#111" font-weight="normal" font-style="normal" letter-spacing="0.6" stroke="#111" stroke-width="0.3" >0.6</text>
<text x="576.50" y="354.70" font-size="13.8" text-anchor="middle" fill="#111" font-weight="normal" font-style="normal" letter-spacing="0.6" stroke="#111" stroke-width="0.3" >0.8</text>
<text x="614.10" y="353.20" font-size="13.8" text-anchor="middle" fill="#111" font-weight="normal" font-style="normal" letter-spacing="0.6" stroke="#111" stroke-width="0.3" >1.0</text>
<text x="379.80" y="329.40" font-size="13.8" text-anchor="end" fill="#111" font-weight="normal" font-style="normal" letter-spacing="0.6" stroke="#111" stroke-width="0.3" >1.2</text>
<text x="379.80" y="297.80" font-size="13.8" text-anchor="end" fill="#111" font-weight="normal" font-style="normal" letter-spacing="0.6" stroke="#111" stroke-width="0.3" >1.4</text>
<text x="379.80" y="266.20" font-size="13.8" text-anchor="end" fill="#111" font-weight="normal" font-style="normal" letter-spacing="0.6" stroke="#111" stroke-width="0.3" >1.6</text>
<text x="379.80" y="234.60" font-size="13.8" text-anchor="end" fill="#111" font-weight="normal" font-style="normal" letter-spacing="0.6" stroke="#111" stroke-width="0.3" >1.8</text>
<text x="379.80" y="203.00" font-size="13.8" text-anchor="end" fill="#111" font-weight="normal" font-style="normal" letter-spacing="0.6" stroke="#111" stroke-width="0.3" >2.0</text>
<text x="379.80" y="171.40" font-size="13.8" text-anchor="end" fill="#111" font-weight="normal" font-style="normal" letter-spacing="0.6" stroke="#111" stroke-width="0.3" >2.2</text>
<text x="353.20" y="249.20" font-size="13.8" text-anchor="middle" fill="#111" font-weight="normal" font-style="normal" transform="rotate(-90 353.20 249.20)" stroke="#111" stroke-width="0.3" ><tspan font-style="italic">T</tspan><tspan font-size="11" dy="-4.5" dx="3">*</tspan></text>
<text x="494.30" y="370.80" font-size="14" text-anchor="start" fill="#111" font-weight="normal" font-style="normal" stroke="#111" stroke-width="0.3" ><tspan font-style="italic">ρ</tspan><tspan font-size="11" dy="-5" dx="3">*</tspan></text>
<line x1="494.8" y1="361.3" x2="503.9" y2="361.3" stroke="#111" stroke-width="1.1"/>
<text x="339.40" y="165.50" font-size="13.6" text-anchor="start" fill="#111" font-weight="bold" font-style="normal" >d</text>
<rect x="637.1" y="162.1" width="45.5" height="17.6" rx="3" fill="#9a007f" stroke="#111" stroke-width="0.9"/>
<rect x="639.0" y="294.2" width="45.5" height="17.4" rx="3" fill="#134a8c" stroke="#111" stroke-width="0.9"/>
<g fill="#fff" font-weight="bold">
<text x="643.38" y="173.60" font-size="10.00" font-style="italic">T</text>
<text x="648.82" y="172.80" font-size="9.60">*</text>
<text x="653.78" y="173.60" font-size="10.00">&gt;</text>
<text x="661.78" y="173.60" font-size="10.00" font-style="italic">T</text>
<text x="667.46" y="172.80" font-size="9.60">*</text>
<text x="667.54" y="176.60" font-size="6.88">c,0</text>
</g>
<g fill="#fff" font-weight="bold">
<text x="645.28" y="305.70" font-size="10.00" font-style="italic">T</text>
<text x="650.72" y="304.90" font-size="9.60">*</text>
<text x="655.68" y="305.70" font-size="10.00">&lt;</text>
<text x="663.68" y="305.70" font-size="10.00" font-style="italic">T</text>
<text x="669.36" y="304.90" font-size="9.60">*</text>
<text x="669.44" y="308.70" font-size="6.88">c,0</text>
</g></svg>
</body></html>
